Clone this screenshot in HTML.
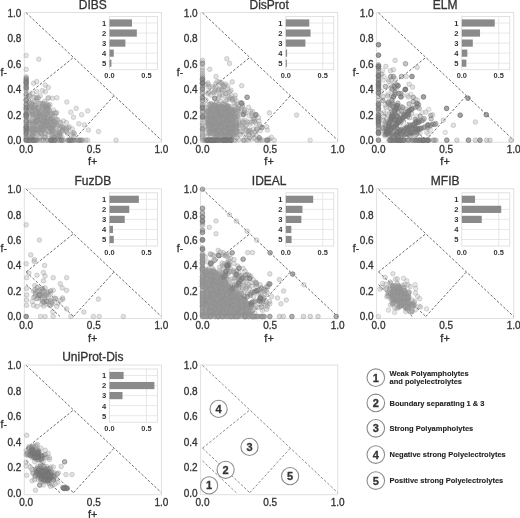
<!DOCTYPE html>
<html><head><meta charset="utf-8"><style>
html,body{margin:0;padding:0;background:#fff;}
svg{display:block;will-change:transform;filter:blur(0.45px);}
text{font-family:"Liberation Sans", sans-serif;fill:#333;stroke:#333;stroke-width:0.3px;}
text.b{font-weight:bold;fill:#333;stroke:none;}
text.lg{font-weight:bold;fill:#222;stroke:#222;stroke-width:0.1px;}
.p circle,.q circle{stroke-width:1.0;}
.p circle{fill:#9a9a9a;stroke:#8e8e8e;}
.q circle{fill:#7e7e7e;stroke:#727272;}
</style></head><body>
<svg width="520" height="518" viewBox="0 0 520 518">
<rect width="520" height="518" fill="#fff"/>
<rect x="24.30" y="12.50" width="137.1" height="129.7" fill="none" stroke="#e0e0e0" stroke-width="1"/>
<path d="M26.20 12.90L161.40 140.20M26.20 95.64L73.52 57.45M73.52 140.20L114.08 95.64M26.20 95.64L73.52 140.20M26.20 108.37L60.00 140.20" fill="none" stroke="#6c6c6c" stroke-width="1.0" stroke-dasharray="2.6 1.8"/>
<g class="p" fill-opacity="0.28" stroke-opacity="0.33"><circle cx="43.8" cy="132.8" r="2.3"/><circle cx="58.8" cy="135.7" r="2.3"/><circle cx="53.5" cy="125.0" r="2.3"/><circle cx="31.6" cy="119.9" r="2.3"/><circle cx="30.6" cy="122.6" r="2.3"/><circle cx="32.1" cy="135.0" r="2.3"/><circle cx="48.4" cy="108.3" r="2.3"/><circle cx="34.6" cy="130.2" r="2.3"/><circle cx="55.4" cy="123.9" r="2.3"/><circle cx="73.8" cy="136.6" r="2.3"/><circle cx="68.4" cy="127.8" r="2.3"/><circle cx="35.5" cy="134.0" r="2.3"/><circle cx="43.1" cy="108.7" r="2.3"/><circle cx="37.2" cy="117.2" r="2.3"/><circle cx="58.3" cy="124.8" r="2.3"/><circle cx="54.1" cy="136.0" r="2.3"/><circle cx="31.6" cy="130.8" r="2.3"/><circle cx="60.2" cy="122.8" r="2.3"/><circle cx="43.3" cy="117.0" r="2.3"/><circle cx="49.7" cy="127.4" r="2.3"/><circle cx="40.1" cy="117.5" r="2.3"/><circle cx="62.4" cy="127.8" r="2.3"/><circle cx="74.0" cy="134.0" r="2.3"/><circle cx="48.1" cy="110.8" r="2.3"/><circle cx="35.9" cy="120.5" r="2.3"/><circle cx="30.7" cy="114.1" r="2.3"/><circle cx="69.2" cy="126.9" r="2.3"/><circle cx="55.6" cy="121.7" r="2.3"/><circle cx="50.7" cy="114.2" r="2.3"/><circle cx="31.7" cy="112.8" r="2.3"/><circle cx="66.7" cy="128.0" r="2.3"/><circle cx="46.6" cy="114.0" r="2.3"/><circle cx="29.9" cy="121.5" r="2.3"/><circle cx="36.6" cy="134.0" r="2.3"/><circle cx="31.6" cy="110.4" r="2.3"/><circle cx="34.9" cy="129.3" r="2.3"/><circle cx="46.9" cy="106.7" r="2.3"/><circle cx="32.6" cy="122.0" r="2.3"/><circle cx="41.7" cy="123.2" r="2.3"/><circle cx="45.4" cy="106.2" r="2.3"/><circle cx="72.9" cy="132.8" r="2.3"/><circle cx="37.0" cy="129.9" r="2.3"/><circle cx="39.6" cy="120.7" r="2.3"/><circle cx="56.0" cy="128.8" r="2.3"/><circle cx="29.1" cy="123.1" r="2.3"/><circle cx="45.9" cy="117.7" r="2.3"/><circle cx="52.6" cy="115.9" r="2.3"/><circle cx="60.0" cy="136.3" r="2.3"/><circle cx="46.9" cy="123.8" r="2.3"/><circle cx="33.7" cy="115.3" r="2.3"/><circle cx="31.8" cy="135.8" r="2.3"/><circle cx="38.5" cy="132.4" r="2.3"/><circle cx="44.5" cy="136.4" r="2.3"/><circle cx="28.9" cy="132.8" r="2.3"/><circle cx="33.6" cy="125.1" r="2.3"/><circle cx="30.1" cy="106.6" r="2.3"/><circle cx="57.1" cy="132.9" r="2.3"/><circle cx="40.5" cy="125.7" r="2.3"/><circle cx="45.6" cy="133.8" r="2.3"/><circle cx="50.3" cy="120.7" r="2.3"/><circle cx="32.9" cy="134.6" r="2.3"/><circle cx="44.7" cy="128.7" r="2.3"/><circle cx="67.0" cy="132.4" r="2.3"/><circle cx="30.0" cy="103.8" r="2.3"/><circle cx="53.2" cy="133.0" r="2.3"/><circle cx="53.9" cy="137.3" r="2.3"/><circle cx="40.9" cy="125.0" r="2.3"/><circle cx="36.6" cy="110.3" r="2.3"/><circle cx="53.4" cy="110.0" r="2.3"/><circle cx="44.1" cy="130.2" r="2.3"/><circle cx="39.3" cy="119.5" r="2.3"/><circle cx="45.2" cy="137.2" r="2.3"/><circle cx="30.2" cy="128.2" r="2.3"/><circle cx="40.8" cy="113.2" r="2.3"/><circle cx="39.0" cy="130.1" r="2.3"/><circle cx="37.9" cy="130.9" r="2.3"/><circle cx="32.8" cy="114.3" r="2.3"/><circle cx="63.4" cy="121.0" r="2.3"/><circle cx="37.1" cy="109.7" r="2.3"/><circle cx="44.2" cy="109.2" r="2.3"/><circle cx="62.2" cy="132.1" r="2.3"/><circle cx="34.7" cy="132.8" r="2.3"/><circle cx="35.6" cy="108.3" r="2.3"/><circle cx="45.0" cy="118.4" r="2.3"/><circle cx="34.9" cy="137.8" r="2.3"/><circle cx="48.8" cy="106.7" r="2.3"/><circle cx="66.9" cy="130.6" r="2.3"/><circle cx="40.5" cy="127.7" r="2.3"/><circle cx="40.0" cy="117.0" r="2.3"/><circle cx="40.8" cy="123.1" r="2.3"/><circle cx="34.9" cy="105.3" r="2.3"/><circle cx="45.2" cy="121.7" r="2.3"/><circle cx="48.2" cy="105.0" r="2.3"/><circle cx="52.0" cy="119.0" r="2.3"/><circle cx="53.0" cy="137.6" r="2.3"/><circle cx="49.1" cy="131.6" r="2.3"/><circle cx="29.1" cy="109.3" r="2.3"/><circle cx="36.8" cy="121.1" r="2.3"/><circle cx="43.9" cy="119.5" r="2.3"/><circle cx="33.8" cy="118.0" r="2.3"/><circle cx="40.3" cy="128.2" r="2.3"/><circle cx="57.1" cy="119.9" r="2.3"/><circle cx="52.4" cy="113.2" r="2.3"/><circle cx="49.7" cy="118.9" r="2.3"/><circle cx="72.2" cy="128.9" r="2.3"/><circle cx="67.5" cy="133.3" r="2.3"/><circle cx="34.5" cy="122.3" r="2.3"/><circle cx="32.2" cy="129.6" r="2.3"/><circle cx="32.3" cy="114.0" r="2.3"/><circle cx="36.0" cy="112.3" r="2.3"/><circle cx="59.3" cy="133.1" r="2.3"/><circle cx="39.0" cy="103.7" r="2.3"/><circle cx="47.2" cy="120.6" r="2.3"/><circle cx="36.3" cy="122.6" r="2.3"/><circle cx="52.6" cy="126.0" r="2.3"/><circle cx="37.9" cy="126.7" r="2.3"/><circle cx="62.1" cy="137.6" r="2.3"/><circle cx="54.4" cy="122.3" r="2.3"/><circle cx="29.7" cy="126.3" r="2.3"/><circle cx="57.6" cy="119.7" r="2.3"/><circle cx="31.9" cy="102.6" r="2.3"/><circle cx="33.7" cy="128.7" r="2.3"/><circle cx="30.7" cy="110.0" r="2.3"/><circle cx="41.3" cy="133.6" r="2.3"/><circle cx="48.3" cy="105.2" r="2.3"/><circle cx="66.6" cy="128.9" r="2.3"/><circle cx="35.8" cy="104.9" r="2.3"/><circle cx="55.1" cy="112.9" r="2.3"/><circle cx="33.0" cy="136.2" r="2.3"/><circle cx="60.5" cy="122.9" r="2.3"/><circle cx="32.2" cy="104.3" r="2.3"/><circle cx="32.8" cy="107.2" r="2.3"/><circle cx="32.0" cy="107.0" r="2.3"/><circle cx="49.8" cy="126.0" r="2.3"/><circle cx="41.2" cy="133.6" r="2.3"/><circle cx="53.1" cy="129.6" r="2.3"/><circle cx="33.9" cy="132.4" r="2.3"/><circle cx="31.2" cy="131.0" r="2.3"/><circle cx="43.2" cy="127.2" r="2.3"/><circle cx="63.8" cy="127.8" r="2.3"/><circle cx="51.9" cy="131.8" r="2.3"/><circle cx="44.9" cy="137.6" r="2.3"/><circle cx="40.4" cy="137.7" r="2.3"/><circle cx="37.6" cy="121.1" r="2.3"/><circle cx="71.9" cy="134.4" r="2.3"/><circle cx="66.5" cy="122.6" r="2.3"/><circle cx="47.0" cy="119.9" r="2.3"/><circle cx="44.7" cy="108.1" r="2.3"/><circle cx="47.5" cy="125.7" r="2.3"/><circle cx="31.4" cy="133.6" r="2.3"/><circle cx="32.1" cy="111.4" r="2.3"/><circle cx="40.7" cy="132.4" r="2.3"/><circle cx="32.8" cy="107.8" r="2.3"/><circle cx="41.9" cy="129.5" r="2.3"/><circle cx="42.4" cy="121.6" r="2.3"/><circle cx="36.2" cy="122.1" r="2.3"/><circle cx="41.0" cy="103.4" r="2.3"/><circle cx="40.1" cy="103.3" r="2.3"/><circle cx="43.1" cy="125.4" r="2.3"/><circle cx="29.0" cy="124.4" r="2.3"/><circle cx="50.7" cy="120.0" r="2.3"/><circle cx="38.1" cy="120.0" r="2.3"/><circle cx="29.1" cy="128.7" r="2.3"/><circle cx="33.0" cy="123.8" r="2.3"/><circle cx="30.8" cy="137.5" r="2.3"/><circle cx="42.9" cy="129.8" r="2.3"/><circle cx="55.8" cy="119.1" r="2.3"/><circle cx="46.8" cy="126.5" r="2.3"/><circle cx="74.2" cy="132.9" r="2.3"/><circle cx="30.9" cy="108.0" r="2.3"/><circle cx="35.3" cy="119.3" r="2.3"/><circle cx="39.5" cy="137.2" r="2.3"/><circle cx="35.0" cy="125.2" r="2.3"/><circle cx="33.7" cy="108.0" r="2.3"/><circle cx="54.6" cy="115.5" r="2.3"/><circle cx="51.4" cy="138.2" r="2.3"/><circle cx="52.0" cy="118.9" r="2.3"/><circle cx="59.2" cy="135.9" r="2.3"/><circle cx="62.8" cy="129.1" r="2.3"/><circle cx="32.3" cy="128.7" r="2.3"/><circle cx="62.4" cy="130.8" r="2.3"/><circle cx="51.6" cy="124.4" r="2.3"/><circle cx="50.9" cy="113.5" r="2.3"/><circle cx="58.4" cy="135.5" r="2.3"/><circle cx="35.7" cy="129.1" r="2.3"/><circle cx="63.1" cy="127.2" r="2.3"/><circle cx="55.0" cy="137.8" r="2.3"/><circle cx="31.7" cy="128.5" r="2.3"/><circle cx="60.0" cy="127.7" r="2.3"/><circle cx="52.6" cy="121.4" r="2.3"/><circle cx="46.6" cy="111.7" r="2.3"/><circle cx="29.6" cy="103.1" r="2.3"/><circle cx="45.9" cy="107.9" r="2.3"/><circle cx="36.9" cy="99.9" r="2.3"/><circle cx="34.3" cy="101.4" r="2.3"/><circle cx="47.3" cy="114.1" r="2.3"/><circle cx="29.0" cy="102.2" r="2.3"/><circle cx="46.0" cy="107.1" r="2.3"/><circle cx="34.2" cy="106.0" r="2.3"/><circle cx="29.0" cy="95.6" r="2.3"/><circle cx="43.0" cy="104.7" r="2.3"/><circle cx="42.6" cy="103.8" r="2.3"/><circle cx="39.3" cy="113.5" r="2.3"/><circle cx="32.8" cy="93.5" r="2.3"/><circle cx="38.3" cy="108.0" r="2.3"/><circle cx="48.3" cy="109.9" r="2.3"/><circle cx="56.1" cy="113.5" r="2.3"/><circle cx="39.7" cy="113.5" r="2.3"/><circle cx="46.8" cy="106.0" r="2.3"/><circle cx="40.2" cy="95.9" r="2.3"/><circle cx="50.0" cy="104.7" r="2.3"/><circle cx="35.2" cy="110.6" r="2.3"/><circle cx="36.8" cy="91.7" r="2.3"/><circle cx="47.7" cy="109.1" r="2.3"/><circle cx="45.9" cy="111.2" r="2.3"/><circle cx="36.2" cy="112.4" r="2.3"/><circle cx="41.8" cy="112.4" r="2.3"/><circle cx="38.0" cy="108.2" r="2.3"/><circle cx="44.6" cy="101.4" r="2.3"/><circle cx="43.2" cy="106.1" r="2.3"/><circle cx="31.3" cy="107.7" r="2.3"/><circle cx="39.2" cy="108.4" r="2.3"/><circle cx="44.0" cy="103.4" r="2.3"/><circle cx="30.1" cy="96.7" r="2.3"/><circle cx="51.1" cy="114.7" r="2.3"/><circle cx="51.8" cy="127.9" r="2.3"/><circle cx="48.6" cy="122.1" r="2.3"/><circle cx="59.9" cy="135.1" r="2.3"/><circle cx="32.7" cy="132.2" r="2.3"/><circle cx="30.6" cy="115.5" r="2.3"/><circle cx="62.1" cy="126.5" r="2.3"/><circle cx="46.4" cy="103.8" r="2.3"/><circle cx="38.2" cy="127.8" r="2.3"/><circle cx="49.5" cy="120.7" r="2.3"/><circle cx="32.8" cy="130.4" r="2.3"/><circle cx="46.9" cy="122.5" r="2.3"/><circle cx="29.6" cy="120.2" r="2.3"/><circle cx="37.9" cy="117.1" r="2.3"/><circle cx="42.5" cy="124.0" r="2.3"/><circle cx="39.9" cy="112.4" r="2.3"/><circle cx="58.8" cy="132.7" r="2.3"/><circle cx="52.9" cy="134.2" r="2.3"/><circle cx="44.6" cy="116.9" r="2.3"/><circle cx="60.1" cy="133.4" r="2.3"/><circle cx="43.0" cy="121.5" r="2.3"/><circle cx="36.5" cy="117.4" r="2.3"/><circle cx="31.6" cy="137.5" r="2.3"/><circle cx="44.2" cy="121.4" r="2.3"/><circle cx="37.8" cy="113.1" r="2.3"/><circle cx="40.8" cy="128.2" r="2.3"/><circle cx="36.4" cy="121.1" r="2.3"/><circle cx="53.0" cy="128.6" r="2.3"/><circle cx="47.1" cy="131.0" r="2.3"/><circle cx="47.0" cy="109.4" r="2.3"/><circle cx="36.4" cy="98.8" r="2.3"/><circle cx="36.8" cy="120.9" r="2.3"/><circle cx="45.7" cy="114.8" r="2.3"/><circle cx="30.4" cy="138.2" r="2.3"/><circle cx="50.3" cy="118.7" r="2.3"/><circle cx="46.0" cy="122.1" r="2.3"/><circle cx="53.8" cy="124.0" r="2.3"/><circle cx="52.6" cy="130.4" r="2.3"/><circle cx="43.7" cy="126.0" r="2.3"/><circle cx="38.4" cy="129.4" r="2.3"/><circle cx="37.0" cy="115.1" r="2.3"/><circle cx="44.2" cy="123.2" r="2.3"/><circle cx="41.9" cy="114.4" r="2.3"/><circle cx="49.1" cy="127.0" r="2.3"/><circle cx="51.0" cy="127.8" r="2.3"/><circle cx="31.3" cy="105.4" r="2.3"/><circle cx="48.8" cy="134.5" r="2.3"/><circle cx="55.4" cy="124.8" r="2.3"/><circle cx="47.4" cy="116.7" r="2.3"/><circle cx="45.9" cy="125.9" r="2.3"/><circle cx="44.1" cy="126.5" r="2.3"/><circle cx="47.6" cy="124.4" r="2.3"/><circle cx="51.1" cy="129.9" r="2.3"/><circle cx="39.2" cy="115.6" r="2.3"/><circle cx="58.2" cy="132.5" r="2.3"/><circle cx="42.5" cy="108.4" r="2.3"/><circle cx="40.2" cy="115.5" r="2.3"/><circle cx="61.9" cy="130.1" r="2.3"/><circle cx="57.1" cy="135.3" r="2.3"/><circle cx="46.0" cy="125.2" r="2.3"/><circle cx="45.0" cy="113.6" r="2.3"/><circle cx="37.6" cy="116.7" r="2.3"/><circle cx="32.4" cy="114.7" r="2.3"/><circle cx="50.0" cy="128.6" r="2.3"/><circle cx="36.2" cy="126.0" r="2.3"/><circle cx="39.4" cy="114.0" r="2.3"/><circle cx="44.7" cy="127.7" r="2.3"/><circle cx="49.7" cy="111.1" r="2.3"/><circle cx="43.8" cy="120.3" r="2.3"/><circle cx="57.2" cy="126.2" r="2.3"/><circle cx="29.9" cy="95.2" r="2.3"/><circle cx="43.4" cy="119.6" r="2.3"/><circle cx="54.2" cy="121.3" r="2.3"/><circle cx="40.8" cy="132.4" r="2.3"/><circle cx="44.9" cy="114.4" r="2.3"/><circle cx="32.0" cy="128.8" r="2.3"/><circle cx="41.0" cy="126.7" r="2.3"/><circle cx="48.7" cy="132.0" r="2.3"/><circle cx="34.2" cy="123.7" r="2.3"/><circle cx="43.2" cy="129.6" r="2.3"/><circle cx="43.9" cy="116.7" r="2.3"/><circle cx="56.6" cy="112.6" r="2.3"/><circle cx="35.3" cy="124.4" r="2.3"/><circle cx="35.9" cy="121.0" r="2.3"/><circle cx="48.8" cy="125.8" r="2.3"/><circle cx="52.5" cy="125.0" r="2.3"/><circle cx="48.9" cy="121.5" r="2.3"/><circle cx="57.9" cy="131.0" r="2.3"/><circle cx="53.2" cy="131.0" r="2.3"/><circle cx="51.6" cy="134.2" r="2.3"/><circle cx="42.6" cy="107.1" r="2.3"/><circle cx="56.8" cy="97.7" r="2.3"/><circle cx="48.7" cy="97.6" r="2.3"/><circle cx="37.7" cy="97.7" r="2.3"/><circle cx="47.8" cy="98.5" r="2.3"/><circle cx="34.1" cy="97.3" r="2.3"/><circle cx="38.4" cy="97.8" r="2.3"/><circle cx="52.4" cy="98.3" r="2.3"/><circle cx="36.0" cy="97.7" r="2.3"/><circle cx="33.6" cy="83.3" r="2.3"/><circle cx="36.7" cy="81.6" r="2.3"/><circle cx="45.3" cy="85.2" r="2.3"/><circle cx="48.4" cy="87.5" r="2.3"/><circle cx="45.3" cy="91.8" r="2.3"/><circle cx="42.4" cy="90.6" r="2.3"/><circle cx="87.7" cy="110.9" r="2.3"/><circle cx="81.6" cy="114.7" r="2.3"/><circle cx="88.4" cy="130.0" r="2.3"/><circle cx="98.5" cy="131.5" r="2.3"/><circle cx="76.2" cy="108.4" r="2.3"/><circle cx="73.5" cy="117.3" r="2.3"/><circle cx="78.9" cy="123.7" r="2.3"/><circle cx="84.3" cy="124.9" r="2.3"/><circle cx="66.8" cy="102.0" r="2.3"/><circle cx="70.8" cy="112.2" r="2.3"/></g>
<g class="q" fill-opacity="0.25" stroke-opacity="0.29"><circle cx="26.2" cy="99.5" r="2.3"/><circle cx="26.2" cy="134.4" r="2.3"/><circle cx="26.2" cy="129.8" r="2.3"/><circle cx="26.2" cy="95.9" r="2.3"/><circle cx="26.2" cy="114.1" r="2.3"/><circle cx="26.2" cy="122.2" r="2.3"/><circle cx="26.2" cy="120.6" r="2.3"/><circle cx="26.2" cy="79.5" r="2.3"/><circle cx="26.2" cy="120.3" r="2.3"/><circle cx="26.2" cy="104.1" r="2.3"/><circle cx="26.2" cy="117.5" r="2.3"/><circle cx="26.2" cy="113.7" r="2.3"/><circle cx="26.2" cy="85.2" r="2.3"/><circle cx="26.2" cy="76.8" r="2.3"/><circle cx="26.2" cy="117.0" r="2.3"/><circle cx="26.2" cy="127.6" r="2.3"/><circle cx="26.2" cy="93.9" r="2.3"/><circle cx="26.2" cy="127.2" r="2.3"/><circle cx="26.2" cy="139.8" r="2.3"/><circle cx="26.2" cy="82.8" r="2.3"/><circle cx="26.2" cy="113.2" r="2.3"/><circle cx="26.2" cy="88.0" r="2.3"/><circle cx="26.2" cy="114.3" r="2.3"/><circle cx="26.2" cy="84.0" r="2.3"/><circle cx="26.2" cy="110.9" r="2.3"/><circle cx="26.2" cy="129.9" r="2.3"/><circle cx="26.2" cy="139.3" r="2.3"/><circle cx="26.2" cy="105.1" r="2.3"/><circle cx="26.2" cy="99.4" r="2.3"/><circle cx="26.2" cy="82.3" r="2.3"/><circle cx="26.2" cy="134.5" r="2.3"/><circle cx="26.2" cy="100.6" r="2.3"/><circle cx="26.2" cy="116.6" r="2.3"/><circle cx="26.2" cy="108.1" r="2.3"/><circle cx="26.2" cy="130.9" r="2.3"/><circle cx="26.2" cy="122.2" r="2.3"/><circle cx="26.2" cy="107.0" r="2.3"/><circle cx="26.2" cy="81.3" r="2.3"/><circle cx="26.2" cy="133.3" r="2.3"/><circle cx="26.2" cy="109.0" r="2.3"/><circle cx="26.2" cy="89.0" r="2.3"/><circle cx="26.2" cy="78.7" r="2.3"/><circle cx="26.2" cy="127.6" r="2.3"/><circle cx="26.2" cy="132.1" r="2.3"/><circle cx="26.2" cy="80.2" r="2.3"/><circle cx="26.2" cy="78.1" r="2.3"/><circle cx="26.2" cy="109.5" r="2.3"/><circle cx="26.2" cy="136.8" r="2.3"/><circle cx="26.2" cy="81.2" r="2.3"/><circle cx="26.2" cy="115.5" r="2.3"/><circle cx="26.2" cy="82.6" r="2.3"/><circle cx="26.2" cy="100.7" r="2.3"/><circle cx="26.2" cy="87.7" r="2.3"/><circle cx="26.2" cy="130.0" r="2.3"/><circle cx="26.2" cy="90.2" r="2.3"/><circle cx="26.2" cy="126.1" r="2.3"/><circle cx="26.2" cy="114.5" r="2.3"/><circle cx="26.2" cy="86.3" r="2.3"/><circle cx="26.2" cy="87.4" r="2.3"/><circle cx="26.2" cy="128.6" r="2.3"/><circle cx="26.2" cy="126.3" r="2.3"/><circle cx="26.2" cy="114.8" r="2.3"/><circle cx="26.2" cy="107.2" r="2.3"/><circle cx="26.2" cy="115.8" r="2.3"/><circle cx="26.2" cy="132.4" r="2.3"/><circle cx="26.2" cy="124.5" r="2.3"/><circle cx="26.2" cy="94.1" r="2.3"/><circle cx="26.2" cy="83.1" r="2.3"/><circle cx="26.2" cy="137.6" r="2.3"/><circle cx="26.2" cy="104.4" r="2.3"/></g>
<g class="p" fill-opacity="0.28" stroke-opacity="0.33"><circle cx="26.2" cy="69.4" r="2.3"/><circle cx="26.2" cy="55.5" r="2.3"/><circle cx="38.8" cy="59.2" r="2.3"/></g>
<g class="q" fill-opacity="0.25" stroke-opacity="0.29"><circle cx="69.2" cy="140.2" r="2.3"/><circle cx="28.4" cy="140.2" r="2.3"/><circle cx="73.8" cy="140.2" r="2.3"/><circle cx="32.9" cy="140.2" r="2.3"/><circle cx="60.2" cy="140.2" r="2.3"/><circle cx="57.4" cy="140.2" r="2.3"/><circle cx="61.8" cy="140.2" r="2.3"/><circle cx="43.6" cy="140.2" r="2.3"/><circle cx="50.0" cy="140.2" r="2.3"/><circle cx="59.3" cy="140.2" r="2.3"/><circle cx="50.4" cy="140.2" r="2.3"/><circle cx="63.6" cy="140.2" r="2.3"/><circle cx="51.6" cy="140.2" r="2.3"/><circle cx="51.1" cy="140.2" r="2.3"/><circle cx="27.5" cy="140.2" r="2.3"/><circle cx="61.3" cy="140.2" r="2.3"/><circle cx="54.0" cy="140.2" r="2.3"/><circle cx="39.6" cy="140.2" r="2.3"/><circle cx="69.6" cy="140.2" r="2.3"/><circle cx="70.5" cy="140.2" r="2.3"/><circle cx="52.2" cy="140.2" r="2.3"/><circle cx="36.4" cy="140.2" r="2.3"/><circle cx="53.1" cy="140.2" r="2.3"/><circle cx="32.3" cy="140.2" r="2.3"/><circle cx="33.5" cy="140.2" r="2.3"/><circle cx="50.7" cy="140.2" r="2.3"/><circle cx="31.4" cy="140.2" r="2.3"/><circle cx="51.3" cy="140.2" r="2.3"/><circle cx="55.2" cy="140.2" r="2.3"/><circle cx="28.5" cy="140.2" r="2.3"/><circle cx="62.3" cy="140.2" r="2.3"/><circle cx="30.9" cy="140.2" r="2.3"/><circle cx="67.9" cy="140.2" r="2.3"/><circle cx="70.4" cy="140.2" r="2.3"/><circle cx="55.2" cy="140.2" r="2.3"/><circle cx="29.3" cy="140.2" r="2.3"/><circle cx="54.8" cy="140.2" r="2.3"/><circle cx="47.7" cy="140.2" r="2.3"/><circle cx="80.2" cy="140.2" r="2.3"/><circle cx="33.9" cy="140.2" r="2.3"/><circle cx="74.9" cy="140.2" r="2.3"/><circle cx="82.8" cy="140.2" r="2.3"/><circle cx="67.8" cy="140.2" r="2.3"/><circle cx="72.5" cy="140.2" r="2.3"/><circle cx="37.2" cy="140.2" r="2.3"/><circle cx="81.9" cy="140.2" r="2.3"/><circle cx="54.1" cy="140.2" r="2.3"/><circle cx="80.5" cy="140.2" r="2.3"/><circle cx="78.2" cy="140.2" r="2.3"/><circle cx="35.6" cy="140.2" r="2.3"/><circle cx="71.0" cy="140.2" r="2.3"/><circle cx="79.0" cy="140.2" r="2.3"/><circle cx="29.9" cy="140.2" r="2.3"/><circle cx="46.1" cy="140.2" r="2.3"/><circle cx="69.1" cy="140.2" r="2.3"/><circle cx="35.2" cy="140.2" r="2.3"/><circle cx="77.1" cy="140.2" r="2.3"/><circle cx="41.8" cy="140.2" r="2.3"/><circle cx="72.5" cy="140.2" r="2.3"/><circle cx="34.4" cy="140.2" r="2.3"/></g>
<g class="p" fill-opacity="0.28" stroke-opacity="0.33"><circle cx="85.7" cy="140.2" r="2.3"/><circle cx="87.7" cy="140.2" r="2.3"/><circle cx="116.1" cy="140.2" r="2.3"/></g>
<g class="q" fill-opacity="0.60" stroke-opacity="0.71"><circle cx="26.2" cy="140.2" r="2.3"/></g>
<rect x="109.50" y="16.50" width="48.0" height="53.2" fill="#fff" stroke="#dadada" stroke-width="0.8"/>
<path d="M146.42 16.50V69.70M109.50 23.00H157.50M109.50 33.05H157.50M109.50 43.10H157.50M109.50 53.15H157.50M109.50 63.20H157.50" stroke="#e2e2e2" stroke-width="0.8" fill="none"/>
<rect x="109.50" y="19.40" width="22.52" height="7.2" fill="#8a8a8a"/>
<text x="106.20" y="25.85" text-anchor="end" font-size="7.6" class="b">1</text>
<rect x="109.50" y="29.45" width="27.32" height="7.2" fill="#8a8a8a"/>
<text x="106.20" y="35.90" text-anchor="end" font-size="7.6" class="b">2</text>
<rect x="109.50" y="39.50" width="15.88" height="7.2" fill="#8a8a8a"/>
<text x="106.20" y="45.95" text-anchor="end" font-size="7.6" class="b">3</text>
<rect x="109.50" y="49.55" width="4.28" height="7.2" fill="#8a8a8a"/>
<text x="106.20" y="56.00" text-anchor="end" font-size="7.6" class="b">4</text>
<rect x="109.50" y="59.60" width="1.92" height="7.2" fill="#8a8a8a"/>
<text x="106.20" y="66.05" text-anchor="end" font-size="7.6" class="b">5</text>
<text x="109.50" y="78.40" text-anchor="middle" font-size="7.4" class="b">0.0</text>
<text x="146.42" y="78.40" text-anchor="middle" font-size="7.4" class="b">0.5</text>
<text x="21.30" y="144.10" text-anchor="end" font-size="10">0.0</text>
<text x="21.30" y="118.64" text-anchor="end" font-size="10">0.2</text>
<text x="21.30" y="93.18" text-anchor="end" font-size="10">0.4</text>
<text x="21.30" y="67.72" text-anchor="end" font-size="10">0.6</text>
<text x="21.30" y="42.26" text-anchor="end" font-size="10">0.8</text>
<text x="21.30" y="16.80" text-anchor="end" font-size="10">1.0</text>
<text x="26.20" y="153.00" text-anchor="middle" font-size="10">0.0</text>
<text x="93.80" y="153.00" text-anchor="middle" font-size="10">0.5</text>
<text x="161.40" y="153.00" text-anchor="middle" font-size="10">1.0</text>
<text x="92.80" y="165.20" text-anchor="middle" font-size="11">f+</text>
<text x="0.50" y="75.50" font-size="10.4">f-</text>
<text x="92.85" y="8.90" text-anchor="middle" font-size="12" stroke-width="0.4">DIBS</text>
<rect x="200.60" y="12.50" width="137.1" height="129.7" fill="none" stroke="#e0e0e0" stroke-width="1"/>
<path d="M202.50 12.90L337.70 140.20M202.50 95.64L249.82 57.45M249.82 140.20L290.38 95.64M202.50 95.64L249.82 140.20M202.50 108.37L236.30 140.20" fill="none" stroke="#6c6c6c" stroke-width="1.0" stroke-dasharray="2.6 1.8"/>
<g class="p" fill-opacity="0.28" stroke-opacity="0.33"><circle cx="206.0" cy="99.9" r="2.3"/><circle cx="228.7" cy="97.1" r="2.3"/><circle cx="208.1" cy="122.1" r="2.3"/><circle cx="209.8" cy="109.8" r="2.3"/><circle cx="226.4" cy="107.4" r="2.3"/><circle cx="209.7" cy="109.1" r="2.3"/><circle cx="232.4" cy="100.3" r="2.3"/><circle cx="208.4" cy="87.0" r="2.3"/><circle cx="218.5" cy="104.1" r="2.3"/><circle cx="221.9" cy="106.2" r="2.3"/><circle cx="209.2" cy="105.2" r="2.3"/><circle cx="218.4" cy="98.6" r="2.3"/><circle cx="208.6" cy="108.5" r="2.3"/><circle cx="216.9" cy="102.2" r="2.3"/><circle cx="232.1" cy="99.2" r="2.3"/><circle cx="221.4" cy="82.8" r="2.3"/><circle cx="211.9" cy="103.8" r="2.3"/><circle cx="219.1" cy="90.2" r="2.3"/><circle cx="232.6" cy="114.1" r="2.3"/><circle cx="208.4" cy="92.1" r="2.3"/><circle cx="207.5" cy="104.1" r="2.3"/><circle cx="208.6" cy="112.6" r="2.3"/><circle cx="218.9" cy="81.9" r="2.3"/><circle cx="231.6" cy="95.8" r="2.3"/><circle cx="234.9" cy="98.2" r="2.3"/><circle cx="223.5" cy="84.8" r="2.3"/><circle cx="215.0" cy="90.0" r="2.3"/><circle cx="233.0" cy="98.9" r="2.3"/><circle cx="218.3" cy="113.2" r="2.3"/><circle cx="219.5" cy="94.0" r="2.3"/><circle cx="219.1" cy="96.0" r="2.3"/><circle cx="211.1" cy="120.9" r="2.3"/><circle cx="216.6" cy="108.1" r="2.3"/><circle cx="222.0" cy="113.0" r="2.3"/><circle cx="217.0" cy="81.6" r="2.3"/><circle cx="220.5" cy="101.1" r="2.3"/><circle cx="218.1" cy="89.7" r="2.3"/><circle cx="218.5" cy="106.9" r="2.3"/><circle cx="227.4" cy="107.6" r="2.3"/><circle cx="211.4" cy="111.9" r="2.3"/><circle cx="212.3" cy="118.3" r="2.3"/><circle cx="222.3" cy="84.7" r="2.3"/><circle cx="214.2" cy="92.8" r="2.3"/><circle cx="213.0" cy="114.8" r="2.3"/><circle cx="212.0" cy="119.0" r="2.3"/><circle cx="205.8" cy="84.4" r="2.3"/><circle cx="229.1" cy="121.7" r="2.3"/><circle cx="237.7" cy="110.8" r="2.3"/><circle cx="226.1" cy="93.5" r="2.3"/><circle cx="229.5" cy="114.9" r="2.3"/><circle cx="207.5" cy="112.1" r="2.3"/><circle cx="223.4" cy="96.1" r="2.3"/><circle cx="219.1" cy="108.1" r="2.3"/><circle cx="230.4" cy="97.9" r="2.3"/><circle cx="215.5" cy="84.1" r="2.3"/><circle cx="234.1" cy="103.0" r="2.3"/><circle cx="229.6" cy="114.3" r="2.3"/><circle cx="210.0" cy="86.9" r="2.3"/><circle cx="222.6" cy="104.0" r="2.3"/><circle cx="222.6" cy="107.8" r="2.3"/><circle cx="220.3" cy="119.6" r="2.3"/><circle cx="229.1" cy="99.2" r="2.3"/><circle cx="224.5" cy="86.1" r="2.3"/><circle cx="208.4" cy="84.6" r="2.3"/><circle cx="216.0" cy="86.9" r="2.3"/><circle cx="213.5" cy="115.4" r="2.3"/><circle cx="213.4" cy="114.9" r="2.3"/><circle cx="209.4" cy="92.8" r="2.3"/><circle cx="223.4" cy="103.4" r="2.3"/><circle cx="221.5" cy="89.6" r="2.3"/><circle cx="227.8" cy="106.0" r="2.3"/><circle cx="220.4" cy="82.8" r="2.3"/><circle cx="213.5" cy="92.0" r="2.3"/><circle cx="227.8" cy="86.0" r="2.3"/><circle cx="223.9" cy="90.1" r="2.3"/><circle cx="221.3" cy="116.6" r="2.3"/><circle cx="227.0" cy="106.8" r="2.3"/><circle cx="222.4" cy="89.9" r="2.3"/><circle cx="222.0" cy="94.7" r="2.3"/><circle cx="218.9" cy="88.8" r="2.3"/><circle cx="214.6" cy="91.7" r="2.3"/><circle cx="241.1" cy="103.0" r="2.3"/><circle cx="231.1" cy="90.2" r="2.3"/><circle cx="236.4" cy="101.3" r="2.3"/><circle cx="223.2" cy="86.6" r="2.3"/><circle cx="225.7" cy="93.9" r="2.3"/><circle cx="214.3" cy="111.5" r="2.3"/><circle cx="227.4" cy="88.7" r="2.3"/><circle cx="210.7" cy="95.1" r="2.3"/><circle cx="220.5" cy="111.2" r="2.3"/><circle cx="227.7" cy="111.5" r="2.3"/><circle cx="213.3" cy="86.5" r="2.3"/><circle cx="230.0" cy="91.5" r="2.3"/><circle cx="213.4" cy="105.2" r="2.3"/><circle cx="207.9" cy="93.8" r="2.3"/><circle cx="210.8" cy="115.1" r="2.3"/><circle cx="225.6" cy="84.0" r="2.3"/><circle cx="235.3" cy="95.4" r="2.3"/><circle cx="235.4" cy="106.0" r="2.3"/><circle cx="228.2" cy="92.4" r="2.3"/><circle cx="255.0" cy="115.8" r="2.3"/><circle cx="244.0" cy="114.1" r="2.3"/><circle cx="250.6" cy="111.1" r="2.3"/><circle cx="240.8" cy="102.6" r="2.3"/><circle cx="249.3" cy="138.0" r="2.3"/><circle cx="246.3" cy="124.9" r="2.3"/><circle cx="236.8" cy="124.2" r="2.3"/><circle cx="251.6" cy="113.5" r="2.3"/><circle cx="249.2" cy="130.1" r="2.3"/><circle cx="244.5" cy="111.9" r="2.3"/><circle cx="244.3" cy="109.6" r="2.3"/><circle cx="250.6" cy="132.1" r="2.3"/><circle cx="241.0" cy="110.5" r="2.3"/><circle cx="253.4" cy="118.7" r="2.3"/><circle cx="249.2" cy="115.8" r="2.3"/><circle cx="253.4" cy="129.0" r="2.3"/><circle cx="256.3" cy="135.4" r="2.3"/><circle cx="266.7" cy="126.7" r="2.3"/><circle cx="267.4" cy="130.0" r="2.3"/><circle cx="250.0" cy="130.5" r="2.3"/><circle cx="251.8" cy="133.1" r="2.3"/><circle cx="236.4" cy="112.6" r="2.3"/><circle cx="246.6" cy="130.8" r="2.3"/><circle cx="247.3" cy="121.9" r="2.3"/><circle cx="251.9" cy="115.9" r="2.3"/><circle cx="260.4" cy="126.4" r="2.3"/><circle cx="238.4" cy="108.6" r="2.3"/><circle cx="241.4" cy="108.5" r="2.3"/><circle cx="259.4" cy="139.6" r="2.3"/><circle cx="236.7" cy="103.9" r="2.3"/><circle cx="260.2" cy="130.7" r="2.3"/><circle cx="240.0" cy="134.8" r="2.3"/><circle cx="244.8" cy="110.6" r="2.3"/><circle cx="248.9" cy="134.4" r="2.3"/><circle cx="242.4" cy="106.2" r="2.3"/><circle cx="243.5" cy="113.7" r="2.3"/><circle cx="256.6" cy="130.1" r="2.3"/><circle cx="244.8" cy="134.9" r="2.3"/><circle cx="254.3" cy="138.0" r="2.3"/><circle cx="253.3" cy="134.7" r="2.3"/><circle cx="254.2" cy="121.2" r="2.3"/><circle cx="236.5" cy="108.1" r="2.3"/><circle cx="253.4" cy="118.7" r="2.3"/><circle cx="250.0" cy="124.2" r="2.3"/><circle cx="271.4" cy="137.3" r="2.3"/><circle cx="237.3" cy="116.9" r="2.3"/><circle cx="254.9" cy="121.7" r="2.3"/><circle cx="269.1" cy="138.9" r="2.3"/><circle cx="248.7" cy="107.3" r="2.3"/><circle cx="249.7" cy="122.1" r="2.3"/><circle cx="226.6" cy="124.7" r="2.3"/><circle cx="245.8" cy="112.9" r="2.3"/><circle cx="248.6" cy="131.7" r="2.3"/><circle cx="248.4" cy="131.2" r="2.3"/><circle cx="223.1" cy="123.1" r="2.3"/><circle cx="233.5" cy="134.6" r="2.3"/><circle cx="237.8" cy="107.9" r="2.3"/><circle cx="228.4" cy="137.0" r="2.3"/><circle cx="255.0" cy="131.6" r="2.3"/><circle cx="254.7" cy="119.1" r="2.3"/><circle cx="257.0" cy="129.0" r="2.3"/><circle cx="231.5" cy="137.9" r="2.3"/><circle cx="232.4" cy="130.8" r="2.3"/><circle cx="238.1" cy="134.8" r="2.3"/><circle cx="236.9" cy="131.8" r="2.3"/><circle cx="243.6" cy="128.1" r="2.3"/><circle cx="246.1" cy="139.8" r="2.3"/><circle cx="235.4" cy="132.4" r="2.3"/><circle cx="235.8" cy="125.0" r="2.3"/><circle cx="239.1" cy="112.1" r="2.3"/><circle cx="229.0" cy="137.7" r="2.3"/><circle cx="258.5" cy="117.5" r="2.3"/><circle cx="248.9" cy="135.2" r="2.3"/><circle cx="256.6" cy="129.1" r="2.3"/><circle cx="226.4" cy="131.9" r="2.3"/><circle cx="256.1" cy="123.8" r="2.3"/><circle cx="237.1" cy="129.1" r="2.3"/><circle cx="244.9" cy="120.2" r="2.3"/><circle cx="241.1" cy="131.2" r="2.3"/><circle cx="241.9" cy="131.9" r="2.3"/><circle cx="238.5" cy="139.7" r="2.3"/><circle cx="242.4" cy="126.7" r="2.3"/><circle cx="227.3" cy="118.9" r="2.3"/><circle cx="242.6" cy="105.0" r="2.3"/><circle cx="259.0" cy="121.1" r="2.3"/><circle cx="245.2" cy="126.6" r="2.3"/><circle cx="238.8" cy="122.1" r="2.3"/><circle cx="225.3" cy="116.1" r="2.3"/><circle cx="252.6" cy="111.6" r="2.3"/><circle cx="232.6" cy="132.1" r="2.3"/><circle cx="226.2" cy="109.4" r="2.3"/><circle cx="233.9" cy="126.0" r="2.3"/><circle cx="237.4" cy="113.6" r="2.3"/><circle cx="259.5" cy="124.4" r="2.3"/><circle cx="227.2" cy="115.6" r="2.3"/><circle cx="234.1" cy="114.7" r="2.3"/><circle cx="246.1" cy="129.6" r="2.3"/><circle cx="251.6" cy="122.3" r="2.3"/><circle cx="251.5" cy="139.2" r="2.3"/><circle cx="236.2" cy="125.3" r="2.3"/></g>
<g class="p" fill-opacity="0.30" stroke-opacity="0.35"><circle cx="229.0" cy="133.6" r="2.3"/><circle cx="219.6" cy="119.6" r="2.3"/><circle cx="231.0" cy="127.2" r="2.3"/><circle cx="211.8" cy="130.7" r="2.3"/><circle cx="221.0" cy="106.0" r="2.3"/><circle cx="225.2" cy="137.8" r="2.3"/><circle cx="222.8" cy="132.7" r="2.3"/><circle cx="210.4" cy="120.6" r="2.3"/><circle cx="224.5" cy="114.0" r="2.3"/><circle cx="211.1" cy="109.2" r="2.3"/><circle cx="211.2" cy="114.5" r="2.3"/><circle cx="232.2" cy="122.6" r="2.3"/><circle cx="232.2" cy="113.1" r="2.3"/><circle cx="214.1" cy="128.0" r="2.3"/><circle cx="217.7" cy="122.9" r="2.3"/><circle cx="230.2" cy="133.1" r="2.3"/><circle cx="213.3" cy="126.4" r="2.3"/><circle cx="232.8" cy="126.7" r="2.3"/><circle cx="223.7" cy="114.5" r="2.3"/><circle cx="223.6" cy="121.0" r="2.3"/><circle cx="207.6" cy="118.3" r="2.3"/><circle cx="224.5" cy="124.5" r="2.3"/><circle cx="232.2" cy="111.3" r="2.3"/><circle cx="221.0" cy="112.5" r="2.3"/><circle cx="218.1" cy="129.0" r="2.3"/><circle cx="211.5" cy="118.7" r="2.3"/><circle cx="221.9" cy="119.2" r="2.3"/><circle cx="220.9" cy="107.9" r="2.3"/><circle cx="222.9" cy="125.0" r="2.3"/><circle cx="223.6" cy="132.7" r="2.3"/><circle cx="224.9" cy="121.0" r="2.3"/><circle cx="210.8" cy="129.9" r="2.3"/><circle cx="229.0" cy="115.9" r="2.3"/><circle cx="213.9" cy="121.4" r="2.3"/><circle cx="221.9" cy="115.5" r="2.3"/><circle cx="219.9" cy="130.2" r="2.3"/><circle cx="238.5" cy="118.1" r="2.3"/><circle cx="231.1" cy="109.7" r="2.3"/><circle cx="230.5" cy="137.5" r="2.3"/><circle cx="211.2" cy="118.9" r="2.3"/><circle cx="217.8" cy="126.5" r="2.3"/><circle cx="222.1" cy="118.3" r="2.3"/><circle cx="229.0" cy="111.8" r="2.3"/><circle cx="220.2" cy="109.6" r="2.3"/><circle cx="227.3" cy="132.5" r="2.3"/><circle cx="226.3" cy="112.9" r="2.3"/><circle cx="238.5" cy="106.1" r="2.3"/><circle cx="235.5" cy="116.6" r="2.3"/><circle cx="213.4" cy="121.1" r="2.3"/><circle cx="221.2" cy="117.1" r="2.3"/><circle cx="244.4" cy="122.7" r="2.3"/><circle cx="229.2" cy="116.4" r="2.3"/><circle cx="220.1" cy="131.9" r="2.3"/><circle cx="223.7" cy="122.7" r="2.3"/><circle cx="221.8" cy="121.9" r="2.3"/><circle cx="227.9" cy="134.9" r="2.3"/><circle cx="229.3" cy="127.7" r="2.3"/><circle cx="215.0" cy="125.7" r="2.3"/><circle cx="219.1" cy="132.5" r="2.3"/><circle cx="225.1" cy="120.2" r="2.3"/><circle cx="220.4" cy="115.2" r="2.3"/><circle cx="209.6" cy="133.4" r="2.3"/><circle cx="222.4" cy="118.9" r="2.3"/><circle cx="220.3" cy="134.0" r="2.3"/><circle cx="224.8" cy="131.7" r="2.3"/><circle cx="229.7" cy="136.3" r="2.3"/><circle cx="231.3" cy="129.2" r="2.3"/><circle cx="228.3" cy="130.1" r="2.3"/><circle cx="215.4" cy="115.1" r="2.3"/><circle cx="210.5" cy="109.8" r="2.3"/><circle cx="209.9" cy="117.9" r="2.3"/><circle cx="233.3" cy="110.1" r="2.3"/><circle cx="217.3" cy="113.0" r="2.3"/><circle cx="207.0" cy="107.9" r="2.3"/><circle cx="234.4" cy="126.6" r="2.3"/><circle cx="209.6" cy="123.5" r="2.3"/><circle cx="229.2" cy="124.1" r="2.3"/><circle cx="223.7" cy="117.0" r="2.3"/><circle cx="228.3" cy="120.9" r="2.3"/><circle cx="218.5" cy="132.0" r="2.3"/><circle cx="210.3" cy="128.7" r="2.3"/><circle cx="219.5" cy="129.1" r="2.3"/><circle cx="225.9" cy="120.9" r="2.3"/><circle cx="209.7" cy="121.9" r="2.3"/><circle cx="215.8" cy="118.2" r="2.3"/><circle cx="206.4" cy="133.0" r="2.3"/><circle cx="221.3" cy="131.3" r="2.3"/><circle cx="227.9" cy="136.0" r="2.3"/><circle cx="228.8" cy="135.1" r="2.3"/><circle cx="208.1" cy="111.2" r="2.3"/><circle cx="221.9" cy="113.4" r="2.3"/><circle cx="225.3" cy="132.1" r="2.3"/><circle cx="237.6" cy="116.2" r="2.3"/><circle cx="221.5" cy="111.7" r="2.3"/><circle cx="215.0" cy="130.1" r="2.3"/><circle cx="210.6" cy="117.1" r="2.3"/><circle cx="229.6" cy="121.2" r="2.3"/><circle cx="233.1" cy="127.7" r="2.3"/><circle cx="216.1" cy="129.5" r="2.3"/><circle cx="219.1" cy="127.6" r="2.3"/><circle cx="216.0" cy="128.1" r="2.3"/><circle cx="208.8" cy="124.1" r="2.3"/><circle cx="217.0" cy="109.0" r="2.3"/><circle cx="232.9" cy="110.6" r="2.3"/><circle cx="220.2" cy="110.6" r="2.3"/><circle cx="214.6" cy="124.0" r="2.3"/><circle cx="218.3" cy="110.3" r="2.3"/><circle cx="219.1" cy="111.8" r="2.3"/><circle cx="229.3" cy="136.0" r="2.3"/><circle cx="208.0" cy="129.3" r="2.3"/><circle cx="213.1" cy="130.2" r="2.3"/><circle cx="223.8" cy="107.8" r="2.3"/><circle cx="210.2" cy="111.3" r="2.3"/><circle cx="226.8" cy="129.3" r="2.3"/><circle cx="211.6" cy="126.4" r="2.3"/><circle cx="215.1" cy="98.7" r="2.3"/><circle cx="224.1" cy="117.8" r="2.3"/><circle cx="229.8" cy="118.6" r="2.3"/><circle cx="206.6" cy="116.0" r="2.3"/><circle cx="236.6" cy="126.7" r="2.3"/><circle cx="226.1" cy="115.0" r="2.3"/><circle cx="207.3" cy="136.2" r="2.3"/><circle cx="226.6" cy="134.1" r="2.3"/><circle cx="221.9" cy="131.3" r="2.3"/><circle cx="222.2" cy="123.2" r="2.3"/><circle cx="222.1" cy="130.0" r="2.3"/><circle cx="211.5" cy="127.6" r="2.3"/><circle cx="224.3" cy="136.9" r="2.3"/><circle cx="211.7" cy="119.1" r="2.3"/><circle cx="220.2" cy="130.5" r="2.3"/><circle cx="213.2" cy="114.4" r="2.3"/><circle cx="224.3" cy="135.7" r="2.3"/><circle cx="225.2" cy="113.0" r="2.3"/><circle cx="228.8" cy="112.1" r="2.3"/><circle cx="229.5" cy="127.2" r="2.3"/><circle cx="231.0" cy="138.1" r="2.3"/><circle cx="207.4" cy="114.8" r="2.3"/><circle cx="224.4" cy="122.2" r="2.3"/><circle cx="233.4" cy="129.5" r="2.3"/><circle cx="208.6" cy="125.8" r="2.3"/><circle cx="217.4" cy="132.7" r="2.3"/><circle cx="215.4" cy="114.2" r="2.3"/><circle cx="228.3" cy="117.0" r="2.3"/><circle cx="230.2" cy="124.6" r="2.3"/><circle cx="232.2" cy="122.7" r="2.3"/><circle cx="238.7" cy="125.0" r="2.3"/><circle cx="214.6" cy="123.0" r="2.3"/><circle cx="227.4" cy="136.2" r="2.3"/><circle cx="230.5" cy="130.8" r="2.3"/><circle cx="208.0" cy="123.4" r="2.3"/><circle cx="223.7" cy="116.3" r="2.3"/><circle cx="213.1" cy="110.3" r="2.3"/><circle cx="219.8" cy="124.5" r="2.3"/><circle cx="215.7" cy="105.6" r="2.3"/><circle cx="232.0" cy="122.1" r="2.3"/><circle cx="218.5" cy="128.1" r="2.3"/><circle cx="209.2" cy="122.2" r="2.3"/><circle cx="211.0" cy="128.1" r="2.3"/><circle cx="221.8" cy="128.8" r="2.3"/><circle cx="225.2" cy="119.4" r="2.3"/><circle cx="210.5" cy="132.7" r="2.3"/><circle cx="223.2" cy="121.6" r="2.3"/><circle cx="219.6" cy="131.4" r="2.3"/><circle cx="227.0" cy="111.4" r="2.3"/><circle cx="210.8" cy="129.0" r="2.3"/><circle cx="207.9" cy="117.6" r="2.3"/><circle cx="209.1" cy="117.0" r="2.3"/><circle cx="236.4" cy="130.0" r="2.3"/><circle cx="214.7" cy="105.3" r="2.3"/><circle cx="210.0" cy="131.7" r="2.3"/><circle cx="219.6" cy="132.4" r="2.3"/><circle cx="217.5" cy="111.4" r="2.3"/><circle cx="221.7" cy="114.5" r="2.3"/><circle cx="216.2" cy="115.3" r="2.3"/><circle cx="216.3" cy="124.7" r="2.3"/><circle cx="211.7" cy="124.7" r="2.3"/><circle cx="232.8" cy="110.2" r="2.3"/><circle cx="216.2" cy="114.6" r="2.3"/><circle cx="221.7" cy="118.5" r="2.3"/><circle cx="215.6" cy="133.1" r="2.3"/><circle cx="230.5" cy="115.9" r="2.3"/><circle cx="223.5" cy="126.2" r="2.3"/><circle cx="224.0" cy="130.1" r="2.3"/><circle cx="215.6" cy="113.9" r="2.3"/><circle cx="227.1" cy="99.5" r="2.3"/><circle cx="214.1" cy="122.6" r="2.3"/><circle cx="219.0" cy="131.7" r="2.3"/><circle cx="230.9" cy="130.0" r="2.3"/><circle cx="214.8" cy="128.3" r="2.3"/><circle cx="224.6" cy="126.0" r="2.3"/><circle cx="219.6" cy="106.6" r="2.3"/><circle cx="212.6" cy="113.9" r="2.3"/><circle cx="217.9" cy="119.1" r="2.3"/><circle cx="227.5" cy="108.9" r="2.3"/><circle cx="233.6" cy="111.5" r="2.3"/><circle cx="213.9" cy="112.6" r="2.3"/><circle cx="218.2" cy="113.7" r="2.3"/><circle cx="231.1" cy="111.7" r="2.3"/><circle cx="236.2" cy="132.8" r="2.3"/><circle cx="234.2" cy="135.0" r="2.3"/><circle cx="236.6" cy="119.3" r="2.3"/><circle cx="217.4" cy="129.6" r="2.3"/><circle cx="218.4" cy="132.3" r="2.3"/><circle cx="226.7" cy="130.7" r="2.3"/><circle cx="232.5" cy="111.7" r="2.3"/><circle cx="225.4" cy="115.3" r="2.3"/><circle cx="217.5" cy="110.0" r="2.3"/><circle cx="216.6" cy="128.6" r="2.3"/><circle cx="228.0" cy="133.8" r="2.3"/><circle cx="210.3" cy="117.1" r="2.3"/><circle cx="221.1" cy="121.8" r="2.3"/><circle cx="220.8" cy="119.7" r="2.3"/><circle cx="230.5" cy="135.3" r="2.3"/><circle cx="233.4" cy="111.4" r="2.3"/><circle cx="225.4" cy="105.3" r="2.3"/><circle cx="218.1" cy="132.4" r="2.3"/><circle cx="232.6" cy="126.7" r="2.3"/><circle cx="233.8" cy="128.7" r="2.3"/><circle cx="216.2" cy="128.3" r="2.3"/><circle cx="232.1" cy="118.2" r="2.3"/><circle cx="227.4" cy="125.5" r="2.3"/><circle cx="221.7" cy="125.9" r="2.3"/><circle cx="220.8" cy="113.0" r="2.3"/><circle cx="232.9" cy="124.8" r="2.3"/><circle cx="230.5" cy="118.5" r="2.3"/><circle cx="215.2" cy="118.2" r="2.3"/><circle cx="217.4" cy="138.3" r="2.3"/><circle cx="221.9" cy="115.1" r="2.3"/><circle cx="230.5" cy="126.6" r="2.3"/><circle cx="215.9" cy="103.4" r="2.3"/><circle cx="212.4" cy="105.4" r="2.3"/><circle cx="209.9" cy="131.4" r="2.3"/><circle cx="216.0" cy="115.3" r="2.3"/><circle cx="230.5" cy="118.4" r="2.3"/><circle cx="214.6" cy="119.9" r="2.3"/><circle cx="216.6" cy="111.9" r="2.3"/><circle cx="223.1" cy="121.5" r="2.3"/><circle cx="239.7" cy="123.4" r="2.3"/><circle cx="235.8" cy="124.3" r="2.3"/><circle cx="229.6" cy="115.1" r="2.3"/><circle cx="219.9" cy="122.8" r="2.3"/><circle cx="229.8" cy="127.5" r="2.3"/><circle cx="218.0" cy="127.7" r="2.3"/><circle cx="221.6" cy="113.4" r="2.3"/><circle cx="226.6" cy="131.3" r="2.3"/><circle cx="228.0" cy="105.7" r="2.3"/><circle cx="226.3" cy="113.0" r="2.3"/><circle cx="228.1" cy="135.6" r="2.3"/><circle cx="226.2" cy="132.6" r="2.3"/><circle cx="214.9" cy="114.6" r="2.3"/><circle cx="221.7" cy="117.7" r="2.3"/><circle cx="207.7" cy="129.1" r="2.3"/><circle cx="231.6" cy="129.9" r="2.3"/><circle cx="208.5" cy="121.9" r="2.3"/><circle cx="216.7" cy="125.3" r="2.3"/><circle cx="220.0" cy="126.2" r="2.3"/><circle cx="224.8" cy="120.1" r="2.3"/><circle cx="214.6" cy="119.4" r="2.3"/><circle cx="229.8" cy="136.6" r="2.3"/><circle cx="223.8" cy="133.5" r="2.3"/><circle cx="207.7" cy="123.8" r="2.3"/><circle cx="216.5" cy="113.8" r="2.3"/><circle cx="225.4" cy="125.4" r="2.3"/><circle cx="218.7" cy="112.4" r="2.3"/><circle cx="223.0" cy="117.6" r="2.3"/><circle cx="214.3" cy="106.8" r="2.3"/><circle cx="231.7" cy="135.0" r="2.3"/><circle cx="234.7" cy="125.9" r="2.3"/><circle cx="215.9" cy="134.5" r="2.3"/><circle cx="217.0" cy="106.4" r="2.3"/><circle cx="216.2" cy="130.0" r="2.3"/><circle cx="211.6" cy="106.3" r="2.3"/><circle cx="216.4" cy="133.7" r="2.3"/><circle cx="231.3" cy="116.0" r="2.3"/><circle cx="209.0" cy="114.5" r="2.3"/><circle cx="210.8" cy="127.4" r="2.3"/><circle cx="231.8" cy="131.7" r="2.3"/><circle cx="233.4" cy="111.3" r="2.3"/><circle cx="212.4" cy="124.3" r="2.3"/><circle cx="208.4" cy="121.4" r="2.3"/><circle cx="232.7" cy="111.8" r="2.3"/><circle cx="217.6" cy="125.0" r="2.3"/><circle cx="207.8" cy="127.3" r="2.3"/><circle cx="234.5" cy="123.2" r="2.3"/><circle cx="232.7" cy="113.2" r="2.3"/><circle cx="234.6" cy="126.1" r="2.3"/><circle cx="222.4" cy="129.2" r="2.3"/><circle cx="222.2" cy="111.8" r="2.3"/><circle cx="234.9" cy="121.0" r="2.3"/><circle cx="218.1" cy="135.7" r="2.3"/><circle cx="233.3" cy="133.2" r="2.3"/><circle cx="232.8" cy="129.5" r="2.3"/><circle cx="227.4" cy="110.8" r="2.3"/><circle cx="228.6" cy="114.8" r="2.3"/><circle cx="221.1" cy="124.5" r="2.3"/><circle cx="218.5" cy="124.8" r="2.3"/><circle cx="232.6" cy="111.9" r="2.3"/><circle cx="217.3" cy="131.3" r="2.3"/><circle cx="229.4" cy="136.5" r="2.3"/><circle cx="223.7" cy="120.2" r="2.3"/><circle cx="227.4" cy="107.2" r="2.3"/><circle cx="218.2" cy="108.7" r="2.3"/><circle cx="230.8" cy="132.6" r="2.3"/><circle cx="215.6" cy="138.2" r="2.3"/><circle cx="217.9" cy="116.4" r="2.3"/><circle cx="227.4" cy="107.9" r="2.3"/><circle cx="217.4" cy="131.7" r="2.3"/><circle cx="227.5" cy="132.1" r="2.3"/><circle cx="232.0" cy="134.2" r="2.3"/><circle cx="225.0" cy="104.1" r="2.3"/><circle cx="218.2" cy="124.6" r="2.3"/><circle cx="207.0" cy="119.1" r="2.3"/><circle cx="212.0" cy="113.6" r="2.3"/><circle cx="220.2" cy="120.1" r="2.3"/><circle cx="217.1" cy="131.1" r="2.3"/><circle cx="219.7" cy="109.7" r="2.3"/><circle cx="223.6" cy="122.5" r="2.3"/><circle cx="230.6" cy="132.7" r="2.3"/><circle cx="213.3" cy="132.3" r="2.3"/><circle cx="233.0" cy="127.5" r="2.3"/><circle cx="216.0" cy="129.2" r="2.3"/><circle cx="230.0" cy="118.6" r="2.3"/><circle cx="215.2" cy="108.7" r="2.3"/><circle cx="221.8" cy="113.3" r="2.3"/><circle cx="216.5" cy="114.9" r="2.3"/><circle cx="210.4" cy="118.7" r="2.3"/><circle cx="212.7" cy="126.8" r="2.3"/><circle cx="218.3" cy="112.1" r="2.3"/><circle cx="219.3" cy="138.0" r="2.3"/><circle cx="232.1" cy="128.7" r="2.3"/><circle cx="224.8" cy="120.4" r="2.3"/><circle cx="214.6" cy="112.9" r="2.3"/><circle cx="229.2" cy="128.6" r="2.3"/><circle cx="221.3" cy="119.4" r="2.3"/><circle cx="218.9" cy="131.7" r="2.3"/><circle cx="217.1" cy="118.9" r="2.3"/><circle cx="217.9" cy="127.5" r="2.3"/><circle cx="226.9" cy="137.8" r="2.3"/><circle cx="217.8" cy="116.2" r="2.3"/><circle cx="233.0" cy="134.9" r="2.3"/><circle cx="227.4" cy="125.8" r="2.3"/><circle cx="213.4" cy="134.3" r="2.3"/><circle cx="216.5" cy="133.7" r="2.3"/><circle cx="235.1" cy="118.0" r="2.3"/><circle cx="216.1" cy="112.5" r="2.3"/><circle cx="219.7" cy="121.9" r="2.3"/><circle cx="233.4" cy="129.0" r="2.3"/><circle cx="210.6" cy="132.6" r="2.3"/><circle cx="218.8" cy="117.1" r="2.3"/><circle cx="222.0" cy="128.3" r="2.3"/><circle cx="224.7" cy="130.9" r="2.3"/><circle cx="209.3" cy="127.2" r="2.3"/><circle cx="213.7" cy="128.7" r="2.3"/><circle cx="218.4" cy="135.9" r="2.3"/><circle cx="223.1" cy="133.2" r="2.3"/><circle cx="217.1" cy="120.9" r="2.3"/><circle cx="207.7" cy="120.1" r="2.3"/><circle cx="223.2" cy="134.8" r="2.3"/><circle cx="221.6" cy="127.9" r="2.3"/><circle cx="228.7" cy="121.0" r="2.3"/><circle cx="214.1" cy="125.3" r="2.3"/><circle cx="231.6" cy="126.8" r="2.3"/><circle cx="223.0" cy="119.6" r="2.3"/><circle cx="231.7" cy="123.6" r="2.3"/><circle cx="214.5" cy="131.1" r="2.3"/><circle cx="215.6" cy="109.7" r="2.3"/><circle cx="235.4" cy="110.1" r="2.3"/><circle cx="207.3" cy="111.4" r="2.3"/><circle cx="229.2" cy="119.0" r="2.3"/><circle cx="236.7" cy="128.4" r="2.3"/><circle cx="222.8" cy="113.4" r="2.3"/><circle cx="222.5" cy="112.5" r="2.3"/><circle cx="222.1" cy="134.6" r="2.3"/><circle cx="225.6" cy="101.2" r="2.3"/><circle cx="230.9" cy="106.7" r="2.3"/><circle cx="221.6" cy="137.4" r="2.3"/><circle cx="220.2" cy="115.9" r="2.3"/><circle cx="229.0" cy="109.0" r="2.3"/><circle cx="215.2" cy="127.2" r="2.3"/><circle cx="224.7" cy="108.6" r="2.3"/><circle cx="211.2" cy="108.9" r="2.3"/><circle cx="231.5" cy="135.1" r="2.3"/><circle cx="220.4" cy="118.6" r="2.3"/><circle cx="242.6" cy="121.0" r="2.3"/><circle cx="230.6" cy="108.4" r="2.3"/><circle cx="219.2" cy="127.8" r="2.3"/><circle cx="213.5" cy="108.6" r="2.3"/><circle cx="223.4" cy="122.6" r="2.3"/><circle cx="222.8" cy="106.3" r="2.3"/><circle cx="213.7" cy="122.6" r="2.3"/><circle cx="213.8" cy="118.5" r="2.3"/><circle cx="214.6" cy="105.5" r="2.3"/><circle cx="231.1" cy="112.4" r="2.3"/><circle cx="228.3" cy="106.6" r="2.3"/><circle cx="229.4" cy="110.8" r="2.3"/><circle cx="214.2" cy="112.0" r="2.3"/><circle cx="231.0" cy="128.3" r="2.3"/><circle cx="237.1" cy="137.8" r="2.3"/><circle cx="220.4" cy="114.7" r="2.3"/><circle cx="233.8" cy="118.6" r="2.3"/><circle cx="211.0" cy="115.0" r="2.3"/><circle cx="216.2" cy="136.5" r="2.3"/><circle cx="211.6" cy="125.4" r="2.3"/><circle cx="226.7" cy="128.2" r="2.3"/><circle cx="217.0" cy="118.8" r="2.3"/><circle cx="211.6" cy="113.2" r="2.3"/><circle cx="215.9" cy="118.6" r="2.3"/><circle cx="208.8" cy="133.5" r="2.3"/><circle cx="221.1" cy="109.3" r="2.3"/><circle cx="223.4" cy="115.9" r="2.3"/><circle cx="230.1" cy="136.7" r="2.3"/><circle cx="218.2" cy="131.9" r="2.3"/><circle cx="215.3" cy="131.2" r="2.3"/><circle cx="242.5" cy="122.2" r="2.3"/><circle cx="225.2" cy="127.8" r="2.3"/><circle cx="222.3" cy="112.5" r="2.3"/><circle cx="221.0" cy="133.2" r="2.3"/><circle cx="210.7" cy="124.3" r="2.3"/><circle cx="217.8" cy="130.3" r="2.3"/><circle cx="223.3" cy="110.5" r="2.3"/><circle cx="220.3" cy="109.8" r="2.3"/><circle cx="209.3" cy="124.2" r="2.3"/><circle cx="222.8" cy="114.2" r="2.3"/><circle cx="210.5" cy="124.2" r="2.3"/><circle cx="225.1" cy="132.0" r="2.3"/><circle cx="210.6" cy="111.4" r="2.3"/><circle cx="224.1" cy="128.7" r="2.3"/><circle cx="230.4" cy="115.0" r="2.3"/><circle cx="225.1" cy="134.0" r="2.3"/><circle cx="207.8" cy="110.9" r="2.3"/><circle cx="218.8" cy="130.3" r="2.3"/><circle cx="221.8" cy="129.8" r="2.3"/><circle cx="217.7" cy="131.2" r="2.3"/><circle cx="214.8" cy="114.7" r="2.3"/><circle cx="219.7" cy="120.6" r="2.3"/><circle cx="229.6" cy="119.0" r="2.3"/><circle cx="219.8" cy="131.3" r="2.3"/><circle cx="224.3" cy="127.8" r="2.3"/><circle cx="210.6" cy="136.0" r="2.3"/><circle cx="219.4" cy="120.0" r="2.3"/><circle cx="219.2" cy="132.7" r="2.3"/><circle cx="209.3" cy="113.7" r="2.3"/><circle cx="213.3" cy="114.6" r="2.3"/><circle cx="229.9" cy="127.1" r="2.3"/><circle cx="212.3" cy="112.1" r="2.3"/><circle cx="219.3" cy="118.0" r="2.3"/><circle cx="211.7" cy="124.1" r="2.3"/><circle cx="236.2" cy="133.9" r="2.3"/><circle cx="209.8" cy="119.3" r="2.3"/><circle cx="225.1" cy="128.7" r="2.3"/><circle cx="209.7" cy="117.3" r="2.3"/><circle cx="208.3" cy="123.4" r="2.3"/><circle cx="219.4" cy="120.8" r="2.3"/><circle cx="215.9" cy="135.3" r="2.3"/><circle cx="225.5" cy="118.3" r="2.3"/><circle cx="235.8" cy="114.1" r="2.3"/><circle cx="221.7" cy="136.9" r="2.3"/><circle cx="233.9" cy="117.5" r="2.3"/><circle cx="232.0" cy="118.2" r="2.3"/><circle cx="206.5" cy="113.1" r="2.3"/><circle cx="225.9" cy="127.4" r="2.3"/><circle cx="212.0" cy="104.7" r="2.3"/><circle cx="220.1" cy="112.8" r="2.3"/><circle cx="217.7" cy="112.5" r="2.3"/><circle cx="212.4" cy="123.1" r="2.3"/><circle cx="232.2" cy="118.5" r="2.3"/><circle cx="225.5" cy="128.0" r="2.3"/><circle cx="222.4" cy="119.0" r="2.3"/><circle cx="210.4" cy="119.6" r="2.3"/><circle cx="212.2" cy="128.2" r="2.3"/><circle cx="231.2" cy="128.3" r="2.3"/><circle cx="228.8" cy="119.7" r="2.3"/><circle cx="212.9" cy="126.4" r="2.3"/><circle cx="219.4" cy="107.3" r="2.3"/><circle cx="211.2" cy="119.1" r="2.3"/><circle cx="233.1" cy="117.5" r="2.3"/><circle cx="218.9" cy="125.6" r="2.3"/><circle cx="215.8" cy="126.6" r="2.3"/><circle cx="233.4" cy="129.3" r="2.3"/><circle cx="216.3" cy="133.1" r="2.3"/><circle cx="219.9" cy="118.4" r="2.3"/><circle cx="223.8" cy="127.7" r="2.3"/><circle cx="226.2" cy="127.1" r="2.3"/><circle cx="224.3" cy="122.2" r="2.3"/><circle cx="211.2" cy="116.1" r="2.3"/><circle cx="220.6" cy="107.2" r="2.3"/><circle cx="219.6" cy="127.3" r="2.3"/><circle cx="233.1" cy="121.8" r="2.3"/><circle cx="236.3" cy="122.8" r="2.3"/><circle cx="219.8" cy="118.1" r="2.3"/><circle cx="215.2" cy="125.7" r="2.3"/><circle cx="217.1" cy="124.4" r="2.3"/><circle cx="227.5" cy="128.3" r="2.3"/><circle cx="224.0" cy="127.7" r="2.3"/><circle cx="219.8" cy="122.1" r="2.3"/><circle cx="213.0" cy="114.7" r="2.3"/><circle cx="223.1" cy="114.7" r="2.3"/><circle cx="229.0" cy="120.4" r="2.3"/><circle cx="220.3" cy="131.3" r="2.3"/><circle cx="219.7" cy="126.7" r="2.3"/><circle cx="223.4" cy="127.4" r="2.3"/><circle cx="230.6" cy="128.8" r="2.3"/><circle cx="219.5" cy="116.6" r="2.3"/><circle cx="221.5" cy="132.4" r="2.3"/><circle cx="224.7" cy="125.7" r="2.3"/><circle cx="213.2" cy="127.5" r="2.3"/><circle cx="225.2" cy="122.2" r="2.3"/><circle cx="219.2" cy="107.5" r="2.3"/><circle cx="224.7" cy="128.7" r="2.3"/><circle cx="223.3" cy="124.9" r="2.3"/><circle cx="210.5" cy="106.7" r="2.3"/><circle cx="220.0" cy="125.4" r="2.3"/><circle cx="217.0" cy="115.7" r="2.3"/><circle cx="221.6" cy="111.4" r="2.3"/><circle cx="227.6" cy="112.9" r="2.3"/><circle cx="220.5" cy="120.8" r="2.3"/><circle cx="218.0" cy="124.2" r="2.3"/><circle cx="207.9" cy="125.3" r="2.3"/><circle cx="214.0" cy="126.9" r="2.3"/><circle cx="230.9" cy="123.5" r="2.3"/><circle cx="231.0" cy="119.3" r="2.3"/><circle cx="228.6" cy="117.8" r="2.3"/><circle cx="216.7" cy="117.0" r="2.3"/><circle cx="218.9" cy="127.0" r="2.3"/><circle cx="230.8" cy="109.8" r="2.3"/><circle cx="213.8" cy="109.7" r="2.3"/><circle cx="227.9" cy="131.0" r="2.3"/><circle cx="223.6" cy="121.4" r="2.3"/><circle cx="224.4" cy="126.8" r="2.3"/><circle cx="211.4" cy="121.5" r="2.3"/><circle cx="228.2" cy="119.3" r="2.3"/><circle cx="226.6" cy="116.7" r="2.3"/><circle cx="213.7" cy="122.5" r="2.3"/><circle cx="224.1" cy="117.0" r="2.3"/><circle cx="222.6" cy="120.2" r="2.3"/><circle cx="222.5" cy="108.7" r="2.3"/><circle cx="240.8" cy="125.6" r="2.3"/><circle cx="207.1" cy="120.0" r="2.3"/><circle cx="210.2" cy="126.4" r="2.3"/><circle cx="223.2" cy="111.6" r="2.3"/><circle cx="225.0" cy="119.5" r="2.3"/><circle cx="229.4" cy="123.7" r="2.3"/><circle cx="214.7" cy="123.1" r="2.3"/><circle cx="224.1" cy="126.1" r="2.3"/><circle cx="216.2" cy="125.3" r="2.3"/><circle cx="209.7" cy="128.8" r="2.3"/><circle cx="220.7" cy="126.1" r="2.3"/><circle cx="221.7" cy="113.6" r="2.3"/><circle cx="223.8" cy="124.3" r="2.3"/><circle cx="212.3" cy="129.7" r="2.3"/><circle cx="224.4" cy="130.5" r="2.3"/><circle cx="224.8" cy="132.0" r="2.3"/><circle cx="222.5" cy="124.4" r="2.3"/><circle cx="229.2" cy="127.9" r="2.3"/><circle cx="218.5" cy="121.3" r="2.3"/><circle cx="221.9" cy="111.6" r="2.3"/><circle cx="219.4" cy="127.1" r="2.3"/><circle cx="218.9" cy="119.8" r="2.3"/><circle cx="223.3" cy="119.0" r="2.3"/><circle cx="210.6" cy="103.8" r="2.3"/><circle cx="235.8" cy="126.6" r="2.3"/><circle cx="212.0" cy="120.8" r="2.3"/><circle cx="221.5" cy="134.3" r="2.3"/><circle cx="225.0" cy="114.4" r="2.3"/><circle cx="229.5" cy="136.0" r="2.3"/><circle cx="232.2" cy="119.2" r="2.3"/><circle cx="218.6" cy="119.5" r="2.3"/><circle cx="233.3" cy="128.3" r="2.3"/><circle cx="221.3" cy="127.7" r="2.3"/><circle cx="232.5" cy="132.7" r="2.3"/><circle cx="228.7" cy="136.7" r="2.3"/><circle cx="214.1" cy="126.6" r="2.3"/><circle cx="227.9" cy="136.5" r="2.3"/><circle cx="226.1" cy="129.1" r="2.3"/><circle cx="231.1" cy="127.7" r="2.3"/><circle cx="225.2" cy="125.6" r="2.3"/><circle cx="235.4" cy="128.9" r="2.3"/><circle cx="221.2" cy="109.3" r="2.3"/><circle cx="222.0" cy="118.8" r="2.3"/><circle cx="215.7" cy="121.1" r="2.3"/><circle cx="216.4" cy="133.5" r="2.3"/><circle cx="210.4" cy="113.4" r="2.3"/><circle cx="224.8" cy="135.2" r="2.3"/><circle cx="235.6" cy="131.3" r="2.3"/><circle cx="218.5" cy="121.3" r="2.3"/><circle cx="212.6" cy="133.6" r="2.3"/><circle cx="215.6" cy="114.1" r="2.3"/><circle cx="228.9" cy="136.4" r="2.3"/><circle cx="230.8" cy="125.2" r="2.3"/><circle cx="225.3" cy="124.0" r="2.3"/><circle cx="224.7" cy="131.5" r="2.3"/><circle cx="214.3" cy="127.4" r="2.3"/><circle cx="218.5" cy="118.6" r="2.3"/><circle cx="211.9" cy="110.4" r="2.3"/><circle cx="216.5" cy="127.0" r="2.3"/><circle cx="226.9" cy="121.6" r="2.3"/><circle cx="218.8" cy="130.9" r="2.3"/><circle cx="213.6" cy="133.7" r="2.3"/><circle cx="230.4" cy="117.5" r="2.3"/><circle cx="236.0" cy="122.8" r="2.3"/></g>
<g class="q" fill-opacity="0.20" stroke-opacity="0.24"><circle cx="202.5" cy="128.5" r="2.3"/><circle cx="202.5" cy="122.9" r="2.3"/><circle cx="202.5" cy="79.2" r="2.3"/><circle cx="202.5" cy="117.1" r="2.3"/><circle cx="202.5" cy="125.9" r="2.3"/><circle cx="202.5" cy="83.6" r="2.3"/><circle cx="202.5" cy="101.4" r="2.3"/><circle cx="202.5" cy="83.3" r="2.3"/><circle cx="202.5" cy="115.1" r="2.3"/><circle cx="202.5" cy="108.4" r="2.3"/><circle cx="202.5" cy="79.4" r="2.3"/><circle cx="202.5" cy="107.9" r="2.3"/><circle cx="202.5" cy="77.3" r="2.3"/><circle cx="202.5" cy="128.1" r="2.3"/><circle cx="202.5" cy="87.3" r="2.3"/><circle cx="202.5" cy="129.9" r="2.3"/><circle cx="202.5" cy="106.6" r="2.3"/><circle cx="202.5" cy="140.2" r="2.3"/><circle cx="202.5" cy="129.0" r="2.3"/><circle cx="202.5" cy="80.1" r="2.3"/><circle cx="202.5" cy="111.3" r="2.3"/><circle cx="202.5" cy="88.7" r="2.3"/><circle cx="202.5" cy="124.2" r="2.3"/><circle cx="202.5" cy="117.8" r="2.3"/><circle cx="202.5" cy="133.8" r="2.3"/><circle cx="202.5" cy="105.0" r="2.3"/><circle cx="202.5" cy="85.3" r="2.3"/><circle cx="202.5" cy="107.5" r="2.3"/><circle cx="202.5" cy="116.2" r="2.3"/><circle cx="202.5" cy="81.1" r="2.3"/><circle cx="202.5" cy="83.3" r="2.3"/><circle cx="202.5" cy="97.8" r="2.3"/><circle cx="202.5" cy="135.4" r="2.3"/><circle cx="202.5" cy="100.5" r="2.3"/><circle cx="202.5" cy="111.9" r="2.3"/><circle cx="202.5" cy="79.2" r="2.3"/><circle cx="202.5" cy="117.2" r="2.3"/><circle cx="202.5" cy="98.1" r="2.3"/><circle cx="202.5" cy="100.0" r="2.3"/><circle cx="202.5" cy="116.3" r="2.3"/><circle cx="202.5" cy="107.0" r="2.3"/><circle cx="202.5" cy="97.1" r="2.3"/><circle cx="202.5" cy="82.5" r="2.3"/><circle cx="202.5" cy="108.5" r="2.3"/><circle cx="202.5" cy="117.0" r="2.3"/><circle cx="202.5" cy="78.1" r="2.3"/><circle cx="202.5" cy="136.6" r="2.3"/><circle cx="202.5" cy="87.1" r="2.3"/><circle cx="202.5" cy="96.7" r="2.3"/><circle cx="202.5" cy="104.7" r="2.3"/><circle cx="202.5" cy="111.7" r="2.3"/><circle cx="202.5" cy="92.4" r="2.3"/><circle cx="202.5" cy="83.5" r="2.3"/><circle cx="202.5" cy="93.8" r="2.3"/><circle cx="202.5" cy="92.5" r="2.3"/><circle cx="202.5" cy="138.0" r="2.3"/><circle cx="202.5" cy="119.5" r="2.3"/><circle cx="202.5" cy="131.5" r="2.3"/><circle cx="202.5" cy="79.5" r="2.3"/><circle cx="202.5" cy="83.5" r="2.3"/></g>
<g class="q" fill-opacity="0.25" stroke-opacity="0.29"><circle cx="202.5" cy="73.4" r="2.3"/><circle cx="202.5" cy="63.8" r="2.3"/><circle cx="202.5" cy="64.1" r="2.3"/><circle cx="202.5" cy="75.5" r="2.3"/><circle cx="202.5" cy="68.1" r="2.3"/><circle cx="202.5" cy="60.4" r="2.3"/><circle cx="202.5" cy="62.7" r="2.3"/><circle cx="202.5" cy="70.5" r="2.3"/></g>
<g class="q" fill-opacity="0.30" stroke-opacity="0.35"><circle cx="225.2" cy="140.2" r="2.3"/><circle cx="211.2" cy="140.2" r="2.3"/><circle cx="218.7" cy="140.2" r="2.3"/><circle cx="215.0" cy="140.2" r="2.3"/><circle cx="231.6" cy="140.2" r="2.3"/><circle cx="221.8" cy="140.2" r="2.3"/><circle cx="226.4" cy="140.2" r="2.3"/><circle cx="222.6" cy="140.2" r="2.3"/><circle cx="213.8" cy="140.2" r="2.3"/><circle cx="231.1" cy="140.2" r="2.3"/><circle cx="223.6" cy="140.2" r="2.3"/><circle cx="223.1" cy="140.2" r="2.3"/><circle cx="210.7" cy="140.2" r="2.3"/><circle cx="207.3" cy="140.2" r="2.3"/><circle cx="219.6" cy="140.2" r="2.3"/><circle cx="227.1" cy="140.2" r="2.3"/><circle cx="226.1" cy="140.2" r="2.3"/><circle cx="212.8" cy="140.2" r="2.3"/><circle cx="206.7" cy="140.2" r="2.3"/><circle cx="217.8" cy="140.2" r="2.3"/><circle cx="228.6" cy="140.2" r="2.3"/><circle cx="207.3" cy="140.2" r="2.3"/><circle cx="224.5" cy="140.2" r="2.3"/><circle cx="207.6" cy="140.2" r="2.3"/><circle cx="211.8" cy="140.2" r="2.3"/><circle cx="204.1" cy="140.2" r="2.3"/><circle cx="211.4" cy="140.2" r="2.3"/><circle cx="213.9" cy="140.2" r="2.3"/><circle cx="231.3" cy="140.2" r="2.3"/><circle cx="231.1" cy="140.2" r="2.3"/><circle cx="208.1" cy="140.2" r="2.3"/><circle cx="211.7" cy="140.2" r="2.3"/><circle cx="230.6" cy="140.2" r="2.3"/><circle cx="208.4" cy="140.2" r="2.3"/><circle cx="212.0" cy="140.2" r="2.3"/><circle cx="215.5" cy="140.2" r="2.3"/><circle cx="205.7" cy="140.2" r="2.3"/><circle cx="210.2" cy="140.2" r="2.3"/><circle cx="214.2" cy="140.2" r="2.3"/><circle cx="214.0" cy="140.2" r="2.3"/><circle cx="231.2" cy="140.2" r="2.3"/><circle cx="210.4" cy="140.2" r="2.3"/><circle cx="208.6" cy="140.2" r="2.3"/><circle cx="229.5" cy="140.2" r="2.3"/><circle cx="215.9" cy="140.2" r="2.3"/><circle cx="227.4" cy="140.2" r="2.3"/><circle cx="221.5" cy="140.2" r="2.3"/><circle cx="225.7" cy="140.2" r="2.3"/><circle cx="211.9" cy="140.2" r="2.3"/><circle cx="207.0" cy="140.2" r="2.3"/><circle cx="225.0" cy="140.2" r="2.3"/><circle cx="216.5" cy="140.2" r="2.3"/><circle cx="219.1" cy="140.2" r="2.3"/><circle cx="222.4" cy="140.2" r="2.3"/><circle cx="224.9" cy="140.2" r="2.3"/><circle cx="210.7" cy="140.2" r="2.3"/><circle cx="213.3" cy="140.2" r="2.3"/><circle cx="229.8" cy="140.2" r="2.3"/><circle cx="218.3" cy="140.2" r="2.3"/><circle cx="211.1" cy="140.2" r="2.3"/></g>
<g class="p" fill-opacity="0.30" stroke-opacity="0.35"><circle cx="260.4" cy="140.2" r="2.3"/><circle cx="243.8" cy="140.2" r="2.3"/><circle cx="266.7" cy="140.2" r="2.3"/><circle cx="234.1" cy="140.2" r="2.3"/><circle cx="269.1" cy="140.2" r="2.3"/><circle cx="257.5" cy="140.2" r="2.3"/><circle cx="248.0" cy="140.2" r="2.3"/><circle cx="274.2" cy="140.2" r="2.3"/><circle cx="244.1" cy="140.2" r="2.3"/><circle cx="243.1" cy="140.2" r="2.3"/><circle cx="235.4" cy="140.2" r="2.3"/><circle cx="256.7" cy="140.2" r="2.3"/><circle cx="265.9" cy="140.2" r="2.3"/><circle cx="262.5" cy="140.2" r="2.3"/></g>
<g class="p" fill-opacity="0.25" stroke-opacity="0.29"><circle cx="310.1" cy="140.2" r="2.3"/></g>
<g class="p" fill-opacity="0.30" stroke-opacity="0.35"><circle cx="226.8" cy="58.7" r="2.3"/><circle cx="229.5" cy="63.4" r="2.3"/><circle cx="209.7" cy="69.3" r="2.3"/><circle cx="232.2" cy="81.9" r="2.3"/><circle cx="241.7" cy="85.7" r="2.3"/><circle cx="247.1" cy="97.3" r="2.3"/><circle cx="241.7" cy="103.3" r="2.3"/><circle cx="255.9" cy="114.7" r="2.3"/><circle cx="269.4" cy="112.8" r="2.3"/><circle cx="296.6" cy="115.1" r="2.3"/><circle cx="216.0" cy="76.5" r="2.3"/><circle cx="207.9" cy="82.9" r="2.3"/></g>
<g class="q" fill-opacity="0.50" stroke-opacity="0.59"><circle cx="241.7" cy="103.3" r="2.3"/><circle cx="247.1" cy="97.3" r="2.3"/><circle cx="255.9" cy="114.7" r="2.3"/><circle cx="259.3" cy="137.7" r="2.3"/><circle cx="267.4" cy="140.2" r="2.3"/><circle cx="262.0" cy="127.5" r="2.3"/><circle cx="214.7" cy="98.2" r="2.3"/><circle cx="243.1" cy="114.7" r="2.3"/><circle cx="202.5" cy="82.9" r="2.3"/><circle cx="202.5" cy="89.3" r="2.3"/></g>
<rect x="285.80" y="16.50" width="48.0" height="53.2" fill="#fff" stroke="#dadada" stroke-width="0.8"/>
<path d="M322.72 16.50V69.70M285.80 23.00H333.80M285.80 33.05H333.80M285.80 43.10H333.80M285.80 53.15H333.80M285.80 63.20H333.80" stroke="#e2e2e2" stroke-width="0.8" fill="none"/>
<rect x="285.80" y="19.40" width="23.48" height="7.2" fill="#8a8a8a"/>
<text x="282.50" y="25.85" text-anchor="end" font-size="7.6" class="b">1</text>
<rect x="285.80" y="29.45" width="24.74" height="7.2" fill="#8a8a8a"/>
<text x="282.50" y="35.90" text-anchor="end" font-size="7.6" class="b">2</text>
<rect x="285.80" y="39.50" width="19.57" height="7.2" fill="#8a8a8a"/>
<text x="282.50" y="45.95" text-anchor="end" font-size="7.6" class="b">3</text>
<rect x="285.80" y="49.55" width="1.33" height="7.2" fill="#8a8a8a"/>
<text x="282.50" y="56.00" text-anchor="end" font-size="7.6" class="b">4</text>
<rect x="285.80" y="59.60" width="1.11" height="7.2" fill="#8a8a8a"/>
<text x="282.50" y="66.05" text-anchor="end" font-size="7.6" class="b">5</text>
<text x="285.80" y="78.40" text-anchor="middle" font-size="7.4" class="b">0.0</text>
<text x="322.72" y="78.40" text-anchor="middle" font-size="7.4" class="b">0.5</text>
<text x="197.60" y="144.10" text-anchor="end" font-size="10">0.0</text>
<text x="197.60" y="118.64" text-anchor="end" font-size="10">0.2</text>
<text x="197.60" y="93.18" text-anchor="end" font-size="10">0.4</text>
<text x="197.60" y="67.72" text-anchor="end" font-size="10">0.6</text>
<text x="197.60" y="42.26" text-anchor="end" font-size="10">0.8</text>
<text x="197.60" y="16.80" text-anchor="end" font-size="10">1.0</text>
<text x="202.50" y="153.00" text-anchor="middle" font-size="10">0.0</text>
<text x="270.10" y="153.00" text-anchor="middle" font-size="10">0.5</text>
<text x="337.70" y="153.00" text-anchor="middle" font-size="10">1.0</text>
<text x="269.10" y="165.20" text-anchor="middle" font-size="11">f+</text>
<text x="176.80" y="75.50" font-size="10.4">f-</text>
<text x="269.15" y="8.90" text-anchor="middle" font-size="12" stroke-width="0.4">DisProt</text>
<rect x="376.60" y="12.50" width="137.1" height="129.7" fill="none" stroke="#e0e0e0" stroke-width="1"/>
<path d="M378.50 12.90L513.70 140.20M378.50 95.64L425.82 57.45M425.82 140.20L466.38 95.64M378.50 95.64L425.82 140.20M378.50 108.37L412.30 140.20" fill="none" stroke="#6c6c6c" stroke-width="1.0" stroke-dasharray="2.6 1.8"/>
<g class="p" fill-opacity="0.22" stroke-opacity="0.26"><circle cx="388.4" cy="115.0" r="2.3"/><circle cx="403.4" cy="108.7" r="2.3"/><circle cx="415.7" cy="99.2" r="2.3"/><circle cx="389.9" cy="112.6" r="2.3"/><circle cx="385.5" cy="107.1" r="2.3"/><circle cx="407.4" cy="95.3" r="2.3"/><circle cx="391.0" cy="88.1" r="2.3"/><circle cx="389.7" cy="85.7" r="2.3"/><circle cx="399.1" cy="132.7" r="2.3"/><circle cx="398.9" cy="121.9" r="2.3"/><circle cx="395.7" cy="130.7" r="2.3"/><circle cx="426.6" cy="132.3" r="2.3"/><circle cx="381.4" cy="91.2" r="2.3"/><circle cx="390.2" cy="117.3" r="2.3"/><circle cx="385.0" cy="104.7" r="2.3"/><circle cx="383.8" cy="76.6" r="2.3"/><circle cx="388.4" cy="121.1" r="2.3"/><circle cx="422.0" cy="112.5" r="2.3"/><circle cx="402.7" cy="95.7" r="2.3"/><circle cx="395.3" cy="79.1" r="2.3"/><circle cx="383.2" cy="80.2" r="2.3"/><circle cx="383.0" cy="100.4" r="2.3"/><circle cx="408.7" cy="133.0" r="2.3"/><circle cx="419.2" cy="108.1" r="2.3"/><circle cx="445.2" cy="132.4" r="2.3"/><circle cx="412.2" cy="127.8" r="2.3"/><circle cx="403.4" cy="123.6" r="2.3"/><circle cx="407.4" cy="116.8" r="2.3"/><circle cx="393.8" cy="83.3" r="2.3"/><circle cx="414.7" cy="105.3" r="2.3"/><circle cx="394.0" cy="85.7" r="2.3"/><circle cx="394.0" cy="118.0" r="2.3"/><circle cx="385.3" cy="122.5" r="2.3"/><circle cx="382.0" cy="73.9" r="2.3"/><circle cx="398.3" cy="111.4" r="2.3"/><circle cx="391.8" cy="91.0" r="2.3"/><circle cx="384.1" cy="124.7" r="2.3"/><circle cx="387.8" cy="129.8" r="2.3"/><circle cx="391.2" cy="80.3" r="2.3"/><circle cx="389.5" cy="129.6" r="2.3"/><circle cx="417.8" cy="100.2" r="2.3"/><circle cx="394.8" cy="119.1" r="2.3"/><circle cx="382.6" cy="70.6" r="2.3"/><circle cx="428.7" cy="109.3" r="2.3"/><circle cx="389.9" cy="136.7" r="2.3"/><circle cx="395.1" cy="94.4" r="2.3"/><circle cx="405.8" cy="137.0" r="2.3"/><circle cx="411.3" cy="134.5" r="2.3"/><circle cx="385.8" cy="113.8" r="2.3"/><circle cx="394.5" cy="119.7" r="2.3"/><circle cx="388.0" cy="94.0" r="2.3"/><circle cx="389.4" cy="122.9" r="2.3"/><circle cx="410.8" cy="94.4" r="2.3"/><circle cx="409.7" cy="132.7" r="2.3"/><circle cx="428.2" cy="133.7" r="2.3"/><circle cx="411.7" cy="108.1" r="2.3"/><circle cx="396.8" cy="89.7" r="2.3"/><circle cx="420.1" cy="133.0" r="2.3"/><circle cx="396.0" cy="108.7" r="2.3"/><circle cx="383.7" cy="130.7" r="2.3"/><circle cx="383.7" cy="134.1" r="2.3"/><circle cx="395.5" cy="88.0" r="2.3"/><circle cx="391.2" cy="136.3" r="2.3"/><circle cx="430.3" cy="130.0" r="2.3"/><circle cx="393.3" cy="78.1" r="2.3"/><circle cx="391.8" cy="99.8" r="2.3"/><circle cx="388.1" cy="79.6" r="2.3"/><circle cx="381.4" cy="74.8" r="2.3"/><circle cx="386.2" cy="133.6" r="2.3"/><circle cx="416.6" cy="116.2" r="2.3"/></g>
<g class="p" fill-opacity="0.25" stroke-opacity="0.29"><circle cx="397.0" cy="136.1" r="2.3"/><circle cx="409.7" cy="135.6" r="2.3"/><circle cx="399.3" cy="132.2" r="2.3"/><circle cx="406.3" cy="129.3" r="2.3"/><circle cx="398.2" cy="132.6" r="2.3"/><circle cx="395.4" cy="133.1" r="2.3"/><circle cx="413.5" cy="132.9" r="2.3"/><circle cx="396.0" cy="126.0" r="2.3"/><circle cx="410.4" cy="131.3" r="2.3"/><circle cx="410.6" cy="136.1" r="2.3"/><circle cx="385.3" cy="132.5" r="2.3"/><circle cx="401.5" cy="120.7" r="2.3"/><circle cx="397.4" cy="115.4" r="2.3"/><circle cx="408.7" cy="135.3" r="2.3"/><circle cx="389.1" cy="104.0" r="2.3"/><circle cx="398.7" cy="112.1" r="2.3"/><circle cx="391.8" cy="126.1" r="2.3"/><circle cx="395.3" cy="125.2" r="2.3"/><circle cx="386.0" cy="121.2" r="2.3"/><circle cx="410.0" cy="127.0" r="2.3"/><circle cx="391.7" cy="122.2" r="2.3"/><circle cx="383.3" cy="128.5" r="2.3"/><circle cx="394.6" cy="109.9" r="2.3"/><circle cx="386.4" cy="108.0" r="2.3"/><circle cx="394.0" cy="114.8" r="2.3"/><circle cx="396.0" cy="117.9" r="2.3"/><circle cx="417.8" cy="130.8" r="2.3"/><circle cx="401.9" cy="114.0" r="2.3"/><circle cx="385.8" cy="129.1" r="2.3"/><circle cx="393.0" cy="105.2" r="2.3"/><circle cx="383.1" cy="127.4" r="2.3"/><circle cx="389.0" cy="121.3" r="2.3"/><circle cx="391.6" cy="127.5" r="2.3"/><circle cx="383.6" cy="112.6" r="2.3"/><circle cx="390.2" cy="127.5" r="2.3"/><circle cx="404.1" cy="113.8" r="2.3"/><circle cx="393.7" cy="134.2" r="2.3"/><circle cx="385.0" cy="135.9" r="2.3"/><circle cx="395.8" cy="131.5" r="2.3"/><circle cx="386.7" cy="119.4" r="2.3"/></g>
<g class="q" fill-opacity="0.28" stroke-opacity="0.33"><circle cx="393.3" cy="104.1" r="2.3"/><circle cx="389.5" cy="132.2" r="2.3"/><circle cx="394.4" cy="119.2" r="2.3"/><circle cx="409.6" cy="117.7" r="2.3"/><circle cx="411.1" cy="132.4" r="2.3"/><circle cx="419.1" cy="122.0" r="2.3"/><circle cx="415.2" cy="135.1" r="2.3"/><circle cx="415.0" cy="126.9" r="2.3"/><circle cx="408.9" cy="124.7" r="2.3"/><circle cx="382.9" cy="128.4" r="2.3"/><circle cx="418.0" cy="129.7" r="2.3"/><circle cx="408.4" cy="111.7" r="2.3"/><circle cx="408.5" cy="128.8" r="2.3"/><circle cx="388.2" cy="132.3" r="2.3"/><circle cx="408.1" cy="112.4" r="2.3"/><circle cx="391.3" cy="133.7" r="2.3"/><circle cx="383.1" cy="100.6" r="2.3"/><circle cx="387.7" cy="95.9" r="2.3"/><circle cx="396.8" cy="106.0" r="2.3"/><circle cx="388.0" cy="103.3" r="2.3"/><circle cx="392.4" cy="121.0" r="2.3"/><circle cx="403.1" cy="131.7" r="2.3"/><circle cx="392.3" cy="102.9" r="2.3"/><circle cx="393.7" cy="120.4" r="2.3"/><circle cx="412.5" cy="127.0" r="2.3"/><circle cx="390.2" cy="127.2" r="2.3"/><circle cx="397.6" cy="121.0" r="2.3"/><circle cx="407.7" cy="116.6" r="2.3"/><circle cx="416.7" cy="134.3" r="2.3"/><circle cx="391.8" cy="135.1" r="2.3"/><circle cx="399.7" cy="131.5" r="2.3"/><circle cx="400.6" cy="106.5" r="2.3"/><circle cx="386.2" cy="131.4" r="2.3"/><circle cx="401.4" cy="129.1" r="2.3"/><circle cx="391.6" cy="117.9" r="2.3"/><circle cx="387.2" cy="133.5" r="2.3"/><circle cx="396.7" cy="116.7" r="2.3"/><circle cx="385.4" cy="127.0" r="2.3"/><circle cx="416.2" cy="131.8" r="2.3"/><circle cx="392.0" cy="129.2" r="2.3"/><circle cx="416.5" cy="127.5" r="2.3"/><circle cx="385.8" cy="125.2" r="2.3"/><circle cx="411.2" cy="133.2" r="2.3"/><circle cx="400.3" cy="123.0" r="2.3"/><circle cx="390.6" cy="108.5" r="2.3"/><circle cx="396.7" cy="131.4" r="2.3"/><circle cx="389.6" cy="135.9" r="2.3"/><circle cx="408.2" cy="114.8" r="2.3"/><circle cx="383.5" cy="116.6" r="2.3"/><circle cx="411.6" cy="113.8" r="2.3"/><circle cx="391.7" cy="115.4" r="2.3"/><circle cx="406.3" cy="109.0" r="2.3"/><circle cx="388.2" cy="102.6" r="2.3"/><circle cx="416.2" cy="120.9" r="2.3"/><circle cx="418.0" cy="128.7" r="2.3"/><circle cx="391.5" cy="111.3" r="2.3"/><circle cx="417.9" cy="132.9" r="2.3"/><circle cx="391.1" cy="134.9" r="2.3"/><circle cx="399.8" cy="130.5" r="2.3"/><circle cx="390.1" cy="104.9" r="2.3"/><circle cx="398.3" cy="107.9" r="2.3"/><circle cx="383.1" cy="96.5" r="2.3"/><circle cx="391.7" cy="116.3" r="2.3"/><circle cx="406.9" cy="127.3" r="2.3"/><circle cx="415.2" cy="127.9" r="2.3"/><circle cx="391.4" cy="96.0" r="2.3"/><circle cx="395.2" cy="119.3" r="2.3"/><circle cx="396.0" cy="108.3" r="2.3"/><circle cx="383.5" cy="120.7" r="2.3"/><circle cx="388.9" cy="101.6" r="2.3"/></g>
<g class="q" fill-opacity="0.40" stroke-opacity="0.47"><circle cx="392.0" cy="100.4" r="2.3"/><circle cx="402.5" cy="107.2" r="2.3"/><circle cx="397.6" cy="116.8" r="2.3"/><circle cx="396.9" cy="84.7" r="2.3"/><circle cx="398.1" cy="121.4" r="2.3"/><circle cx="413.2" cy="101.6" r="2.3"/><circle cx="428.0" cy="124.9" r="2.3"/><circle cx="401.5" cy="120.0" r="2.3"/><circle cx="415.8" cy="107.3" r="2.3"/><circle cx="430.8" cy="115.5" r="2.3"/><circle cx="394.1" cy="86.7" r="2.3"/><circle cx="396.2" cy="126.7" r="2.3"/><circle cx="403.8" cy="114.6" r="2.3"/><circle cx="409.1" cy="103.9" r="2.3"/><circle cx="418.5" cy="104.6" r="2.3"/><circle cx="396.8" cy="116.6" r="2.3"/><circle cx="431.1" cy="118.9" r="2.3"/><circle cx="395.1" cy="87.5" r="2.3"/><circle cx="415.2" cy="119.4" r="2.3"/><circle cx="420.1" cy="116.1" r="2.3"/><circle cx="401.6" cy="111.2" r="2.3"/><circle cx="413.3" cy="97.3" r="2.3"/><circle cx="395.0" cy="94.4" r="2.3"/><circle cx="417.3" cy="106.5" r="2.3"/><circle cx="392.4" cy="106.3" r="2.3"/></g>
<g class="p" fill-opacity="0.30" stroke-opacity="0.35"><circle cx="395.1" cy="60.4" r="2.3"/><circle cx="385.9" cy="66.4" r="2.3"/><circle cx="390.5" cy="70.8" r="2.3"/><circle cx="393.4" cy="69.7" r="2.3"/><circle cx="417.2" cy="67.4" r="2.3"/><circle cx="406.2" cy="76.5" r="2.3"/><circle cx="388.8" cy="81.3" r="2.3"/><circle cx="409.1" cy="84.2" r="2.3"/><circle cx="412.6" cy="87.0" r="2.3"/><circle cx="408.5" cy="96.9" r="2.3"/><circle cx="475.4" cy="122.0" r="2.3"/><circle cx="453.4" cy="125.3" r="2.3"/><circle cx="443.3" cy="120.2" r="2.3"/><circle cx="425.8" cy="112.2" r="2.3"/><circle cx="432.6" cy="114.7" r="2.3"/><circle cx="419.1" cy="108.4" r="2.3"/></g>
<g class="q" fill-opacity="0.30" stroke-opacity="0.35"><circle cx="378.5" cy="86.4" r="2.3"/><circle cx="378.5" cy="84.2" r="2.3"/><circle cx="378.5" cy="88.5" r="2.3"/><circle cx="378.5" cy="121.2" r="2.3"/><circle cx="378.5" cy="66.7" r="2.3"/><circle cx="378.5" cy="78.8" r="2.3"/><circle cx="378.5" cy="117.5" r="2.3"/><circle cx="378.5" cy="103.7" r="2.3"/><circle cx="378.5" cy="66.8" r="2.3"/><circle cx="378.5" cy="119.3" r="2.3"/><circle cx="378.5" cy="105.2" r="2.3"/><circle cx="378.5" cy="66.5" r="2.3"/><circle cx="378.5" cy="70.8" r="2.3"/><circle cx="378.5" cy="117.6" r="2.3"/><circle cx="378.5" cy="82.4" r="2.3"/><circle cx="378.5" cy="108.7" r="2.3"/><circle cx="378.5" cy="87.4" r="2.3"/><circle cx="378.5" cy="80.1" r="2.3"/><circle cx="378.5" cy="124.9" r="2.3"/><circle cx="378.5" cy="118.3" r="2.3"/><circle cx="378.5" cy="118.8" r="2.3"/><circle cx="378.5" cy="115.2" r="2.3"/><circle cx="378.5" cy="131.3" r="2.3"/><circle cx="378.5" cy="124.3" r="2.3"/><circle cx="378.5" cy="105.4" r="2.3"/><circle cx="378.5" cy="104.4" r="2.3"/><circle cx="378.5" cy="128.4" r="2.3"/><circle cx="378.5" cy="93.1" r="2.3"/><circle cx="378.5" cy="67.9" r="2.3"/><circle cx="378.5" cy="93.4" r="2.3"/><circle cx="378.5" cy="108.9" r="2.3"/><circle cx="378.5" cy="84.5" r="2.3"/><circle cx="378.5" cy="103.2" r="2.3"/><circle cx="378.5" cy="121.6" r="2.3"/><circle cx="378.5" cy="100.1" r="2.3"/><circle cx="378.5" cy="132.6" r="2.3"/><circle cx="378.5" cy="86.5" r="2.3"/><circle cx="378.5" cy="122.6" r="2.3"/><circle cx="378.5" cy="108.0" r="2.3"/><circle cx="378.5" cy="66.4" r="2.3"/><circle cx="378.5" cy="80.2" r="2.3"/><circle cx="378.5" cy="75.3" r="2.3"/><circle cx="378.5" cy="88.9" r="2.3"/><circle cx="378.5" cy="89.4" r="2.3"/><circle cx="378.5" cy="84.5" r="2.3"/><circle cx="378.5" cy="66.2" r="2.3"/><circle cx="378.5" cy="120.1" r="2.3"/><circle cx="378.5" cy="80.2" r="2.3"/><circle cx="378.5" cy="112.8" r="2.3"/><circle cx="378.5" cy="115.9" r="2.3"/><circle cx="378.5" cy="76.3" r="2.3"/><circle cx="378.5" cy="91.7" r="2.3"/><circle cx="378.5" cy="74.3" r="2.3"/><circle cx="378.5" cy="72.6" r="2.3"/><circle cx="378.5" cy="92.6" r="2.3"/><circle cx="378.5" cy="119.9" r="2.3"/><circle cx="378.5" cy="132.8" r="2.3"/><circle cx="378.5" cy="96.4" r="2.3"/><circle cx="378.5" cy="83.0" r="2.3"/><circle cx="378.5" cy="114.8" r="2.3"/><circle cx="378.5" cy="128.9" r="2.3"/><circle cx="378.5" cy="133.5" r="2.3"/><circle cx="378.5" cy="121.7" r="2.3"/><circle cx="378.5" cy="85.1" r="2.3"/><circle cx="378.5" cy="133.6" r="2.3"/><circle cx="378.5" cy="117.7" r="2.3"/><circle cx="378.5" cy="115.3" r="2.3"/><circle cx="378.5" cy="84.0" r="2.3"/><circle cx="378.5" cy="64.7" r="2.3"/><circle cx="378.5" cy="132.5" r="2.3"/><circle cx="378.5" cy="125.8" r="2.3"/><circle cx="378.5" cy="68.4" r="2.3"/><circle cx="378.5" cy="65.9" r="2.3"/><circle cx="378.5" cy="123.4" r="2.3"/><circle cx="378.5" cy="110.4" r="2.3"/></g>
<g class="q" fill-opacity="0.75" stroke-opacity="0.89"><circle cx="378.5" cy="55.2" r="2.3"/><circle cx="378.5" cy="44.7" r="2.3"/><circle cx="378.5" cy="76.0" r="2.3"/></g>
<g class="q" fill-opacity="0.70" stroke-opacity="0.83"><circle cx="378.5" cy="140.2" r="2.3"/></g>
<g class="q" fill-opacity="0.30" stroke-opacity="0.35"><circle cx="413.8" cy="140.2" r="2.3"/><circle cx="403.6" cy="140.2" r="2.3"/><circle cx="408.5" cy="140.2" r="2.3"/><circle cx="411.6" cy="140.2" r="2.3"/><circle cx="400.5" cy="140.2" r="2.3"/><circle cx="390.2" cy="140.2" r="2.3"/><circle cx="391.7" cy="140.2" r="2.3"/><circle cx="395.6" cy="140.2" r="2.3"/><circle cx="392.0" cy="140.2" r="2.3"/><circle cx="419.0" cy="140.2" r="2.3"/><circle cx="422.6" cy="140.2" r="2.3"/><circle cx="400.7" cy="140.2" r="2.3"/><circle cx="427.5" cy="140.2" r="2.3"/><circle cx="424.3" cy="140.2" r="2.3"/><circle cx="404.7" cy="140.2" r="2.3"/><circle cx="412.3" cy="140.2" r="2.3"/><circle cx="397.0" cy="140.2" r="2.3"/><circle cx="434.4" cy="140.2" r="2.3"/><circle cx="415.8" cy="140.2" r="2.3"/><circle cx="390.0" cy="140.2" r="2.3"/><circle cx="395.2" cy="140.2" r="2.3"/><circle cx="422.4" cy="140.2" r="2.3"/><circle cx="406.9" cy="140.2" r="2.3"/><circle cx="423.7" cy="140.2" r="2.3"/><circle cx="399.0" cy="140.2" r="2.3"/><circle cx="427.7" cy="140.2" r="2.3"/><circle cx="428.0" cy="140.2" r="2.3"/><circle cx="392.2" cy="140.2" r="2.3"/><circle cx="417.1" cy="140.2" r="2.3"/><circle cx="397.1" cy="140.2" r="2.3"/><circle cx="423.2" cy="140.2" r="2.3"/><circle cx="428.1" cy="140.2" r="2.3"/><circle cx="427.4" cy="140.2" r="2.3"/><circle cx="399.1" cy="140.2" r="2.3"/><circle cx="392.1" cy="140.2" r="2.3"/><circle cx="421.0" cy="140.2" r="2.3"/><circle cx="416.0" cy="140.2" r="2.3"/><circle cx="394.4" cy="140.2" r="2.3"/><circle cx="397.2" cy="140.2" r="2.3"/><circle cx="416.9" cy="140.2" r="2.3"/><circle cx="392.9" cy="140.2" r="2.3"/><circle cx="419.5" cy="140.2" r="2.3"/><circle cx="399.6" cy="140.2" r="2.3"/><circle cx="400.5" cy="140.2" r="2.3"/><circle cx="408.8" cy="140.2" r="2.3"/><circle cx="414.4" cy="140.2" r="2.3"/><circle cx="424.0" cy="140.2" r="2.3"/><circle cx="389.0" cy="140.2" r="2.3"/><circle cx="424.0" cy="140.2" r="2.3"/><circle cx="398.6" cy="140.2" r="2.3"/><circle cx="402.1" cy="140.2" r="2.3"/><circle cx="419.8" cy="140.2" r="2.3"/><circle cx="422.4" cy="140.2" r="2.3"/><circle cx="418.5" cy="140.2" r="2.3"/><circle cx="433.0" cy="140.2" r="2.3"/><circle cx="397.8" cy="140.2" r="2.3"/><circle cx="403.2" cy="140.2" r="2.3"/><circle cx="420.9" cy="140.2" r="2.3"/><circle cx="400.6" cy="140.2" r="2.3"/><circle cx="395.4" cy="140.2" r="2.3"/><circle cx="398.9" cy="140.2" r="2.3"/><circle cx="426.4" cy="140.2" r="2.3"/><circle cx="429.2" cy="140.2" r="2.3"/><circle cx="423.6" cy="140.2" r="2.3"/><circle cx="435.9" cy="140.2" r="2.3"/><circle cx="427.6" cy="140.2" r="2.3"/><circle cx="403.1" cy="140.2" r="2.3"/><circle cx="403.4" cy="140.2" r="2.3"/><circle cx="423.9" cy="140.2" r="2.3"/><circle cx="390.2" cy="140.2" r="2.3"/></g>
<g class="p" fill-opacity="0.35" stroke-opacity="0.41"><circle cx="446.8" cy="140.2" r="2.3"/><circle cx="456.9" cy="140.2" r="2.3"/><circle cx="468.5" cy="140.2" r="2.3"/><circle cx="475.3" cy="140.2" r="2.3"/><circle cx="479.9" cy="140.2" r="2.3"/><circle cx="486.7" cy="140.2" r="2.3"/><circle cx="490.0" cy="140.2" r="2.3"/><circle cx="511.0" cy="140.2" r="2.3"/></g>
<g class="q" fill-opacity="0.50" stroke-opacity="0.59"><circle cx="446.8" cy="140.2" r="2.3"/><circle cx="468.5" cy="140.2" r="2.3"/><circle cx="479.9" cy="140.2" r="2.3"/></g>
<g class="q" fill-opacity="0.40" stroke-opacity="0.47"><circle cx="386.5" cy="131.0" r="2.3"/><circle cx="387.8" cy="129.4" r="2.3"/><circle cx="388.4" cy="127.5" r="2.3"/><circle cx="388.6" cy="127.6" r="2.3"/><circle cx="388.8" cy="125.8" r="2.3"/><circle cx="388.5" cy="124.9" r="2.3"/><circle cx="389.1" cy="123.0" r="2.3"/><circle cx="389.2" cy="122.6" r="2.3"/><circle cx="390.8" cy="121.2" r="2.3"/><circle cx="390.7" cy="119.7" r="2.3"/><circle cx="391.6" cy="118.1" r="2.3"/><circle cx="392.2" cy="117.2" r="2.3"/><circle cx="391.8" cy="116.4" r="2.3"/><circle cx="393.2" cy="115.8" r="2.3"/><circle cx="392.4" cy="113.7" r="2.3"/><circle cx="394.8" cy="113.2" r="2.3"/><circle cx="395.0" cy="111.4" r="2.3"/><circle cx="394.8" cy="110.8" r="2.3"/><circle cx="397.0" cy="109.0" r="2.3"/><circle cx="396.3" cy="108.3" r="2.3"/><circle cx="395.8" cy="106.8" r="2.3"/><circle cx="397.0" cy="105.6" r="2.3"/><circle cx="397.5" cy="105.4" r="2.3"/><circle cx="397.8" cy="103.3" r="2.3"/><circle cx="385.4" cy="134.6" r="2.3"/><circle cx="386.6" cy="134.0" r="2.3"/><circle cx="386.9" cy="132.4" r="2.3"/><circle cx="388.1" cy="132.3" r="2.3"/><circle cx="389.0" cy="131.6" r="2.3"/><circle cx="388.5" cy="131.1" r="2.3"/><circle cx="390.4" cy="129.9" r="2.3"/><circle cx="391.1" cy="129.9" r="2.3"/><circle cx="391.6" cy="128.4" r="2.3"/><circle cx="392.6" cy="126.5" r="2.3"/><circle cx="393.6" cy="126.9" r="2.3"/><circle cx="394.0" cy="127.4" r="2.3"/><circle cx="395.3" cy="125.9" r="2.3"/><circle cx="396.3" cy="125.0" r="2.3"/><circle cx="396.2" cy="123.5" r="2.3"/><circle cx="397.0" cy="124.1" r="2.3"/><circle cx="398.1" cy="122.3" r="2.3"/><circle cx="398.9" cy="121.9" r="2.3"/><circle cx="399.6" cy="121.5" r="2.3"/><circle cx="400.2" cy="119.9" r="2.3"/><circle cx="399.3" cy="119.2" r="2.3"/><circle cx="402.4" cy="118.0" r="2.3"/><circle cx="402.3" cy="117.7" r="2.3"/><circle cx="403.2" cy="117.7" r="2.3"/><circle cx="404.2" cy="116.0" r="2.3"/><circle cx="405.3" cy="116.6" r="2.3"/><circle cx="405.5" cy="115.0" r="2.3"/><circle cx="406.4" cy="114.9" r="2.3"/><circle cx="408.2" cy="114.2" r="2.3"/><circle cx="407.4" cy="111.8" r="2.3"/><circle cx="408.8" cy="112.3" r="2.3"/><circle cx="409.0" cy="110.8" r="2.3"/><circle cx="409.8" cy="110.0" r="2.3"/><circle cx="411.2" cy="109.4" r="2.3"/><circle cx="412.2" cy="109.2" r="2.3"/><circle cx="411.7" cy="108.9" r="2.3"/></g>
<g class="q" fill-opacity="0.38" stroke-opacity="0.45"><circle cx="393.2" cy="135.8" r="2.3"/><circle cx="395.3" cy="135.3" r="2.3"/><circle cx="396.4" cy="134.3" r="2.3"/><circle cx="396.4" cy="134.8" r="2.3"/><circle cx="397.4" cy="132.2" r="2.3"/><circle cx="397.5" cy="131.7" r="2.3"/><circle cx="400.0" cy="131.4" r="2.3"/><circle cx="399.9" cy="130.4" r="2.3"/><circle cx="400.8" cy="129.8" r="2.3"/><circle cx="403.4" cy="131.4" r="2.3"/><circle cx="404.6" cy="128.6" r="2.3"/><circle cx="404.6" cy="130.1" r="2.3"/><circle cx="405.6" cy="128.8" r="2.3"/><circle cx="407.3" cy="128.6" r="2.3"/><circle cx="407.2" cy="127.3" r="2.3"/><circle cx="409.1" cy="128.0" r="2.3"/><circle cx="410.2" cy="126.7" r="2.3"/><circle cx="410.6" cy="125.4" r="2.3"/><circle cx="412.4" cy="124.9" r="2.3"/><circle cx="414.2" cy="124.5" r="2.3"/><circle cx="414.1" cy="123.9" r="2.3"/><circle cx="416.1" cy="123.1" r="2.3"/><circle cx="416.4" cy="122.3" r="2.3"/><circle cx="416.2" cy="121.8" r="2.3"/><circle cx="418.8" cy="122.0" r="2.3"/><circle cx="418.3" cy="122.3" r="2.3"/><circle cx="418.9" cy="120.5" r="2.3"/><circle cx="421.3" cy="120.8" r="2.3"/><circle cx="423.0" cy="120.2" r="2.3"/><circle cx="424.1" cy="118.6" r="2.3"/><circle cx="398.1" cy="137.5" r="2.3"/><circle cx="398.3" cy="136.3" r="2.3"/><circle cx="401.0" cy="136.5" r="2.3"/><circle cx="401.7" cy="134.8" r="2.3"/><circle cx="401.7" cy="133.7" r="2.3"/><circle cx="404.0" cy="134.8" r="2.3"/><circle cx="405.6" cy="134.1" r="2.3"/><circle cx="406.1" cy="133.9" r="2.3"/><circle cx="407.8" cy="133.7" r="2.3"/><circle cx="410.0" cy="132.2" r="2.3"/><circle cx="411.1" cy="133.1" r="2.3"/><circle cx="411.5" cy="131.3" r="2.3"/><circle cx="413.1" cy="132.3" r="2.3"/><circle cx="414.7" cy="129.4" r="2.3"/><circle cx="416.4" cy="130.3" r="2.3"/><circle cx="416.2" cy="129.1" r="2.3"/><circle cx="418.7" cy="129.5" r="2.3"/><circle cx="419.4" cy="128.3" r="2.3"/><circle cx="420.8" cy="128.8" r="2.3"/><circle cx="421.4" cy="128.1" r="2.3"/><circle cx="423.3" cy="127.8" r="2.3"/><circle cx="427.7" cy="127.8" r="2.3"/><circle cx="424.9" cy="126.9" r="2.3"/><circle cx="427.9" cy="124.8" r="2.3"/><circle cx="427.5" cy="125.9" r="2.3"/><circle cx="430.3" cy="125.6" r="2.3"/><circle cx="431.6" cy="124.8" r="2.3"/><circle cx="433.3" cy="124.1" r="2.3"/><circle cx="434.9" cy="124.5" r="2.3"/><circle cx="435.8" cy="123.5" r="2.3"/></g>
<g class="q" fill-opacity="0.45" stroke-opacity="0.53"><circle cx="405.5" cy="63.8" r="2.3"/><circle cx="390.7" cy="76.5" r="2.3"/><circle cx="393.4" cy="76.5" r="2.3"/><circle cx="401.5" cy="76.5" r="2.3"/><circle cx="385.3" cy="86.5" r="2.3"/><circle cx="392.3" cy="89.3" r="2.3"/><circle cx="395.1" cy="92.3" r="2.3"/><circle cx="400.9" cy="93.6" r="2.3"/><circle cx="398.8" cy="93.6" r="2.3"/></g>
<g class="q" fill-opacity="0.70" stroke-opacity="0.83"><circle cx="412.0" cy="76.5" r="2.3"/><circle cx="398.1" cy="85.8" r="2.3"/><circle cx="405.5" cy="89.3" r="2.3"/><circle cx="393.4" cy="96.9" r="2.3"/><circle cx="400.9" cy="96.9" r="2.3"/><circle cx="423.5" cy="96.9" r="2.3"/><circle cx="417.0" cy="103.5" r="2.3"/><circle cx="468.0" cy="98.2" r="2.3"/><circle cx="486.3" cy="114.7" r="2.3"/><circle cx="460.2" cy="115.2" r="2.3"/><circle cx="446.6" cy="108.4" r="2.3"/><circle cx="405.1" cy="89.7" r="2.3"/></g>
<rect x="461.80" y="16.50" width="48.0" height="53.2" fill="#fff" stroke="#dadada" stroke-width="0.8"/>
<path d="M498.72 16.50V69.70M461.80 23.00H509.80M461.80 33.05H509.80M461.80 43.10H509.80M461.80 53.15H509.80M461.80 63.20H509.80" stroke="#e2e2e2" stroke-width="0.8" fill="none"/>
<rect x="461.80" y="19.40" width="32.94" height="7.2" fill="#8a8a8a"/>
<text x="458.50" y="25.85" text-anchor="end" font-size="7.6" class="b">1</text>
<rect x="461.80" y="29.45" width="18.24" height="7.2" fill="#8a8a8a"/>
<text x="458.50" y="35.90" text-anchor="end" font-size="7.6" class="b">2</text>
<rect x="461.80" y="39.50" width="11.00" height="7.2" fill="#8a8a8a"/>
<text x="458.50" y="45.95" text-anchor="end" font-size="7.6" class="b">3</text>
<rect x="461.80" y="49.55" width="5.54" height="7.2" fill="#8a8a8a"/>
<text x="458.50" y="56.00" text-anchor="end" font-size="7.6" class="b">4</text>
<rect x="461.80" y="59.60" width="4.58" height="7.2" fill="#8a8a8a"/>
<text x="458.50" y="66.05" text-anchor="end" font-size="7.6" class="b">5</text>
<text x="461.80" y="78.40" text-anchor="middle" font-size="7.4" class="b">0.0</text>
<text x="498.72" y="78.40" text-anchor="middle" font-size="7.4" class="b">0.5</text>
<text x="373.60" y="144.10" text-anchor="end" font-size="10">0.0</text>
<text x="373.60" y="118.64" text-anchor="end" font-size="10">0.2</text>
<text x="373.60" y="93.18" text-anchor="end" font-size="10">0.4</text>
<text x="373.60" y="67.72" text-anchor="end" font-size="10">0.6</text>
<text x="373.60" y="42.26" text-anchor="end" font-size="10">0.8</text>
<text x="373.60" y="16.80" text-anchor="end" font-size="10">1.0</text>
<text x="378.50" y="153.00" text-anchor="middle" font-size="10">0.0</text>
<text x="446.10" y="153.00" text-anchor="middle" font-size="10">0.5</text>
<text x="513.70" y="153.00" text-anchor="middle" font-size="10">1.0</text>
<text x="445.10" y="165.20" text-anchor="middle" font-size="11">f+</text>
<text x="352.80" y="75.50" font-size="10.4">f-</text>
<text x="445.15" y="8.90" text-anchor="middle" font-size="12" stroke-width="0.4">ELM</text>
<rect x="24.30" y="188.80" width="137.1" height="129.7" fill="none" stroke="#e0e0e0" stroke-width="1"/>
<path d="M26.20 189.20L161.40 316.50M26.20 271.94L73.52 233.75M73.52 316.50L114.08 271.94M26.20 271.94L73.52 316.50M26.20 284.68L60.00 316.50" fill="none" stroke="#6c6c6c" stroke-width="1.0" stroke-dasharray="2.6 1.8"/>
<g class="p" fill-opacity="0.30" stroke-opacity="0.35"><circle cx="26.2" cy="224.8" r="2.3"/><circle cx="39.4" cy="240.1" r="2.3"/><circle cx="30.7" cy="254.9" r="2.3"/><circle cx="34.4" cy="259.7" r="2.3"/><circle cx="26.2" cy="263.7" r="2.3"/><circle cx="34.2" cy="261.4" r="2.3"/><circle cx="44.6" cy="265.5" r="2.3"/><circle cx="28.9" cy="273.0" r="2.3"/><circle cx="37.0" cy="275.3" r="2.3"/><circle cx="43.4" cy="272.6" r="2.3"/><circle cx="45.1" cy="276.1" r="2.3"/><circle cx="53.2" cy="277.7" r="2.3"/><circle cx="66.6" cy="277.7" r="2.3"/><circle cx="26.6" cy="277.7" r="2.3"/><circle cx="43.4" cy="280.9" r="2.3"/><circle cx="60.3" cy="283.9" r="2.3"/><circle cx="34.7" cy="285.6" r="2.3"/><circle cx="45.1" cy="287.9" r="2.3"/><circle cx="53.2" cy="290.3" r="2.3"/><circle cx="66.6" cy="290.3" r="2.3"/><circle cx="37.0" cy="291.5" r="2.3"/><circle cx="62.3" cy="287.9" r="2.3"/><circle cx="26.6" cy="294.9" r="2.3"/><circle cx="34.7" cy="296.6" r="2.3"/><circle cx="45.1" cy="295.8" r="2.3"/><circle cx="48.5" cy="298.0" r="2.3"/><circle cx="55.5" cy="299.2" r="2.3"/><circle cx="62.4" cy="298.0" r="2.3"/><circle cx="26.6" cy="305.3" r="2.3"/><circle cx="33.5" cy="305.3" r="2.3"/><circle cx="37.0" cy="306.4" r="2.3"/><circle cx="41.6" cy="304.2" r="2.3"/><circle cx="49.7" cy="305.3" r="2.3"/><circle cx="56.8" cy="306.4" r="2.3"/><circle cx="66.6" cy="308.9" r="2.3"/><circle cx="40.5" cy="316.5" r="2.3"/><circle cx="45.1" cy="316.5" r="2.3"/><circle cx="53.2" cy="316.5" r="2.3"/><circle cx="70.8" cy="316.5" r="2.3"/><circle cx="62.8" cy="299.3" r="2.3"/><circle cx="98.3" cy="299.1" r="2.3"/><circle cx="83.8" cy="312.0" r="2.3"/><circle cx="93.4" cy="316.5" r="2.3"/><circle cx="99.2" cy="316.5" r="2.3"/><circle cx="123.3" cy="316.5" r="2.3"/><circle cx="26.6" cy="300.0" r="2.3"/><circle cx="26.6" cy="288.5" r="2.3"/></g>
<g class="q" fill-opacity="0.70" stroke-opacity="0.83"><circle cx="26.2" cy="316.5" r="2.3"/></g>
<g class="p" fill-opacity="0.28" stroke-opacity="0.33"><circle cx="52.5" cy="304.0" r="2.3"/><circle cx="50.3" cy="294.1" r="2.3"/><circle cx="46.3" cy="304.0" r="2.3"/><circle cx="39.2" cy="298.0" r="2.3"/><circle cx="42.5" cy="291.2" r="2.3"/><circle cx="35.4" cy="294.3" r="2.3"/><circle cx="44.4" cy="297.4" r="2.3"/><circle cx="37.4" cy="287.3" r="2.3"/><circle cx="43.7" cy="301.4" r="2.3"/><circle cx="43.5" cy="290.6" r="2.3"/><circle cx="48.3" cy="292.7" r="2.3"/><circle cx="47.9" cy="301.3" r="2.3"/><circle cx="33.6" cy="297.5" r="2.3"/><circle cx="43.7" cy="306.1" r="2.3"/><circle cx="42.3" cy="301.0" r="2.3"/><circle cx="52.7" cy="311.9" r="2.3"/><circle cx="60.7" cy="300.3" r="2.3"/><circle cx="40.8" cy="295.3" r="2.3"/><circle cx="55.8" cy="298.4" r="2.3"/><circle cx="42.0" cy="299.4" r="2.3"/><circle cx="33.5" cy="291.1" r="2.3"/><circle cx="50.5" cy="300.4" r="2.3"/><circle cx="44.4" cy="301.8" r="2.3"/><circle cx="45.2" cy="294.9" r="2.3"/><circle cx="35.1" cy="289.6" r="2.3"/><circle cx="42.3" cy="293.7" r="2.3"/><circle cx="44.4" cy="295.4" r="2.3"/><circle cx="46.0" cy="293.9" r="2.3"/><circle cx="39.0" cy="295.5" r="2.3"/><circle cx="35.8" cy="293.3" r="2.3"/><circle cx="52.2" cy="302.1" r="2.3"/><circle cx="51.7" cy="302.9" r="2.3"/><circle cx="47.0" cy="291.8" r="2.3"/><circle cx="46.6" cy="296.0" r="2.3"/><circle cx="54.1" cy="298.0" r="2.3"/><circle cx="51.2" cy="301.7" r="2.3"/><circle cx="39.0" cy="290.8" r="2.3"/><circle cx="37.0" cy="287.7" r="2.3"/><circle cx="40.5" cy="294.0" r="2.3"/><circle cx="50.2" cy="305.6" r="2.3"/><circle cx="58.2" cy="303.2" r="2.3"/><circle cx="42.8" cy="302.1" r="2.3"/><circle cx="32.3" cy="301.5" r="2.3"/><circle cx="37.3" cy="291.2" r="2.3"/><circle cx="41.0" cy="289.5" r="2.3"/></g>
<g class="q" fill-opacity="0.35" stroke-opacity="0.41"><circle cx="39.7" cy="294.9" r="2.3"/><circle cx="46.5" cy="301.2" r="2.3"/><circle cx="37.0" cy="298.7" r="2.3"/><circle cx="50.5" cy="291.0" r="2.3"/><circle cx="42.4" cy="288.5" r="2.3"/></g>
<rect x="109.50" y="192.80" width="48.0" height="53.2" fill="#fff" stroke="#dadada" stroke-width="0.8"/>
<path d="M146.42 192.80V246.00M109.50 199.30H157.50M109.50 209.35H157.50M109.50 219.40H157.50M109.50 229.45H157.50M109.50 239.50H157.50" stroke="#e2e2e2" stroke-width="0.8" fill="none"/>
<rect x="109.50" y="195.70" width="29.32" height="7.2" fill="#8a8a8a"/>
<text x="106.20" y="202.15" text-anchor="end" font-size="7.6" class="b">1</text>
<rect x="109.50" y="205.75" width="19.79" height="7.2" fill="#8a8a8a"/>
<text x="106.20" y="212.20" text-anchor="end" font-size="7.6" class="b">2</text>
<rect x="109.50" y="215.80" width="15.21" height="7.2" fill="#8a8a8a"/>
<text x="106.20" y="222.25" text-anchor="end" font-size="7.6" class="b">3</text>
<rect x="109.50" y="225.85" width="3.47" height="7.2" fill="#8a8a8a"/>
<text x="106.20" y="232.30" text-anchor="end" font-size="7.6" class="b">4</text>
<rect x="109.50" y="235.90" width="4.28" height="7.2" fill="#8a8a8a"/>
<text x="106.20" y="242.35" text-anchor="end" font-size="7.6" class="b">5</text>
<text x="109.50" y="254.70" text-anchor="middle" font-size="7.4" class="b">0.0</text>
<text x="146.42" y="254.70" text-anchor="middle" font-size="7.4" class="b">0.5</text>
<text x="21.30" y="320.40" text-anchor="end" font-size="10">0.0</text>
<text x="21.30" y="294.94" text-anchor="end" font-size="10">0.2</text>
<text x="21.30" y="269.48" text-anchor="end" font-size="10">0.4</text>
<text x="21.30" y="244.02" text-anchor="end" font-size="10">0.6</text>
<text x="21.30" y="218.56" text-anchor="end" font-size="10">0.8</text>
<text x="21.30" y="193.10" text-anchor="end" font-size="10">1.0</text>
<text x="26.20" y="329.30" text-anchor="middle" font-size="10">0.0</text>
<text x="93.80" y="329.30" text-anchor="middle" font-size="10">0.5</text>
<text x="161.40" y="329.30" text-anchor="middle" font-size="10">1.0</text>
<text x="92.80" y="341.50" text-anchor="middle" font-size="11">f+</text>
<text x="0.50" y="251.80" font-size="10.4">f-</text>
<text x="92.85" y="185.20" text-anchor="middle" font-size="12" stroke-width="0.4">FuzDB</text>
<rect x="200.60" y="188.80" width="137.1" height="129.7" fill="none" stroke="#e0e0e0" stroke-width="1"/>
<path d="M202.50 189.20L337.70 316.50M202.50 271.94L249.82 233.75M249.82 316.50L290.38 271.94M202.50 271.94L249.82 316.50M202.50 284.68L236.30 316.50" fill="none" stroke="#6c6c6c" stroke-width="1.0" stroke-dasharray="2.6 1.8"/>
<g class="p" fill-opacity="0.30" stroke-opacity="0.35"><circle cx="208.6" cy="286.5" r="2.3"/><circle cx="205.2" cy="256.9" r="2.3"/><circle cx="226.5" cy="285.1" r="2.3"/><circle cx="238.4" cy="275.3" r="2.3"/><circle cx="210.2" cy="264.7" r="2.3"/><circle cx="223.0" cy="274.4" r="2.3"/><circle cx="214.1" cy="259.5" r="2.3"/><circle cx="234.1" cy="278.1" r="2.3"/><circle cx="214.0" cy="260.8" r="2.3"/><circle cx="207.6" cy="261.8" r="2.3"/><circle cx="238.1" cy="278.3" r="2.3"/><circle cx="226.6" cy="278.8" r="2.3"/><circle cx="219.9" cy="273.5" r="2.3"/><circle cx="225.1" cy="278.3" r="2.3"/><circle cx="222.3" cy="265.9" r="2.3"/><circle cx="215.7" cy="293.5" r="2.3"/><circle cx="241.3" cy="275.8" r="2.3"/><circle cx="236.9" cy="276.6" r="2.3"/><circle cx="221.9" cy="286.9" r="2.3"/><circle cx="230.3" cy="268.2" r="2.3"/><circle cx="243.1" cy="268.4" r="2.3"/><circle cx="227.2" cy="263.6" r="2.3"/><circle cx="238.7" cy="272.4" r="2.3"/><circle cx="210.5" cy="264.0" r="2.3"/><circle cx="227.0" cy="262.5" r="2.3"/><circle cx="220.8" cy="276.0" r="2.3"/><circle cx="226.8" cy="286.0" r="2.3"/><circle cx="236.8" cy="284.8" r="2.3"/><circle cx="228.8" cy="259.7" r="2.3"/><circle cx="220.7" cy="272.0" r="2.3"/><circle cx="219.8" cy="270.8" r="2.3"/><circle cx="226.2" cy="282.2" r="2.3"/><circle cx="219.4" cy="281.8" r="2.3"/><circle cx="250.9" cy="276.4" r="2.3"/><circle cx="215.2" cy="260.1" r="2.3"/><circle cx="218.2" cy="250.4" r="2.3"/><circle cx="230.7" cy="285.2" r="2.3"/><circle cx="215.6" cy="281.4" r="2.3"/><circle cx="213.9" cy="275.4" r="2.3"/><circle cx="232.8" cy="281.3" r="2.3"/><circle cx="221.9" cy="278.6" r="2.3"/><circle cx="236.0" cy="277.9" r="2.3"/><circle cx="234.0" cy="263.5" r="2.3"/><circle cx="220.4" cy="252.1" r="2.3"/><circle cx="217.4" cy="274.8" r="2.3"/><circle cx="226.3" cy="254.5" r="2.3"/><circle cx="217.8" cy="255.4" r="2.3"/><circle cx="236.6" cy="270.8" r="2.3"/><circle cx="231.2" cy="279.1" r="2.3"/><circle cx="241.7" cy="275.6" r="2.3"/><circle cx="211.7" cy="263.5" r="2.3"/><circle cx="213.8" cy="269.9" r="2.3"/><circle cx="238.6" cy="288.2" r="2.3"/><circle cx="219.2" cy="283.3" r="2.3"/><circle cx="229.0" cy="265.3" r="2.3"/><circle cx="212.0" cy="268.0" r="2.3"/><circle cx="212.8" cy="284.9" r="2.3"/><circle cx="223.8" cy="255.0" r="2.3"/><circle cx="228.4" cy="273.4" r="2.3"/><circle cx="213.8" cy="283.7" r="2.3"/><circle cx="234.0" cy="259.6" r="2.3"/><circle cx="208.9" cy="270.3" r="2.3"/><circle cx="223.1" cy="288.0" r="2.3"/><circle cx="233.8" cy="271.7" r="2.3"/><circle cx="219.5" cy="267.2" r="2.3"/><circle cx="224.0" cy="264.0" r="2.3"/><circle cx="214.0" cy="283.8" r="2.3"/><circle cx="214.2" cy="280.5" r="2.3"/><circle cx="233.7" cy="272.5" r="2.3"/><circle cx="229.2" cy="271.7" r="2.3"/><circle cx="226.8" cy="256.6" r="2.3"/><circle cx="241.7" cy="278.3" r="2.3"/><circle cx="211.1" cy="286.7" r="2.3"/><circle cx="212.6" cy="254.7" r="2.3"/><circle cx="238.5" cy="279.7" r="2.3"/><circle cx="222.8" cy="272.8" r="2.3"/><circle cx="226.0" cy="276.7" r="2.3"/><circle cx="235.5" cy="275.5" r="2.3"/><circle cx="210.7" cy="254.5" r="2.3"/><circle cx="231.2" cy="271.5" r="2.3"/><circle cx="221.1" cy="282.0" r="2.3"/><circle cx="206.3" cy="289.1" r="2.3"/><circle cx="245.0" cy="271.3" r="2.3"/><circle cx="204.9" cy="274.8" r="2.3"/><circle cx="227.8" cy="264.7" r="2.3"/><circle cx="205.6" cy="275.4" r="2.3"/><circle cx="237.8" cy="266.0" r="2.3"/><circle cx="223.4" cy="252.8" r="2.3"/><circle cx="222.0" cy="263.1" r="2.3"/><circle cx="206.5" cy="269.1" r="2.3"/><circle cx="228.1" cy="279.3" r="2.3"/><circle cx="212.3" cy="275.9" r="2.3"/><circle cx="228.3" cy="268.3" r="2.3"/><circle cx="210.5" cy="281.8" r="2.3"/><circle cx="213.9" cy="255.9" r="2.3"/><circle cx="229.6" cy="261.7" r="2.3"/><circle cx="210.2" cy="253.9" r="2.3"/><circle cx="224.0" cy="267.4" r="2.3"/><circle cx="217.1" cy="274.0" r="2.3"/><circle cx="217.0" cy="286.6" r="2.3"/><circle cx="230.6" cy="258.5" r="2.3"/><circle cx="233.4" cy="270.5" r="2.3"/><circle cx="236.8" cy="271.1" r="2.3"/><circle cx="224.9" cy="255.7" r="2.3"/><circle cx="214.6" cy="283.4" r="2.3"/><circle cx="227.9" cy="273.3" r="2.3"/><circle cx="229.0" cy="255.1" r="2.3"/><circle cx="230.7" cy="287.0" r="2.3"/><circle cx="213.9" cy="287.2" r="2.3"/><circle cx="226.8" cy="271.3" r="2.3"/><circle cx="261.2" cy="287.6" r="2.3"/><circle cx="250.0" cy="303.9" r="2.3"/><circle cx="250.9" cy="305.3" r="2.3"/><circle cx="260.3" cy="293.4" r="2.3"/><circle cx="251.0" cy="311.5" r="2.3"/><circle cx="265.9" cy="305.3" r="2.3"/><circle cx="266.2" cy="290.4" r="2.3"/><circle cx="267.5" cy="306.4" r="2.3"/><circle cx="239.0" cy="302.2" r="2.3"/><circle cx="247.1" cy="296.4" r="2.3"/><circle cx="239.9" cy="295.2" r="2.3"/><circle cx="235.7" cy="294.7" r="2.3"/><circle cx="255.6" cy="284.5" r="2.3"/><circle cx="238.5" cy="285.5" r="2.3"/><circle cx="247.3" cy="314.3" r="2.3"/><circle cx="241.8" cy="294.8" r="2.3"/><circle cx="246.2" cy="286.3" r="2.3"/><circle cx="238.2" cy="283.1" r="2.3"/><circle cx="252.8" cy="301.7" r="2.3"/><circle cx="242.0" cy="290.1" r="2.3"/><circle cx="254.5" cy="312.9" r="2.3"/><circle cx="256.7" cy="283.7" r="2.3"/><circle cx="247.5" cy="305.6" r="2.3"/><circle cx="249.5" cy="304.6" r="2.3"/><circle cx="232.7" cy="296.7" r="2.3"/><circle cx="255.4" cy="282.4" r="2.3"/><circle cx="247.3" cy="286.9" r="2.3"/><circle cx="232.3" cy="292.0" r="2.3"/><circle cx="262.2" cy="302.1" r="2.3"/><circle cx="242.4" cy="287.8" r="2.3"/><circle cx="260.1" cy="284.7" r="2.3"/><circle cx="269.5" cy="301.4" r="2.3"/><circle cx="267.0" cy="303.7" r="2.3"/><circle cx="266.1" cy="301.7" r="2.3"/><circle cx="240.5" cy="284.2" r="2.3"/><circle cx="243.4" cy="285.4" r="2.3"/><circle cx="267.1" cy="292.7" r="2.3"/><circle cx="247.3" cy="306.6" r="2.3"/><circle cx="255.0" cy="291.1" r="2.3"/><circle cx="251.6" cy="286.1" r="2.3"/><circle cx="266.8" cy="309.2" r="2.3"/><circle cx="241.2" cy="299.6" r="2.3"/><circle cx="264.7" cy="291.2" r="2.3"/><circle cx="247.3" cy="294.0" r="2.3"/><circle cx="256.4" cy="283.6" r="2.3"/><circle cx="260.2" cy="297.8" r="2.3"/><circle cx="265.0" cy="294.5" r="2.3"/><circle cx="243.3" cy="299.6" r="2.3"/><circle cx="256.1" cy="306.3" r="2.3"/><circle cx="258.6" cy="294.0" r="2.3"/><circle cx="239.6" cy="307.0" r="2.3"/><circle cx="261.2" cy="304.2" r="2.3"/><circle cx="254.1" cy="307.8" r="2.3"/><circle cx="244.2" cy="291.4" r="2.3"/><circle cx="261.1" cy="293.5" r="2.3"/><circle cx="238.9" cy="287.2" r="2.3"/><circle cx="250.9" cy="282.6" r="2.3"/><circle cx="240.0" cy="293.1" r="2.3"/><circle cx="262.6" cy="301.5" r="2.3"/><circle cx="246.0" cy="281.1" r="2.3"/><circle cx="249.3" cy="289.0" r="2.3"/><circle cx="248.8" cy="284.5" r="2.3"/><circle cx="259.1" cy="300.8" r="2.3"/><circle cx="243.8" cy="282.2" r="2.3"/><circle cx="246.2" cy="288.7" r="2.3"/><circle cx="257.7" cy="307.7" r="2.3"/><circle cx="253.5" cy="296.7" r="2.3"/><circle cx="241.5" cy="293.4" r="2.3"/><circle cx="256.5" cy="286.5" r="2.3"/><circle cx="253.1" cy="279.6" r="2.3"/><circle cx="246.8" cy="277.9" r="2.3"/><circle cx="247.7" cy="278.6" r="2.3"/><circle cx="237.1" cy="298.3" r="2.3"/><circle cx="256.0" cy="282.3" r="2.3"/><circle cx="261.8" cy="307.0" r="2.3"/><circle cx="236.0" cy="287.9" r="2.3"/><circle cx="262.5" cy="310.3" r="2.3"/><circle cx="271.6" cy="296.5" r="2.3"/><circle cx="250.9" cy="294.0" r="2.3"/><circle cx="261.8" cy="307.2" r="2.3"/><circle cx="214.8" cy="275.2" r="2.3"/><circle cx="221.2" cy="313.8" r="2.3"/><circle cx="221.1" cy="312.0" r="2.3"/><circle cx="208.6" cy="287.3" r="2.3"/><circle cx="210.9" cy="307.9" r="2.3"/><circle cx="219.0" cy="302.6" r="2.3"/><circle cx="216.0" cy="310.9" r="2.3"/><circle cx="212.0" cy="284.0" r="2.3"/><circle cx="226.8" cy="306.3" r="2.3"/><circle cx="216.9" cy="284.2" r="2.3"/><circle cx="223.9" cy="305.0" r="2.3"/><circle cx="215.5" cy="272.7" r="2.3"/><circle cx="222.6" cy="292.4" r="2.3"/><circle cx="228.9" cy="313.8" r="2.3"/><circle cx="215.1" cy="299.6" r="2.3"/><circle cx="224.4" cy="291.7" r="2.3"/><circle cx="212.5" cy="274.3" r="2.3"/><circle cx="227.5" cy="292.5" r="2.3"/><circle cx="242.4" cy="306.2" r="2.3"/><circle cx="239.4" cy="299.3" r="2.3"/><circle cx="243.7" cy="310.8" r="2.3"/><circle cx="218.3" cy="286.8" r="2.3"/><circle cx="228.0" cy="298.3" r="2.3"/><circle cx="232.6" cy="305.3" r="2.3"/><circle cx="225.9" cy="314.9" r="2.3"/><circle cx="243.0" cy="303.7" r="2.3"/><circle cx="211.1" cy="280.5" r="2.3"/><circle cx="219.0" cy="276.8" r="2.3"/><circle cx="214.2" cy="310.5" r="2.3"/><circle cx="224.7" cy="292.4" r="2.3"/><circle cx="212.3" cy="305.2" r="2.3"/><circle cx="212.2" cy="306.9" r="2.3"/><circle cx="232.5" cy="306.6" r="2.3"/><circle cx="227.7" cy="291.2" r="2.3"/><circle cx="226.0" cy="292.7" r="2.3"/><circle cx="244.8" cy="314.2" r="2.3"/><circle cx="249.2" cy="306.2" r="2.3"/><circle cx="207.0" cy="281.0" r="2.3"/><circle cx="232.2" cy="291.1" r="2.3"/><circle cx="215.5" cy="280.4" r="2.3"/><circle cx="219.7" cy="282.8" r="2.3"/><circle cx="216.0" cy="289.6" r="2.3"/><circle cx="235.9" cy="298.5" r="2.3"/><circle cx="227.9" cy="312.1" r="2.3"/><circle cx="212.5" cy="290.6" r="2.3"/><circle cx="239.9" cy="310.5" r="2.3"/><circle cx="207.6" cy="304.0" r="2.3"/><circle cx="209.2" cy="303.8" r="2.3"/><circle cx="209.3" cy="293.3" r="2.3"/><circle cx="217.0" cy="301.7" r="2.3"/><circle cx="227.0" cy="298.5" r="2.3"/><circle cx="210.6" cy="305.1" r="2.3"/><circle cx="205.6" cy="300.4" r="2.3"/><circle cx="210.3" cy="284.1" r="2.3"/><circle cx="215.1" cy="313.3" r="2.3"/><circle cx="241.0" cy="296.7" r="2.3"/><circle cx="220.0" cy="311.8" r="2.3"/><circle cx="226.1" cy="295.6" r="2.3"/><circle cx="227.7" cy="307.1" r="2.3"/><circle cx="224.5" cy="285.7" r="2.3"/><circle cx="231.7" cy="294.5" r="2.3"/><circle cx="232.4" cy="304.1" r="2.3"/><circle cx="209.0" cy="298.6" r="2.3"/><circle cx="205.8" cy="287.2" r="2.3"/><circle cx="227.4" cy="309.2" r="2.3"/><circle cx="219.4" cy="283.4" r="2.3"/><circle cx="239.7" cy="305.9" r="2.3"/><circle cx="236.3" cy="314.0" r="2.3"/><circle cx="226.1" cy="300.6" r="2.3"/><circle cx="233.5" cy="300.1" r="2.3"/><circle cx="211.3" cy="285.3" r="2.3"/><circle cx="218.8" cy="279.9" r="2.3"/><circle cx="219.7" cy="290.8" r="2.3"/><circle cx="243.4" cy="309.9" r="2.3"/><circle cx="239.8" cy="312.0" r="2.3"/><circle cx="249.5" cy="313.9" r="2.3"/><circle cx="239.5" cy="298.6" r="2.3"/><circle cx="213.7" cy="297.5" r="2.3"/><circle cx="228.9" cy="296.6" r="2.3"/><circle cx="211.0" cy="291.8" r="2.3"/><circle cx="223.3" cy="295.7" r="2.3"/><circle cx="216.0" cy="272.1" r="2.3"/><circle cx="220.4" cy="286.3" r="2.3"/><circle cx="241.0" cy="302.6" r="2.3"/><circle cx="210.4" cy="313.1" r="2.3"/><circle cx="214.8" cy="295.5" r="2.3"/><circle cx="241.3" cy="302.7" r="2.3"/><circle cx="212.4" cy="292.0" r="2.3"/><circle cx="247.7" cy="304.4" r="2.3"/><circle cx="231.7" cy="296.5" r="2.3"/><circle cx="206.8" cy="295.3" r="2.3"/><circle cx="208.2" cy="274.0" r="2.3"/><circle cx="210.4" cy="301.6" r="2.3"/><circle cx="239.1" cy="314.1" r="2.3"/><circle cx="223.0" cy="309.4" r="2.3"/><circle cx="227.6" cy="314.3" r="2.3"/><circle cx="212.4" cy="305.1" r="2.3"/><circle cx="209.1" cy="311.0" r="2.3"/><circle cx="214.4" cy="292.0" r="2.3"/><circle cx="211.7" cy="278.6" r="2.3"/><circle cx="224.9" cy="303.8" r="2.3"/><circle cx="216.6" cy="277.8" r="2.3"/><circle cx="207.4" cy="282.1" r="2.3"/><circle cx="209.8" cy="273.1" r="2.3"/><circle cx="224.5" cy="288.5" r="2.3"/><circle cx="246.0" cy="310.5" r="2.3"/><circle cx="208.2" cy="284.2" r="2.3"/><circle cx="218.3" cy="293.0" r="2.3"/><circle cx="214.0" cy="295.6" r="2.3"/><circle cx="218.5" cy="289.0" r="2.3"/><circle cx="219.4" cy="302.8" r="2.3"/><circle cx="235.6" cy="311.2" r="2.3"/><circle cx="216.0" cy="309.9" r="2.3"/><circle cx="229.3" cy="292.6" r="2.3"/><circle cx="239.2" cy="298.4" r="2.3"/><circle cx="231.6" cy="311.4" r="2.3"/><circle cx="246.1" cy="307.2" r="2.3"/><circle cx="217.5" cy="287.7" r="2.3"/><circle cx="214.4" cy="294.5" r="2.3"/><circle cx="239.0" cy="310.7" r="2.3"/><circle cx="236.5" cy="310.3" r="2.3"/><circle cx="227.7" cy="286.2" r="2.3"/><circle cx="237.7" cy="313.1" r="2.3"/><circle cx="214.2" cy="272.4" r="2.3"/><circle cx="223.7" cy="296.2" r="2.3"/><circle cx="222.9" cy="284.1" r="2.3"/><circle cx="224.2" cy="289.7" r="2.3"/><circle cx="229.6" cy="306.6" r="2.3"/><circle cx="216.6" cy="282.1" r="2.3"/><circle cx="217.9" cy="280.1" r="2.3"/><circle cx="227.7" cy="301.1" r="2.3"/><circle cx="222.6" cy="279.6" r="2.3"/><circle cx="236.9" cy="307.4" r="2.3"/><circle cx="212.6" cy="289.8" r="2.3"/><circle cx="215.2" cy="300.1" r="2.3"/><circle cx="210.1" cy="308.1" r="2.3"/><circle cx="239.1" cy="305.1" r="2.3"/><circle cx="245.3" cy="300.4" r="2.3"/><circle cx="245.4" cy="301.6" r="2.3"/><circle cx="217.9" cy="297.5" r="2.3"/><circle cx="205.8" cy="295.7" r="2.3"/><circle cx="223.2" cy="314.4" r="2.3"/><circle cx="205.2" cy="272.4" r="2.3"/><circle cx="216.0" cy="303.8" r="2.3"/><circle cx="206.4" cy="310.6" r="2.3"/><circle cx="229.1" cy="304.1" r="2.3"/><circle cx="247.2" cy="309.4" r="2.3"/><circle cx="245.3" cy="314.0" r="2.3"/><circle cx="243.7" cy="308.1" r="2.3"/><circle cx="230.7" cy="303.2" r="2.3"/><circle cx="224.1" cy="306.5" r="2.3"/><circle cx="222.8" cy="310.5" r="2.3"/><circle cx="221.0" cy="283.7" r="2.3"/><circle cx="220.2" cy="310.1" r="2.3"/><circle cx="217.0" cy="284.7" r="2.3"/><circle cx="247.4" cy="309.3" r="2.3"/><circle cx="211.6" cy="293.1" r="2.3"/><circle cx="213.4" cy="271.9" r="2.3"/><circle cx="213.5" cy="311.6" r="2.3"/><circle cx="226.6" cy="314.2" r="2.3"/><circle cx="228.0" cy="296.7" r="2.3"/><circle cx="232.9" cy="304.4" r="2.3"/><circle cx="219.6" cy="293.2" r="2.3"/><circle cx="223.9" cy="286.4" r="2.3"/><circle cx="229.1" cy="300.7" r="2.3"/><circle cx="214.8" cy="300.1" r="2.3"/><circle cx="205.8" cy="310.8" r="2.3"/><circle cx="207.8" cy="296.2" r="2.3"/><circle cx="232.9" cy="289.3" r="2.3"/><circle cx="205.8" cy="298.0" r="2.3"/><circle cx="217.6" cy="287.5" r="2.3"/><circle cx="208.3" cy="291.0" r="2.3"/><circle cx="223.0" cy="293.2" r="2.3"/><circle cx="224.3" cy="310.4" r="2.3"/><circle cx="233.5" cy="309.8" r="2.3"/><circle cx="207.4" cy="276.1" r="2.3"/><circle cx="236.7" cy="302.7" r="2.3"/><circle cx="247.6" cy="304.0" r="2.3"/><circle cx="232.5" cy="298.2" r="2.3"/><circle cx="219.2" cy="281.3" r="2.3"/><circle cx="234.4" cy="300.3" r="2.3"/><circle cx="206.6" cy="294.6" r="2.3"/><circle cx="227.8" cy="286.9" r="2.3"/><circle cx="250.0" cy="314.4" r="2.3"/><circle cx="220.4" cy="276.1" r="2.3"/><circle cx="208.0" cy="280.0" r="2.3"/><circle cx="206.7" cy="286.3" r="2.3"/><circle cx="243.1" cy="304.4" r="2.3"/><circle cx="223.2" cy="304.9" r="2.3"/><circle cx="233.9" cy="300.5" r="2.3"/><circle cx="216.9" cy="292.1" r="2.3"/><circle cx="223.5" cy="299.6" r="2.3"/><circle cx="243.2" cy="307.2" r="2.3"/><circle cx="249.5" cy="314.1" r="2.3"/><circle cx="218.0" cy="293.1" r="2.3"/><circle cx="249.5" cy="307.7" r="2.3"/><circle cx="208.2" cy="300.4" r="2.3"/><circle cx="212.6" cy="309.0" r="2.3"/><circle cx="219.6" cy="283.9" r="2.3"/><circle cx="232.7" cy="309.6" r="2.3"/><circle cx="212.0" cy="278.6" r="2.3"/><circle cx="244.0" cy="305.4" r="2.3"/><circle cx="216.0" cy="314.9" r="2.3"/><circle cx="209.8" cy="281.0" r="2.3"/><circle cx="220.7" cy="278.0" r="2.3"/><circle cx="218.3" cy="303.8" r="2.3"/><circle cx="230.9" cy="309.0" r="2.3"/><circle cx="216.7" cy="284.1" r="2.3"/><circle cx="237.1" cy="309.6" r="2.3"/><circle cx="219.7" cy="310.6" r="2.3"/><circle cx="218.5" cy="280.8" r="2.3"/><circle cx="212.8" cy="310.2" r="2.3"/><circle cx="212.9" cy="311.7" r="2.3"/><circle cx="240.8" cy="310.9" r="2.3"/><circle cx="236.8" cy="311.3" r="2.3"/><circle cx="216.9" cy="285.6" r="2.3"/><circle cx="226.5" cy="313.6" r="2.3"/><circle cx="221.3" cy="304.3" r="2.3"/><circle cx="238.3" cy="309.3" r="2.3"/><circle cx="223.4" cy="302.0" r="2.3"/><circle cx="218.6" cy="282.2" r="2.3"/><circle cx="215.3" cy="300.6" r="2.3"/><circle cx="218.6" cy="276.7" r="2.3"/><circle cx="235.4" cy="293.7" r="2.3"/><circle cx="217.3" cy="303.5" r="2.3"/><circle cx="210.1" cy="292.7" r="2.3"/><circle cx="241.6" cy="308.0" r="2.3"/><circle cx="228.0" cy="298.0" r="2.3"/><circle cx="223.0" cy="309.5" r="2.3"/><circle cx="219.8" cy="292.2" r="2.3"/><circle cx="218.8" cy="295.2" r="2.3"/><circle cx="211.8" cy="274.2" r="2.3"/><circle cx="206.4" cy="277.4" r="2.3"/><circle cx="244.0" cy="298.4" r="2.3"/><circle cx="244.4" cy="305.5" r="2.3"/><circle cx="224.7" cy="306.3" r="2.3"/><circle cx="209.4" cy="271.6" r="2.3"/><circle cx="215.7" cy="298.3" r="2.3"/><circle cx="224.8" cy="289.4" r="2.3"/><circle cx="235.2" cy="298.8" r="2.3"/><circle cx="210.3" cy="311.9" r="2.3"/><circle cx="229.8" cy="289.1" r="2.3"/><circle cx="224.8" cy="299.4" r="2.3"/><circle cx="225.0" cy="307.4" r="2.3"/><circle cx="230.9" cy="296.1" r="2.3"/><circle cx="217.0" cy="301.0" r="2.3"/><circle cx="228.6" cy="295.2" r="2.3"/><circle cx="215.0" cy="312.6" r="2.3"/><circle cx="212.7" cy="299.7" r="2.3"/><circle cx="216.4" cy="280.4" r="2.3"/><circle cx="226.1" cy="291.2" r="2.3"/><circle cx="230.4" cy="313.1" r="2.3"/><circle cx="208.3" cy="285.4" r="2.3"/><circle cx="237.8" cy="298.1" r="2.3"/><circle cx="219.5" cy="312.0" r="2.3"/><circle cx="215.8" cy="313.0" r="2.3"/><circle cx="228.3" cy="313.5" r="2.3"/><circle cx="218.4" cy="295.2" r="2.3"/><circle cx="216.2" cy="306.7" r="2.3"/><circle cx="213.8" cy="278.8" r="2.3"/><circle cx="226.7" cy="283.3" r="2.3"/><circle cx="221.6" cy="279.2" r="2.3"/><circle cx="223.8" cy="290.1" r="2.3"/><circle cx="214.2" cy="271.8" r="2.3"/><circle cx="235.4" cy="310.5" r="2.3"/><circle cx="221.0" cy="304.8" r="2.3"/><circle cx="245.1" cy="314.4" r="2.3"/><circle cx="219.5" cy="304.7" r="2.3"/><circle cx="238.5" cy="301.7" r="2.3"/><circle cx="239.4" cy="299.5" r="2.3"/><circle cx="205.7" cy="276.1" r="2.3"/><circle cx="206.6" cy="290.8" r="2.3"/><circle cx="223.6" cy="280.9" r="2.3"/><circle cx="220.1" cy="305.7" r="2.3"/><circle cx="206.9" cy="280.8" r="2.3"/><circle cx="215.5" cy="294.1" r="2.3"/><circle cx="205.2" cy="303.5" r="2.3"/><circle cx="235.3" cy="295.3" r="2.3"/><circle cx="215.0" cy="291.3" r="2.3"/><circle cx="214.6" cy="301.2" r="2.3"/><circle cx="221.4" cy="310.7" r="2.3"/><circle cx="221.7" cy="282.7" r="2.3"/><circle cx="232.5" cy="307.3" r="2.3"/><circle cx="239.8" cy="309.8" r="2.3"/><circle cx="240.7" cy="308.4" r="2.3"/><circle cx="209.8" cy="303.8" r="2.3"/><circle cx="229.6" cy="303.0" r="2.3"/><circle cx="218.6" cy="281.7" r="2.3"/><circle cx="250.5" cy="314.4" r="2.3"/><circle cx="220.8" cy="300.8" r="2.3"/><circle cx="214.6" cy="295.9" r="2.3"/><circle cx="247.7" cy="313.9" r="2.3"/><circle cx="244.8" cy="301.3" r="2.3"/><circle cx="205.8" cy="275.1" r="2.3"/><circle cx="218.1" cy="305.6" r="2.3"/><circle cx="210.7" cy="298.7" r="2.3"/><circle cx="210.9" cy="307.0" r="2.3"/><circle cx="217.0" cy="289.3" r="2.3"/><circle cx="226.3" cy="301.5" r="2.3"/><circle cx="239.5" cy="299.8" r="2.3"/><circle cx="231.8" cy="293.9" r="2.3"/><circle cx="220.8" cy="309.0" r="2.3"/><circle cx="209.9" cy="274.0" r="2.3"/><circle cx="247.2" cy="313.5" r="2.3"/><circle cx="238.4" cy="304.4" r="2.3"/><circle cx="221.8" cy="292.9" r="2.3"/><circle cx="236.7" cy="306.5" r="2.3"/><circle cx="234.9" cy="296.1" r="2.3"/><circle cx="251.7" cy="306.7" r="2.3"/><circle cx="238.9" cy="313.2" r="2.3"/><circle cx="218.2" cy="309.8" r="2.3"/><circle cx="212.2" cy="291.6" r="2.3"/><circle cx="213.5" cy="279.8" r="2.3"/><circle cx="209.8" cy="287.4" r="2.3"/><circle cx="246.0" cy="309.4" r="2.3"/><circle cx="215.5" cy="281.1" r="2.3"/><circle cx="221.2" cy="297.3" r="2.3"/><circle cx="214.7" cy="290.8" r="2.3"/><circle cx="249.7" cy="309.8" r="2.3"/><circle cx="209.9" cy="272.5" r="2.3"/><circle cx="210.0" cy="280.3" r="2.3"/><circle cx="239.4" cy="300.9" r="2.3"/><circle cx="237.6" cy="296.8" r="2.3"/><circle cx="240.7" cy="313.1" r="2.3"/><circle cx="243.6" cy="301.6" r="2.3"/><circle cx="231.0" cy="313.9" r="2.3"/><circle cx="228.4" cy="311.5" r="2.3"/><circle cx="209.1" cy="283.8" r="2.3"/><circle cx="205.9" cy="274.0" r="2.3"/><circle cx="226.0" cy="288.6" r="2.3"/><circle cx="243.7" cy="302.8" r="2.3"/><circle cx="206.6" cy="274.1" r="2.3"/><circle cx="218.0" cy="313.2" r="2.3"/><circle cx="211.7" cy="270.9" r="2.3"/><circle cx="240.2" cy="305.7" r="2.3"/><circle cx="212.1" cy="275.2" r="2.3"/><circle cx="211.4" cy="296.7" r="2.3"/><circle cx="250.0" cy="314.8" r="2.3"/><circle cx="225.0" cy="312.5" r="2.3"/><circle cx="252.4" cy="310.4" r="2.3"/><circle cx="239.8" cy="313.1" r="2.3"/><circle cx="238.1" cy="293.1" r="2.3"/><circle cx="228.4" cy="308.5" r="2.3"/><circle cx="211.4" cy="276.2" r="2.3"/><circle cx="225.1" cy="303.2" r="2.3"/><circle cx="216.5" cy="294.6" r="2.3"/><circle cx="215.4" cy="314.2" r="2.3"/><circle cx="220.8" cy="301.1" r="2.3"/><circle cx="211.1" cy="296.5" r="2.3"/><circle cx="206.8" cy="274.2" r="2.3"/><circle cx="241.1" cy="301.6" r="2.3"/><circle cx="239.7" cy="305.8" r="2.3"/><circle cx="231.5" cy="288.6" r="2.3"/><circle cx="241.9" cy="307.5" r="2.3"/><circle cx="221.5" cy="278.5" r="2.3"/><circle cx="210.8" cy="305.7" r="2.3"/><circle cx="210.2" cy="282.9" r="2.3"/><circle cx="233.1" cy="293.1" r="2.3"/><circle cx="211.3" cy="296.1" r="2.3"/><circle cx="225.1" cy="295.8" r="2.3"/><circle cx="231.7" cy="298.9" r="2.3"/><circle cx="223.7" cy="296.1" r="2.3"/><circle cx="209.5" cy="314.2" r="2.3"/><circle cx="239.3" cy="297.5" r="2.3"/><circle cx="226.4" cy="288.7" r="2.3"/><circle cx="222.6" cy="304.4" r="2.3"/><circle cx="205.9" cy="276.3" r="2.3"/><circle cx="227.2" cy="300.6" r="2.3"/><circle cx="208.0" cy="275.4" r="2.3"/><circle cx="244.8" cy="304.3" r="2.3"/><circle cx="217.3" cy="284.0" r="2.3"/><circle cx="223.5" cy="304.6" r="2.3"/><circle cx="245.8" cy="309.9" r="2.3"/><circle cx="239.0" cy="294.6" r="2.3"/><circle cx="212.1" cy="312.3" r="2.3"/><circle cx="239.8" cy="311.9" r="2.3"/><circle cx="209.9" cy="288.9" r="2.3"/><circle cx="225.1" cy="303.9" r="2.3"/><circle cx="211.0" cy="304.8" r="2.3"/><circle cx="221.4" cy="289.6" r="2.3"/><circle cx="220.6" cy="295.5" r="2.3"/><circle cx="243.7" cy="306.9" r="2.3"/><circle cx="239.3" cy="300.3" r="2.3"/><circle cx="220.7" cy="288.1" r="2.3"/><circle cx="210.4" cy="296.8" r="2.3"/><circle cx="221.4" cy="313.5" r="2.3"/><circle cx="211.1" cy="290.1" r="2.3"/><circle cx="213.3" cy="301.4" r="2.3"/><circle cx="229.6" cy="303.7" r="2.3"/><circle cx="232.9" cy="302.8" r="2.3"/><circle cx="242.2" cy="308.1" r="2.3"/><circle cx="217.6" cy="295.5" r="2.3"/><circle cx="248.2" cy="307.6" r="2.3"/><circle cx="214.3" cy="309.1" r="2.3"/><circle cx="215.3" cy="300.3" r="2.3"/><circle cx="223.9" cy="281.3" r="2.3"/><circle cx="224.3" cy="293.9" r="2.3"/><circle cx="224.0" cy="280.7" r="2.3"/><circle cx="248.8" cy="303.9" r="2.3"/><circle cx="237.5" cy="298.1" r="2.3"/><circle cx="218.0" cy="309.0" r="2.3"/><circle cx="238.3" cy="294.6" r="2.3"/><circle cx="230.1" cy="305.8" r="2.3"/><circle cx="213.6" cy="300.1" r="2.3"/><circle cx="205.3" cy="283.5" r="2.3"/><circle cx="225.7" cy="311.9" r="2.3"/><circle cx="217.5" cy="305.6" r="2.3"/><circle cx="220.7" cy="304.0" r="2.3"/><circle cx="219.0" cy="302.6" r="2.3"/><circle cx="221.6" cy="279.9" r="2.3"/><circle cx="210.6" cy="313.0" r="2.3"/><circle cx="213.0" cy="303.5" r="2.3"/><circle cx="232.9" cy="295.9" r="2.3"/><circle cx="240.9" cy="299.8" r="2.3"/><circle cx="207.4" cy="271.5" r="2.3"/><circle cx="217.3" cy="277.4" r="2.3"/><circle cx="210.7" cy="286.0" r="2.3"/><circle cx="219.3" cy="310.5" r="2.3"/><circle cx="214.6" cy="279.3" r="2.3"/><circle cx="237.5" cy="302.5" r="2.3"/><circle cx="218.1" cy="311.1" r="2.3"/><circle cx="251.8" cy="313.1" r="2.3"/><circle cx="234.2" cy="299.5" r="2.3"/><circle cx="214.0" cy="295.7" r="2.3"/><circle cx="249.3" cy="304.0" r="2.3"/><circle cx="213.0" cy="287.1" r="2.3"/><circle cx="236.3" cy="292.4" r="2.3"/><circle cx="213.7" cy="276.2" r="2.3"/><circle cx="210.4" cy="307.3" r="2.3"/><circle cx="216.6" cy="292.2" r="2.3"/><circle cx="227.7" cy="290.4" r="2.3"/><circle cx="227.4" cy="313.1" r="2.3"/><circle cx="244.5" cy="314.2" r="2.3"/><circle cx="220.3" cy="308.6" r="2.3"/><circle cx="211.3" cy="301.9" r="2.3"/><circle cx="210.3" cy="284.6" r="2.3"/><circle cx="212.6" cy="285.8" r="2.3"/><circle cx="220.3" cy="309.0" r="2.3"/><circle cx="213.0" cy="297.1" r="2.3"/><circle cx="211.2" cy="297.9" r="2.3"/><circle cx="231.3" cy="290.5" r="2.3"/><circle cx="209.4" cy="300.4" r="2.3"/><circle cx="232.3" cy="309.8" r="2.3"/><circle cx="217.3" cy="310.7" r="2.3"/><circle cx="224.5" cy="291.1" r="2.3"/><circle cx="210.0" cy="283.7" r="2.3"/><circle cx="212.1" cy="281.2" r="2.3"/><circle cx="238.0" cy="298.5" r="2.3"/><circle cx="221.5" cy="308.2" r="2.3"/><circle cx="243.6" cy="299.9" r="2.3"/><circle cx="220.4" cy="292.2" r="2.3"/><circle cx="221.9" cy="284.3" r="2.3"/><circle cx="222.4" cy="302.8" r="2.3"/><circle cx="219.6" cy="311.2" r="2.3"/><circle cx="214.4" cy="272.3" r="2.3"/><circle cx="207.1" cy="279.1" r="2.3"/><circle cx="230.2" cy="290.4" r="2.3"/><circle cx="230.7" cy="296.8" r="2.3"/><circle cx="231.6" cy="311.0" r="2.3"/><circle cx="248.7" cy="310.4" r="2.3"/><circle cx="211.8" cy="285.2" r="2.3"/><circle cx="207.7" cy="314.5" r="2.3"/><circle cx="216.4" cy="280.5" r="2.3"/><circle cx="212.4" cy="291.4" r="2.3"/><circle cx="241.7" cy="308.0" r="2.3"/><circle cx="240.6" cy="297.3" r="2.3"/><circle cx="227.9" cy="302.7" r="2.3"/><circle cx="237.4" cy="301.5" r="2.3"/><circle cx="243.0" cy="298.9" r="2.3"/><circle cx="226.5" cy="290.0" r="2.3"/><circle cx="250.6" cy="314.7" r="2.3"/><circle cx="212.2" cy="300.0" r="2.3"/><circle cx="235.9" cy="313.0" r="2.3"/><circle cx="211.0" cy="311.6" r="2.3"/><circle cx="232.2" cy="300.7" r="2.3"/><circle cx="217.6" cy="295.1" r="2.3"/><circle cx="208.9" cy="274.7" r="2.3"/><circle cx="226.2" cy="301.3" r="2.3"/><circle cx="233.7" cy="299.6" r="2.3"/><circle cx="208.8" cy="309.5" r="2.3"/><circle cx="221.6" cy="309.4" r="2.3"/><circle cx="215.7" cy="305.1" r="2.3"/><circle cx="206.3" cy="302.9" r="2.3"/><circle cx="207.9" cy="291.6" r="2.3"/><circle cx="219.4" cy="285.1" r="2.3"/><circle cx="231.8" cy="288.5" r="2.3"/><circle cx="219.4" cy="282.4" r="2.3"/><circle cx="227.5" cy="294.4" r="2.3"/><circle cx="218.7" cy="313.2" r="2.3"/><circle cx="227.3" cy="287.7" r="2.3"/><circle cx="214.0" cy="276.9" r="2.3"/><circle cx="213.5" cy="303.0" r="2.3"/><circle cx="210.5" cy="314.7" r="2.3"/><circle cx="221.9" cy="299.5" r="2.3"/><circle cx="233.5" cy="310.0" r="2.3"/><circle cx="245.1" cy="300.0" r="2.3"/><circle cx="219.7" cy="307.2" r="2.3"/><circle cx="244.3" cy="312.2" r="2.3"/><circle cx="210.1" cy="298.4" r="2.3"/><circle cx="206.4" cy="273.1" r="2.3"/><circle cx="217.7" cy="290.1" r="2.3"/><circle cx="222.3" cy="289.4" r="2.3"/><circle cx="246.7" cy="303.6" r="2.3"/><circle cx="244.0" cy="314.2" r="2.3"/><circle cx="217.3" cy="298.7" r="2.3"/><circle cx="232.7" cy="304.5" r="2.3"/><circle cx="209.7" cy="274.2" r="2.3"/><circle cx="208.6" cy="284.1" r="2.3"/><circle cx="221.7" cy="308.6" r="2.3"/><circle cx="208.9" cy="270.8" r="2.3"/><circle cx="218.2" cy="292.0" r="2.3"/><circle cx="224.6" cy="290.2" r="2.3"/><circle cx="245.4" cy="306.2" r="2.3"/><circle cx="245.8" cy="313.9" r="2.3"/><circle cx="230.6" cy="289.5" r="2.3"/><circle cx="212.1" cy="274.1" r="2.3"/><circle cx="226.0" cy="306.8" r="2.3"/><circle cx="224.7" cy="288.8" r="2.3"/><circle cx="225.5" cy="314.8" r="2.3"/><circle cx="209.6" cy="283.4" r="2.3"/><circle cx="211.5" cy="303.7" r="2.3"/><circle cx="246.9" cy="307.2" r="2.3"/><circle cx="205.4" cy="281.6" r="2.3"/><circle cx="233.5" cy="298.8" r="2.3"/><circle cx="206.1" cy="295.9" r="2.3"/><circle cx="216.4" cy="288.9" r="2.3"/><circle cx="251.6" cy="305.7" r="2.3"/><circle cx="208.8" cy="284.2" r="2.3"/><circle cx="210.3" cy="305.1" r="2.3"/><circle cx="220.5" cy="301.0" r="2.3"/><circle cx="227.7" cy="307.8" r="2.3"/><circle cx="224.2" cy="283.9" r="2.3"/><circle cx="220.5" cy="279.7" r="2.3"/><circle cx="213.9" cy="310.5" r="2.3"/><circle cx="234.9" cy="294.9" r="2.3"/><circle cx="248.6" cy="310.3" r="2.3"/><circle cx="222.7" cy="309.3" r="2.3"/><circle cx="227.6" cy="294.0" r="2.3"/><circle cx="225.2" cy="306.7" r="2.3"/><circle cx="227.1" cy="290.6" r="2.3"/><circle cx="231.6" cy="300.4" r="2.3"/><circle cx="215.7" cy="287.0" r="2.3"/><circle cx="240.2" cy="304.0" r="2.3"/><circle cx="225.9" cy="286.1" r="2.3"/><circle cx="246.2" cy="306.0" r="2.3"/><circle cx="208.3" cy="301.4" r="2.3"/><circle cx="236.9" cy="314.9" r="2.3"/><circle cx="208.6" cy="313.4" r="2.3"/><circle cx="225.6" cy="313.8" r="2.3"/><circle cx="230.1" cy="287.0" r="2.3"/><circle cx="214.8" cy="277.0" r="2.3"/><circle cx="222.1" cy="287.5" r="2.3"/><circle cx="230.9" cy="303.3" r="2.3"/><circle cx="242.1" cy="314.8" r="2.3"/><circle cx="217.0" cy="300.8" r="2.3"/><circle cx="206.9" cy="301.7" r="2.3"/><circle cx="210.4" cy="280.4" r="2.3"/><circle cx="223.7" cy="291.8" r="2.3"/><circle cx="225.1" cy="295.5" r="2.3"/><circle cx="238.3" cy="308.7" r="2.3"/><circle cx="206.9" cy="278.2" r="2.3"/><circle cx="220.0" cy="303.1" r="2.3"/><circle cx="206.1" cy="299.9" r="2.3"/><circle cx="221.7" cy="312.0" r="2.3"/><circle cx="243.8" cy="314.8" r="2.3"/><circle cx="225.0" cy="310.0" r="2.3"/><circle cx="210.9" cy="314.4" r="2.3"/><circle cx="209.6" cy="277.7" r="2.3"/><circle cx="216.3" cy="277.0" r="2.3"/><circle cx="210.9" cy="300.6" r="2.3"/><circle cx="205.3" cy="271.4" r="2.3"/><circle cx="224.8" cy="280.8" r="2.3"/><circle cx="209.1" cy="281.7" r="2.3"/><circle cx="215.9" cy="300.6" r="2.3"/><circle cx="208.1" cy="295.7" r="2.3"/><circle cx="211.3" cy="270.8" r="2.3"/><circle cx="228.7" cy="283.9" r="2.3"/><circle cx="221.1" cy="296.7" r="2.3"/><circle cx="232.3" cy="296.9" r="2.3"/><circle cx="232.0" cy="311.6" r="2.3"/><circle cx="209.8" cy="301.2" r="2.3"/><circle cx="211.0" cy="312.8" r="2.3"/><circle cx="234.3" cy="305.8" r="2.3"/><circle cx="234.5" cy="304.9" r="2.3"/><circle cx="231.9" cy="297.5" r="2.3"/><circle cx="217.9" cy="308.4" r="2.3"/><circle cx="249.3" cy="307.3" r="2.3"/><circle cx="217.7" cy="292.4" r="2.3"/><circle cx="208.0" cy="301.6" r="2.3"/><circle cx="230.8" cy="293.6" r="2.3"/><circle cx="242.4" cy="298.7" r="2.3"/><circle cx="205.2" cy="271.5" r="2.3"/><circle cx="242.7" cy="309.4" r="2.3"/><circle cx="210.5" cy="305.1" r="2.3"/><circle cx="236.3" cy="309.2" r="2.3"/><circle cx="206.2" cy="293.1" r="2.3"/><circle cx="205.5" cy="303.5" r="2.3"/><circle cx="223.3" cy="305.9" r="2.3"/><circle cx="205.3" cy="303.5" r="2.3"/><circle cx="216.7" cy="300.6" r="2.3"/><circle cx="224.8" cy="299.0" r="2.3"/><circle cx="220.5" cy="314.1" r="2.3"/><circle cx="228.5" cy="314.8" r="2.3"/><circle cx="216.2" cy="275.1" r="2.3"/><circle cx="226.8" cy="305.9" r="2.3"/><circle cx="211.0" cy="292.8" r="2.3"/><circle cx="231.8" cy="309.8" r="2.3"/><circle cx="220.3" cy="287.6" r="2.3"/><circle cx="234.6" cy="298.2" r="2.3"/><circle cx="208.5" cy="314.3" r="2.3"/><circle cx="248.0" cy="311.6" r="2.3"/><circle cx="241.6" cy="307.4" r="2.3"/><circle cx="221.6" cy="306.1" r="2.3"/><circle cx="216.3" cy="298.1" r="2.3"/><circle cx="209.9" cy="279.7" r="2.3"/><circle cx="213.9" cy="309.0" r="2.3"/><circle cx="218.4" cy="286.6" r="2.3"/><circle cx="235.4" cy="291.7" r="2.3"/><circle cx="215.1" cy="291.3" r="2.3"/><circle cx="213.2" cy="304.3" r="2.3"/><circle cx="212.2" cy="311.6" r="2.3"/><circle cx="236.2" cy="311.1" r="2.3"/><circle cx="215.6" cy="288.8" r="2.3"/><circle cx="230.3" cy="313.8" r="2.3"/><circle cx="209.7" cy="289.9" r="2.3"/><circle cx="233.7" cy="311.4" r="2.3"/><circle cx="241.8" cy="304.3" r="2.3"/><circle cx="233.1" cy="291.5" r="2.3"/><circle cx="223.9" cy="296.2" r="2.3"/><circle cx="215.4" cy="289.8" r="2.3"/><circle cx="226.0" cy="304.7" r="2.3"/><circle cx="242.2" cy="305.2" r="2.3"/><circle cx="225.4" cy="283.7" r="2.3"/><circle cx="217.7" cy="285.3" r="2.3"/><circle cx="226.4" cy="299.1" r="2.3"/><circle cx="206.4" cy="294.1" r="2.3"/><circle cx="230.4" cy="301.3" r="2.3"/><circle cx="210.2" cy="293.5" r="2.3"/><circle cx="208.5" cy="307.4" r="2.3"/><circle cx="226.2" cy="299.5" r="2.3"/><circle cx="228.9" cy="291.5" r="2.3"/><circle cx="223.6" cy="309.1" r="2.3"/><circle cx="206.1" cy="290.2" r="2.3"/><circle cx="221.8" cy="300.8" r="2.3"/><circle cx="242.9" cy="314.7" r="2.3"/><circle cx="211.5" cy="305.8" r="2.3"/><circle cx="222.7" cy="297.3" r="2.3"/><circle cx="226.0" cy="289.5" r="2.3"/><circle cx="221.0" cy="313.4" r="2.3"/><circle cx="232.7" cy="312.0" r="2.3"/><circle cx="240.5" cy="298.4" r="2.3"/><circle cx="235.6" cy="302.4" r="2.3"/><circle cx="218.3" cy="275.4" r="2.3"/><circle cx="215.7" cy="303.0" r="2.3"/><circle cx="210.7" cy="305.7" r="2.3"/><circle cx="242.9" cy="311.6" r="2.3"/><circle cx="224.8" cy="280.3" r="2.3"/><circle cx="210.7" cy="275.5" r="2.3"/><circle cx="222.1" cy="278.9" r="2.3"/><circle cx="227.8" cy="303.6" r="2.3"/><circle cx="212.3" cy="293.0" r="2.3"/><circle cx="207.6" cy="307.7" r="2.3"/><circle cx="246.0" cy="308.3" r="2.3"/><circle cx="227.9" cy="294.2" r="2.3"/><circle cx="210.3" cy="303.3" r="2.3"/><circle cx="229.3" cy="288.0" r="2.3"/><circle cx="233.3" cy="312.7" r="2.3"/><circle cx="246.5" cy="307.7" r="2.3"/><circle cx="216.6" cy="308.9" r="2.3"/><circle cx="229.4" cy="289.2" r="2.3"/><circle cx="227.0" cy="294.1" r="2.3"/><circle cx="211.9" cy="283.2" r="2.3"/><circle cx="230.6" cy="301.3" r="2.3"/><circle cx="208.5" cy="297.8" r="2.3"/><circle cx="226.5" cy="303.6" r="2.3"/><circle cx="211.8" cy="292.6" r="2.3"/><circle cx="226.5" cy="310.3" r="2.3"/><circle cx="226.8" cy="292.0" r="2.3"/><circle cx="242.4" cy="306.7" r="2.3"/><circle cx="205.8" cy="287.9" r="2.3"/><circle cx="209.7" cy="281.7" r="2.3"/><circle cx="215.8" cy="276.1" r="2.3"/><circle cx="216.0" cy="312.9" r="2.3"/><circle cx="209.3" cy="311.6" r="2.3"/><circle cx="222.0" cy="283.2" r="2.3"/><circle cx="206.8" cy="292.1" r="2.3"/><circle cx="230.7" cy="310.6" r="2.3"/><circle cx="232.6" cy="295.2" r="2.3"/><circle cx="220.7" cy="278.2" r="2.3"/><circle cx="237.9" cy="309.6" r="2.3"/><circle cx="210.2" cy="312.7" r="2.3"/><circle cx="217.7" cy="286.8" r="2.3"/><circle cx="246.1" cy="309.5" r="2.3"/><circle cx="233.6" cy="309.7" r="2.3"/><circle cx="215.4" cy="309.2" r="2.3"/><circle cx="245.8" cy="314.5" r="2.3"/><circle cx="205.7" cy="271.9" r="2.3"/><circle cx="217.6" cy="303.3" r="2.3"/><circle cx="246.2" cy="310.0" r="2.3"/><circle cx="231.8" cy="288.0" r="2.3"/><circle cx="205.5" cy="288.1" r="2.3"/><circle cx="229.7" cy="309.9" r="2.3"/><circle cx="215.7" cy="286.0" r="2.3"/><circle cx="209.0" cy="310.2" r="2.3"/><circle cx="217.1" cy="279.7" r="2.3"/><circle cx="231.1" cy="299.2" r="2.3"/><circle cx="216.5" cy="289.9" r="2.3"/><circle cx="225.8" cy="289.4" r="2.3"/><circle cx="213.8" cy="289.2" r="2.3"/><circle cx="220.4" cy="294.0" r="2.3"/><circle cx="238.9" cy="314.1" r="2.3"/><circle cx="229.2" cy="301.1" r="2.3"/><circle cx="227.3" cy="287.1" r="2.3"/><circle cx="218.9" cy="303.6" r="2.3"/><circle cx="229.3" cy="291.4" r="2.3"/><circle cx="215.8" cy="281.1" r="2.3"/><circle cx="228.8" cy="299.2" r="2.3"/><circle cx="217.2" cy="277.9" r="2.3"/><circle cx="216.9" cy="311.8" r="2.3"/><circle cx="235.1" cy="313.9" r="2.3"/><circle cx="221.1" cy="295.4" r="2.3"/><circle cx="237.5" cy="307.9" r="2.3"/><circle cx="222.5" cy="280.1" r="2.3"/><circle cx="210.1" cy="305.3" r="2.3"/><circle cx="217.3" cy="313.6" r="2.3"/><circle cx="229.7" cy="302.5" r="2.3"/><circle cx="228.3" cy="314.9" r="2.3"/><circle cx="221.9" cy="306.2" r="2.3"/><circle cx="234.7" cy="292.4" r="2.3"/><circle cx="241.3" cy="311.1" r="2.3"/><circle cx="206.7" cy="283.9" r="2.3"/><circle cx="228.9" cy="313.4" r="2.3"/><circle cx="233.7" cy="313.0" r="2.3"/><circle cx="211.1" cy="274.9" r="2.3"/><circle cx="231.0" cy="307.7" r="2.3"/><circle cx="243.4" cy="311.1" r="2.3"/><circle cx="221.4" cy="308.6" r="2.3"/><circle cx="205.6" cy="312.2" r="2.3"/><circle cx="210.2" cy="289.5" r="2.3"/><circle cx="213.8" cy="300.3" r="2.3"/><circle cx="212.3" cy="294.4" r="2.3"/><circle cx="207.4" cy="285.9" r="2.3"/><circle cx="241.5" cy="311.6" r="2.3"/><circle cx="209.0" cy="283.8" r="2.3"/><circle cx="213.4" cy="271.4" r="2.3"/><circle cx="228.5" cy="300.5" r="2.3"/><circle cx="227.0" cy="302.8" r="2.3"/><circle cx="225.1" cy="283.3" r="2.3"/><circle cx="216.0" cy="308.0" r="2.3"/><circle cx="228.1" cy="285.8" r="2.3"/><circle cx="208.4" cy="302.9" r="2.3"/><circle cx="241.7" cy="301.4" r="2.3"/><circle cx="209.3" cy="293.4" r="2.3"/><circle cx="207.5" cy="283.8" r="2.3"/><circle cx="234.6" cy="293.6" r="2.3"/><circle cx="236.7" cy="291.9" r="2.3"/><circle cx="213.9" cy="284.2" r="2.3"/><circle cx="211.3" cy="301.2" r="2.3"/><circle cx="228.5" cy="298.0" r="2.3"/><circle cx="231.3" cy="314.0" r="2.3"/><circle cx="214.4" cy="301.6" r="2.3"/><circle cx="236.7" cy="306.2" r="2.3"/><circle cx="212.9" cy="307.8" r="2.3"/><circle cx="220.8" cy="309.9" r="2.3"/><circle cx="214.1" cy="286.9" r="2.3"/><circle cx="219.9" cy="309.9" r="2.3"/><circle cx="208.4" cy="298.6" r="2.3"/><circle cx="233.1" cy="297.0" r="2.3"/><circle cx="211.7" cy="312.8" r="2.3"/><circle cx="224.1" cy="301.0" r="2.3"/><circle cx="211.5" cy="313.4" r="2.3"/><circle cx="208.7" cy="303.0" r="2.3"/><circle cx="218.4" cy="291.0" r="2.3"/><circle cx="214.1" cy="293.1" r="2.3"/><circle cx="223.1" cy="299.3" r="2.3"/><circle cx="226.0" cy="300.0" r="2.3"/><circle cx="231.5" cy="309.2" r="2.3"/><circle cx="211.0" cy="297.9" r="2.3"/><circle cx="218.8" cy="305.3" r="2.3"/><circle cx="237.1" cy="296.6" r="2.3"/><circle cx="210.3" cy="310.2" r="2.3"/><circle cx="222.7" cy="309.2" r="2.3"/><circle cx="232.4" cy="304.5" r="2.3"/><circle cx="207.7" cy="313.3" r="2.3"/><circle cx="219.4" cy="302.5" r="2.3"/><circle cx="223.3" cy="309.5" r="2.3"/><circle cx="220.6" cy="292.4" r="2.3"/><circle cx="227.3" cy="300.5" r="2.3"/><circle cx="215.6" cy="308.9" r="2.3"/><circle cx="230.2" cy="309.7" r="2.3"/><circle cx="213.1" cy="308.4" r="2.3"/><circle cx="211.6" cy="296.7" r="2.3"/><circle cx="208.4" cy="275.7" r="2.3"/><circle cx="219.2" cy="302.9" r="2.3"/><circle cx="214.2" cy="300.5" r="2.3"/><circle cx="224.5" cy="307.2" r="2.3"/><circle cx="206.2" cy="299.2" r="2.3"/><circle cx="223.4" cy="306.4" r="2.3"/><circle cx="205.4" cy="304.4" r="2.3"/><circle cx="219.4" cy="300.2" r="2.3"/><circle cx="213.0" cy="302.2" r="2.3"/><circle cx="220.7" cy="306.1" r="2.3"/><circle cx="218.2" cy="305.8" r="2.3"/><circle cx="212.9" cy="307.5" r="2.3"/><circle cx="215.4" cy="294.5" r="2.3"/><circle cx="216.4" cy="313.3" r="2.3"/><circle cx="207.7" cy="298.6" r="2.3"/><circle cx="208.4" cy="304.0" r="2.3"/><circle cx="221.9" cy="306.0" r="2.3"/><circle cx="224.1" cy="296.2" r="2.3"/><circle cx="207.0" cy="291.5" r="2.3"/><circle cx="229.8" cy="301.8" r="2.3"/><circle cx="212.9" cy="294.5" r="2.3"/><circle cx="211.2" cy="293.3" r="2.3"/><circle cx="213.3" cy="290.6" r="2.3"/><circle cx="213.3" cy="294.1" r="2.3"/><circle cx="210.3" cy="310.9" r="2.3"/><circle cx="220.0" cy="301.9" r="2.3"/><circle cx="219.7" cy="299.6" r="2.3"/><circle cx="221.7" cy="292.4" r="2.3"/><circle cx="216.7" cy="297.2" r="2.3"/><circle cx="218.2" cy="299.5" r="2.3"/><circle cx="210.9" cy="313.9" r="2.3"/><circle cx="215.9" cy="287.6" r="2.3"/><circle cx="211.5" cy="311.7" r="2.3"/><circle cx="205.2" cy="310.9" r="2.3"/><circle cx="212.2" cy="302.0" r="2.3"/><circle cx="206.6" cy="293.8" r="2.3"/><circle cx="229.9" cy="297.0" r="2.3"/><circle cx="222.0" cy="310.8" r="2.3"/><circle cx="208.1" cy="295.4" r="2.3"/><circle cx="215.9" cy="297.7" r="2.3"/><circle cx="226.0" cy="294.9" r="2.3"/><circle cx="234.8" cy="309.8" r="2.3"/><circle cx="233.0" cy="311.1" r="2.3"/><circle cx="220.9" cy="303.5" r="2.3"/><circle cx="235.1" cy="308.3" r="2.3"/><circle cx="206.2" cy="311.0" r="2.3"/><circle cx="206.9" cy="299.3" r="2.3"/><circle cx="223.3" cy="295.6" r="2.3"/><circle cx="215.3" cy="299.2" r="2.3"/><circle cx="224.5" cy="313.0" r="2.3"/><circle cx="221.6" cy="309.5" r="2.3"/><circle cx="209.3" cy="306.4" r="2.3"/><circle cx="219.2" cy="309.4" r="2.3"/><circle cx="208.8" cy="312.1" r="2.3"/><circle cx="214.2" cy="300.4" r="2.3"/><circle cx="218.7" cy="309.5" r="2.3"/><circle cx="219.2" cy="297.1" r="2.3"/><circle cx="218.3" cy="310.1" r="2.3"/><circle cx="214.4" cy="305.3" r="2.3"/><circle cx="228.9" cy="298.1" r="2.3"/><circle cx="211.4" cy="303.2" r="2.3"/><circle cx="206.7" cy="295.7" r="2.3"/><circle cx="206.2" cy="297.8" r="2.3"/><circle cx="234.9" cy="300.6" r="2.3"/><circle cx="208.4" cy="307.0" r="2.3"/><circle cx="214.7" cy="298.1" r="2.3"/><circle cx="232.6" cy="312.2" r="2.3"/><circle cx="206.7" cy="294.6" r="2.3"/><circle cx="210.0" cy="305.1" r="2.3"/><circle cx="231.1" cy="302.2" r="2.3"/><circle cx="222.4" cy="294.6" r="2.3"/><circle cx="218.0" cy="303.8" r="2.3"/><circle cx="223.1" cy="293.4" r="2.3"/><circle cx="209.9" cy="312.3" r="2.3"/><circle cx="239.8" cy="304.2" r="2.3"/><circle cx="233.4" cy="301.0" r="2.3"/><circle cx="209.5" cy="302.2" r="2.3"/><circle cx="212.9" cy="301.5" r="2.3"/><circle cx="210.2" cy="306.3" r="2.3"/><circle cx="214.3" cy="308.8" r="2.3"/><circle cx="211.2" cy="314.7" r="2.3"/><circle cx="212.0" cy="290.5" r="2.3"/><circle cx="210.1" cy="307.3" r="2.3"/><circle cx="224.2" cy="307.0" r="2.3"/><circle cx="206.9" cy="300.4" r="2.3"/><circle cx="217.5" cy="303.6" r="2.3"/><circle cx="211.8" cy="302.5" r="2.3"/><circle cx="218.3" cy="307.2" r="2.3"/><circle cx="221.0" cy="308.5" r="2.3"/><circle cx="226.6" cy="293.7" r="2.3"/><circle cx="211.7" cy="311.6" r="2.3"/><circle cx="206.1" cy="309.2" r="2.3"/><circle cx="226.7" cy="308.1" r="2.3"/><circle cx="205.8" cy="305.2" r="2.3"/><circle cx="227.1" cy="296.0" r="2.3"/><circle cx="230.4" cy="311.6" r="2.3"/><circle cx="207.5" cy="305.2" r="2.3"/><circle cx="219.4" cy="301.8" r="2.3"/><circle cx="220.0" cy="308.4" r="2.3"/><circle cx="219.3" cy="296.7" r="2.3"/><circle cx="208.4" cy="300.7" r="2.3"/><circle cx="222.3" cy="310.9" r="2.3"/><circle cx="210.1" cy="300.2" r="2.3"/><circle cx="207.0" cy="292.9" r="2.3"/><circle cx="214.6" cy="303.6" r="2.3"/><circle cx="223.6" cy="306.2" r="2.3"/><circle cx="216.9" cy="300.8" r="2.3"/><circle cx="217.5" cy="299.0" r="2.3"/><circle cx="222.8" cy="313.0" r="2.3"/><circle cx="223.3" cy="302.6" r="2.3"/><circle cx="210.2" cy="303.6" r="2.3"/><circle cx="208.9" cy="285.1" r="2.3"/><circle cx="209.5" cy="301.0" r="2.3"/><circle cx="212.2" cy="305.9" r="2.3"/><circle cx="226.1" cy="298.8" r="2.3"/><circle cx="210.3" cy="289.6" r="2.3"/><circle cx="211.3" cy="306.8" r="2.3"/><circle cx="221.8" cy="291.6" r="2.3"/></g>
<g class="p" fill-opacity="0.35" stroke-opacity="0.41"><circle cx="202.5" cy="264.9" r="2.3"/><circle cx="202.5" cy="312.5" r="2.3"/><circle cx="202.5" cy="290.0" r="2.3"/><circle cx="202.5" cy="298.5" r="2.3"/><circle cx="202.5" cy="286.7" r="2.3"/><circle cx="202.5" cy="261.0" r="2.3"/><circle cx="202.5" cy="280.9" r="2.3"/><circle cx="202.5" cy="269.1" r="2.3"/><circle cx="202.5" cy="267.8" r="2.3"/><circle cx="202.5" cy="298.8" r="2.3"/><circle cx="202.5" cy="277.1" r="2.3"/><circle cx="202.5" cy="292.6" r="2.3"/><circle cx="202.5" cy="286.3" r="2.3"/><circle cx="202.5" cy="282.7" r="2.3"/><circle cx="202.5" cy="274.0" r="2.3"/><circle cx="202.5" cy="305.8" r="2.3"/><circle cx="202.5" cy="263.1" r="2.3"/><circle cx="202.5" cy="306.3" r="2.3"/><circle cx="202.5" cy="296.6" r="2.3"/><circle cx="202.5" cy="262.4" r="2.3"/><circle cx="202.5" cy="253.8" r="2.3"/><circle cx="202.5" cy="293.2" r="2.3"/><circle cx="202.5" cy="255.9" r="2.3"/><circle cx="202.5" cy="314.1" r="2.3"/><circle cx="202.5" cy="255.7" r="2.3"/><circle cx="202.5" cy="303.7" r="2.3"/><circle cx="202.5" cy="314.3" r="2.3"/><circle cx="202.5" cy="268.0" r="2.3"/><circle cx="202.5" cy="306.2" r="2.3"/><circle cx="202.5" cy="268.6" r="2.3"/><circle cx="202.5" cy="316.1" r="2.3"/><circle cx="202.5" cy="308.6" r="2.3"/><circle cx="202.5" cy="293.7" r="2.3"/><circle cx="202.5" cy="311.1" r="2.3"/><circle cx="202.5" cy="286.5" r="2.3"/><circle cx="202.5" cy="294.5" r="2.3"/><circle cx="202.5" cy="269.5" r="2.3"/><circle cx="202.5" cy="285.1" r="2.3"/><circle cx="202.5" cy="255.1" r="2.3"/><circle cx="202.5" cy="262.8" r="2.3"/><circle cx="202.5" cy="305.6" r="2.3"/><circle cx="202.5" cy="258.1" r="2.3"/><circle cx="202.5" cy="259.5" r="2.3"/><circle cx="202.5" cy="280.5" r="2.3"/><circle cx="202.5" cy="283.0" r="2.3"/><circle cx="202.5" cy="305.7" r="2.3"/><circle cx="202.5" cy="296.1" r="2.3"/><circle cx="202.5" cy="302.5" r="2.3"/><circle cx="202.5" cy="304.0" r="2.3"/><circle cx="202.5" cy="277.4" r="2.3"/><circle cx="202.5" cy="295.9" r="2.3"/><circle cx="202.5" cy="267.6" r="2.3"/><circle cx="202.5" cy="280.0" r="2.3"/><circle cx="202.5" cy="263.8" r="2.3"/><circle cx="202.5" cy="310.9" r="2.3"/><circle cx="202.5" cy="262.6" r="2.3"/><circle cx="202.5" cy="284.2" r="2.3"/><circle cx="202.5" cy="276.3" r="2.3"/><circle cx="202.5" cy="301.3" r="2.3"/><circle cx="202.5" cy="272.2" r="2.3"/><circle cx="202.5" cy="290.7" r="2.3"/><circle cx="202.5" cy="270.6" r="2.3"/><circle cx="202.5" cy="279.3" r="2.3"/><circle cx="202.5" cy="307.6" r="2.3"/><circle cx="202.5" cy="297.4" r="2.3"/><circle cx="202.5" cy="268.6" r="2.3"/><circle cx="202.5" cy="315.5" r="2.3"/><circle cx="202.5" cy="276.3" r="2.3"/><circle cx="202.5" cy="281.8" r="2.3"/><circle cx="202.5" cy="271.0" r="2.3"/><circle cx="202.5" cy="295.6" r="2.3"/><circle cx="202.5" cy="286.1" r="2.3"/><circle cx="202.5" cy="286.2" r="2.3"/><circle cx="202.5" cy="268.8" r="2.3"/><circle cx="202.5" cy="311.9" r="2.3"/><circle cx="202.5" cy="284.0" r="2.3"/><circle cx="202.5" cy="300.0" r="2.3"/><circle cx="202.5" cy="279.0" r="2.3"/><circle cx="202.5" cy="300.0" r="2.3"/><circle cx="202.5" cy="303.4" r="2.3"/><circle cx="202.5" cy="301.8" r="2.3"/><circle cx="202.5" cy="259.5" r="2.3"/><circle cx="202.5" cy="293.4" r="2.3"/><circle cx="202.5" cy="260.5" r="2.3"/><circle cx="202.5" cy="269.7" r="2.3"/><circle cx="202.5" cy="299.4" r="2.3"/><circle cx="202.5" cy="281.2" r="2.3"/><circle cx="202.5" cy="315.9" r="2.3"/><circle cx="202.5" cy="257.1" r="2.3"/><circle cx="202.5" cy="276.3" r="2.3"/></g>
<g class="q" fill-opacity="0.30" stroke-opacity="0.35"><circle cx="202.5" cy="247.8" r="2.3"/><circle cx="202.5" cy="229.7" r="2.3"/><circle cx="202.5" cy="230.8" r="2.3"/><circle cx="202.5" cy="223.0" r="2.3"/><circle cx="202.5" cy="240.0" r="2.3"/><circle cx="202.5" cy="212.3" r="2.3"/><circle cx="202.5" cy="225.1" r="2.3"/><circle cx="202.5" cy="249.6" r="2.3"/><circle cx="202.5" cy="216.4" r="2.3"/><circle cx="202.5" cy="213.4" r="2.3"/><circle cx="202.5" cy="239.3" r="2.3"/><circle cx="202.5" cy="221.2" r="2.3"/></g>
<g class="q" fill-opacity="0.60" stroke-opacity="0.71"><circle cx="202.5" cy="208.3" r="2.3"/><circle cx="202.5" cy="217.2" r="2.3"/><circle cx="202.5" cy="221.0" r="2.3"/><circle cx="202.5" cy="232.5" r="2.3"/><circle cx="202.5" cy="240.1" r="2.3"/><circle cx="202.5" cy="249.0" r="2.3"/></g>
<g class="q" fill-opacity="0.50" stroke-opacity="0.59"><circle cx="202.5" cy="189.2" r="2.3"/></g>
<g class="p" fill-opacity="0.35" stroke-opacity="0.41"><circle cx="256.0" cy="316.5" r="2.3"/><circle cx="257.4" cy="316.5" r="2.3"/><circle cx="206.9" cy="316.5" r="2.3"/><circle cx="254.6" cy="316.5" r="2.3"/><circle cx="217.9" cy="316.5" r="2.3"/><circle cx="252.4" cy="316.5" r="2.3"/><circle cx="245.2" cy="316.5" r="2.3"/><circle cx="231.5" cy="316.5" r="2.3"/><circle cx="258.6" cy="316.5" r="2.3"/><circle cx="252.5" cy="316.5" r="2.3"/><circle cx="264.3" cy="316.5" r="2.3"/><circle cx="262.1" cy="316.5" r="2.3"/><circle cx="238.2" cy="316.5" r="2.3"/><circle cx="248.2" cy="316.5" r="2.3"/><circle cx="244.2" cy="316.5" r="2.3"/><circle cx="227.4" cy="316.5" r="2.3"/><circle cx="233.5" cy="316.5" r="2.3"/><circle cx="234.1" cy="316.5" r="2.3"/><circle cx="215.9" cy="316.5" r="2.3"/><circle cx="218.7" cy="316.5" r="2.3"/><circle cx="255.0" cy="316.5" r="2.3"/><circle cx="255.1" cy="316.5" r="2.3"/><circle cx="245.9" cy="316.5" r="2.3"/><circle cx="245.3" cy="316.5" r="2.3"/><circle cx="234.2" cy="316.5" r="2.3"/><circle cx="238.1" cy="316.5" r="2.3"/><circle cx="244.0" cy="316.5" r="2.3"/><circle cx="203.0" cy="316.5" r="2.3"/><circle cx="230.1" cy="316.5" r="2.3"/><circle cx="262.8" cy="316.5" r="2.3"/><circle cx="215.3" cy="316.5" r="2.3"/><circle cx="231.6" cy="316.5" r="2.3"/><circle cx="207.3" cy="316.5" r="2.3"/><circle cx="218.4" cy="316.5" r="2.3"/><circle cx="253.8" cy="316.5" r="2.3"/><circle cx="204.5" cy="316.5" r="2.3"/><circle cx="252.2" cy="316.5" r="2.3"/><circle cx="252.1" cy="316.5" r="2.3"/><circle cx="256.5" cy="316.5" r="2.3"/><circle cx="218.5" cy="316.5" r="2.3"/><circle cx="260.4" cy="316.5" r="2.3"/><circle cx="225.6" cy="316.5" r="2.3"/><circle cx="230.5" cy="316.5" r="2.3"/><circle cx="261.6" cy="316.5" r="2.3"/><circle cx="236.4" cy="316.5" r="2.3"/><circle cx="244.8" cy="316.5" r="2.3"/><circle cx="209.4" cy="316.5" r="2.3"/><circle cx="202.8" cy="316.5" r="2.3"/><circle cx="219.0" cy="316.5" r="2.3"/><circle cx="209.1" cy="316.5" r="2.3"/><circle cx="253.7" cy="316.5" r="2.3"/><circle cx="218.0" cy="316.5" r="2.3"/><circle cx="262.1" cy="316.5" r="2.3"/><circle cx="244.7" cy="316.5" r="2.3"/><circle cx="214.4" cy="316.5" r="2.3"/><circle cx="246.7" cy="316.5" r="2.3"/><circle cx="222.3" cy="316.5" r="2.3"/><circle cx="235.3" cy="316.5" r="2.3"/><circle cx="207.2" cy="316.5" r="2.3"/><circle cx="254.3" cy="316.5" r="2.3"/><circle cx="251.5" cy="316.5" r="2.3"/><circle cx="238.6" cy="316.5" r="2.3"/><circle cx="245.5" cy="316.5" r="2.3"/><circle cx="223.6" cy="316.5" r="2.3"/><circle cx="210.4" cy="316.5" r="2.3"/><circle cx="222.7" cy="316.5" r="2.3"/><circle cx="248.5" cy="316.5" r="2.3"/><circle cx="237.5" cy="316.5" r="2.3"/><circle cx="210.9" cy="316.5" r="2.3"/><circle cx="217.5" cy="316.5" r="2.3"/><circle cx="232.0" cy="316.5" r="2.3"/><circle cx="203.4" cy="316.5" r="2.3"/><circle cx="205.3" cy="316.5" r="2.3"/><circle cx="230.5" cy="316.5" r="2.3"/><circle cx="210.8" cy="316.5" r="2.3"/><circle cx="257.8" cy="316.5" r="2.3"/><circle cx="210.5" cy="316.5" r="2.3"/><circle cx="249.1" cy="316.5" r="2.3"/><circle cx="251.9" cy="316.5" r="2.3"/><circle cx="222.1" cy="316.5" r="2.3"/><circle cx="236.2" cy="316.5" r="2.3"/><circle cx="264.2" cy="316.5" r="2.3"/><circle cx="240.9" cy="316.5" r="2.3"/><circle cx="226.6" cy="316.5" r="2.3"/><circle cx="263.2" cy="316.5" r="2.3"/><circle cx="218.6" cy="316.5" r="2.3"/><circle cx="261.9" cy="316.5" r="2.3"/><circle cx="221.8" cy="316.5" r="2.3"/><circle cx="228.7" cy="316.5" r="2.3"/><circle cx="222.1" cy="316.5" r="2.3"/></g>
<g class="q" fill-opacity="0.60" stroke-opacity="0.71"><circle cx="269.8" cy="316.5" r="2.3"/><circle cx="291.9" cy="316.5" r="2.3"/><circle cx="336.2" cy="316.5" r="2.3"/></g>
<g class="p" fill-opacity="0.35" stroke-opacity="0.41"><circle cx="279.4" cy="316.5" r="2.3"/><circle cx="283.2" cy="316.5" r="2.3"/><circle cx="303.5" cy="316.5" r="2.3"/><circle cx="310.3" cy="316.5" r="2.3"/><circle cx="318.0" cy="316.5" r="2.3"/></g>
<g class="q" fill-opacity="0.30" stroke-opacity="0.35"><circle cx="231.9" cy="289.2" r="2.3"/><circle cx="233.8" cy="287.3" r="2.3"/><circle cx="236.4" cy="285.8" r="2.3"/><circle cx="234.7" cy="284.7" r="2.3"/><circle cx="238.3" cy="282.9" r="2.3"/><circle cx="238.9" cy="283.8" r="2.3"/><circle cx="239.6" cy="281.6" r="2.3"/><circle cx="240.3" cy="280.2" r="2.3"/><circle cx="241.5" cy="279.7" r="2.3"/><circle cx="242.3" cy="277.9" r="2.3"/><circle cx="243.0" cy="277.9" r="2.3"/><circle cx="245.4" cy="275.3" r="2.3"/><circle cx="246.9" cy="274.5" r="2.3"/><circle cx="249.0" cy="275.2" r="2.3"/><circle cx="244.6" cy="296.4" r="2.3"/><circle cx="247.3" cy="296.9" r="2.3"/><circle cx="250.4" cy="295.5" r="2.3"/><circle cx="249.7" cy="294.0" r="2.3"/><circle cx="251.8" cy="292.4" r="2.3"/><circle cx="254.3" cy="292.4" r="2.3"/><circle cx="254.4" cy="291.3" r="2.3"/><circle cx="257.8" cy="290.3" r="2.3"/><circle cx="259.3" cy="289.4" r="2.3"/><circle cx="261.7" cy="288.5" r="2.3"/><circle cx="263.9" cy="289.3" r="2.3"/><circle cx="266.7" cy="286.6" r="2.3"/><circle cx="267.9" cy="287.0" r="2.3"/><circle cx="268.7" cy="283.8" r="2.3"/><circle cx="223.3" cy="277.4" r="2.3"/><circle cx="224.3" cy="276.2" r="2.3"/><circle cx="225.6" cy="275.1" r="2.3"/><circle cx="225.5" cy="272.9" r="2.3"/><circle cx="225.6" cy="271.8" r="2.3"/><circle cx="225.9" cy="270.9" r="2.3"/><circle cx="227.3" cy="267.5" r="2.3"/><circle cx="228.2" cy="265.4" r="2.3"/><circle cx="227.7" cy="266.2" r="2.3"/><circle cx="229.0" cy="264.0" r="2.3"/><circle cx="251.6" cy="304.4" r="2.3"/><circle cx="250.8" cy="303.1" r="2.3"/><circle cx="251.8" cy="302.4" r="2.3"/><circle cx="253.9" cy="302.0" r="2.3"/><circle cx="255.3" cy="301.4" r="2.3"/><circle cx="258.2" cy="300.8" r="2.3"/><circle cx="259.5" cy="301.2" r="2.3"/><circle cx="260.2" cy="298.9" r="2.3"/><circle cx="260.4" cy="299.8" r="2.3"/><circle cx="261.7" cy="298.5" r="2.3"/><circle cx="263.4" cy="299.7" r="2.3"/><circle cx="263.9" cy="297.8" r="2.3"/></g>
<g class="p" fill-opacity="0.30" stroke-opacity="0.35"><circle cx="229.5" cy="214.7" r="2.3"/><circle cx="236.3" cy="221.0" r="2.3"/><circle cx="256.6" cy="240.1" r="2.3"/><circle cx="279.4" cy="279.6" r="2.3"/><circle cx="283.6" cy="291.0" r="2.3"/><circle cx="277.5" cy="298.0" r="2.3"/><circle cx="280.9" cy="303.8" r="2.3"/><circle cx="286.3" cy="300.0" r="2.3"/><circle cx="269.8" cy="303.8" r="2.3"/><circle cx="247.7" cy="252.6" r="2.3"/><circle cx="252.5" cy="252.6" r="2.3"/><circle cx="209.3" cy="227.4" r="2.3"/><circle cx="216.0" cy="233.8" r="2.3"/><circle cx="216.0" cy="221.0" r="2.3"/><circle cx="269.8" cy="273.9" r="2.3"/><circle cx="303.9" cy="284.7" r="2.3"/><circle cx="247.1" cy="231.2" r="2.3"/></g>
<g class="q" fill-opacity="0.60" stroke-opacity="0.71"><circle cx="270.1" cy="252.8" r="2.3"/><circle cx="292.7" cy="274.1" r="2.3"/><circle cx="269.8" cy="284.0" r="2.3"/><circle cx="260.2" cy="298.0" r="2.3"/><circle cx="243.1" cy="259.2" r="2.3"/><circle cx="232.2" cy="252.8" r="2.3"/><circle cx="249.8" cy="278.3" r="2.3"/><circle cx="256.6" cy="291.0" r="2.3"/><circle cx="239.0" cy="268.1" r="2.3"/><circle cx="218.7" cy="255.4" r="2.3"/><circle cx="210.6" cy="263.0" r="2.3"/><circle cx="226.8" cy="265.6" r="2.3"/><circle cx="236.3" cy="274.5" r="2.3"/></g>
<rect x="285.80" y="192.80" width="48.0" height="53.2" fill="#fff" stroke="#dadada" stroke-width="0.8"/>
<path d="M322.72 192.80V246.00M285.80 199.30H333.80M285.80 209.35H333.80M285.80 219.40H333.80M285.80 229.45H333.80M285.80 239.50H333.80" stroke="#e2e2e2" stroke-width="0.8" fill="none"/>
<rect x="285.80" y="195.70" width="27.40" height="7.2" fill="#8a8a8a"/>
<text x="282.50" y="202.15" text-anchor="end" font-size="7.6" class="b">1</text>
<rect x="285.80" y="205.75" width="16.62" height="7.2" fill="#8a8a8a"/>
<text x="282.50" y="212.20" text-anchor="end" font-size="7.6" class="b">2</text>
<rect x="285.80" y="215.80" width="15.58" height="7.2" fill="#8a8a8a"/>
<text x="282.50" y="222.25" text-anchor="end" font-size="7.6" class="b">3</text>
<rect x="285.80" y="225.85" width="5.54" height="7.2" fill="#8a8a8a"/>
<text x="282.50" y="232.30" text-anchor="end" font-size="7.6" class="b">4</text>
<rect x="285.80" y="235.90" width="5.76" height="7.2" fill="#8a8a8a"/>
<text x="282.50" y="242.35" text-anchor="end" font-size="7.6" class="b">5</text>
<text x="285.80" y="254.70" text-anchor="middle" font-size="7.4" class="b">0.0</text>
<text x="322.72" y="254.70" text-anchor="middle" font-size="7.4" class="b">0.5</text>
<text x="197.60" y="320.40" text-anchor="end" font-size="10">0.0</text>
<text x="197.60" y="294.94" text-anchor="end" font-size="10">0.2</text>
<text x="197.60" y="269.48" text-anchor="end" font-size="10">0.4</text>
<text x="197.60" y="244.02" text-anchor="end" font-size="10">0.6</text>
<text x="197.60" y="218.56" text-anchor="end" font-size="10">0.8</text>
<text x="197.60" y="193.10" text-anchor="end" font-size="10">1.0</text>
<text x="202.50" y="329.30" text-anchor="middle" font-size="10">0.0</text>
<text x="270.10" y="329.30" text-anchor="middle" font-size="10">0.5</text>
<text x="337.70" y="329.30" text-anchor="middle" font-size="10">1.0</text>
<text x="269.10" y="341.50" text-anchor="middle" font-size="11">f+</text>
<text x="176.80" y="251.80" font-size="10.4">f-</text>
<text x="269.15" y="185.20" text-anchor="middle" font-size="12" stroke-width="0.4">IDEAL</text>
<rect x="376.60" y="188.80" width="137.1" height="129.7" fill="none" stroke="#e0e0e0" stroke-width="1"/>
<path d="M378.50 189.20L513.70 316.50M378.50 271.94L425.82 233.75M425.82 316.50L466.38 271.94M378.50 271.94L425.82 316.50M378.50 284.68L412.30 316.50" fill="none" stroke="#6c6c6c" stroke-width="1.0" stroke-dasharray="2.6 1.8"/>
<g class="p" fill-opacity="0.28" stroke-opacity="0.33"><circle cx="398.0" cy="298.5" r="2.3"/><circle cx="399.1" cy="290.8" r="2.3"/><circle cx="394.7" cy="289.2" r="2.3"/><circle cx="392.9" cy="273.8" r="2.3"/><circle cx="398.8" cy="301.8" r="2.3"/><circle cx="394.7" cy="307.9" r="2.3"/><circle cx="404.6" cy="290.4" r="2.3"/><circle cx="405.8" cy="299.4" r="2.3"/><circle cx="408.2" cy="306.2" r="2.3"/><circle cx="397.8" cy="292.6" r="2.3"/><circle cx="401.9" cy="302.7" r="2.3"/><circle cx="395.0" cy="289.4" r="2.3"/><circle cx="397.5" cy="308.3" r="2.3"/><circle cx="409.4" cy="304.1" r="2.3"/><circle cx="402.4" cy="291.8" r="2.3"/><circle cx="404.0" cy="297.2" r="2.3"/><circle cx="397.2" cy="292.3" r="2.3"/><circle cx="395.9" cy="294.6" r="2.3"/><circle cx="395.5" cy="300.1" r="2.3"/><circle cx="399.7" cy="287.0" r="2.3"/><circle cx="398.8" cy="294.8" r="2.3"/><circle cx="405.4" cy="306.5" r="2.3"/><circle cx="403.5" cy="300.8" r="2.3"/><circle cx="398.6" cy="286.5" r="2.3"/><circle cx="410.1" cy="286.6" r="2.3"/><circle cx="394.6" cy="301.0" r="2.3"/><circle cx="404.7" cy="296.0" r="2.3"/><circle cx="382.6" cy="283.5" r="2.3"/><circle cx="405.0" cy="291.3" r="2.3"/><circle cx="415.4" cy="293.0" r="2.3"/><circle cx="399.2" cy="307.2" r="2.3"/><circle cx="399.4" cy="300.0" r="2.3"/><circle cx="399.6" cy="294.4" r="2.3"/><circle cx="396.8" cy="296.2" r="2.3"/><circle cx="401.0" cy="293.1" r="2.3"/><circle cx="409.9" cy="304.2" r="2.3"/><circle cx="395.5" cy="279.3" r="2.3"/><circle cx="401.5" cy="293.9" r="2.3"/><circle cx="390.5" cy="286.1" r="2.3"/><circle cx="409.2" cy="292.7" r="2.3"/><circle cx="387.8" cy="295.8" r="2.3"/><circle cx="398.4" cy="294.3" r="2.3"/><circle cx="408.3" cy="292.9" r="2.3"/><circle cx="388.0" cy="293.3" r="2.3"/><circle cx="401.2" cy="292.0" r="2.3"/><circle cx="402.6" cy="285.5" r="2.3"/><circle cx="398.3" cy="299.2" r="2.3"/><circle cx="399.2" cy="297.7" r="2.3"/><circle cx="394.4" cy="293.7" r="2.3"/><circle cx="400.4" cy="306.0" r="2.3"/><circle cx="397.6" cy="299.3" r="2.3"/><circle cx="408.8" cy="296.5" r="2.3"/><circle cx="399.1" cy="296.8" r="2.3"/><circle cx="407.1" cy="309.3" r="2.3"/><circle cx="394.2" cy="289.0" r="2.3"/><circle cx="390.5" cy="304.9" r="2.3"/><circle cx="394.7" cy="300.7" r="2.3"/><circle cx="400.4" cy="303.4" r="2.3"/><circle cx="407.8" cy="296.9" r="2.3"/><circle cx="394.2" cy="291.8" r="2.3"/><circle cx="395.7" cy="292.4" r="2.3"/><circle cx="395.2" cy="285.6" r="2.3"/><circle cx="405.1" cy="302.1" r="2.3"/><circle cx="401.4" cy="299.3" r="2.3"/><circle cx="388.3" cy="294.0" r="2.3"/><circle cx="400.8" cy="302.4" r="2.3"/><circle cx="407.9" cy="285.1" r="2.3"/><circle cx="391.8" cy="299.6" r="2.3"/><circle cx="397.6" cy="293.2" r="2.3"/><circle cx="393.2" cy="297.0" r="2.3"/><circle cx="407.1" cy="304.0" r="2.3"/><circle cx="399.8" cy="304.1" r="2.3"/><circle cx="399.5" cy="299.4" r="2.3"/><circle cx="408.4" cy="298.8" r="2.3"/><circle cx="395.9" cy="297.4" r="2.3"/><circle cx="408.3" cy="293.5" r="2.3"/><circle cx="398.0" cy="304.6" r="2.3"/><circle cx="399.2" cy="289.1" r="2.3"/><circle cx="400.6" cy="305.1" r="2.3"/><circle cx="401.9" cy="298.2" r="2.3"/></g>
<g class="p" fill-opacity="0.30" stroke-opacity="0.35"><circle cx="398.9" cy="295.9" r="2.3"/><circle cx="394.4" cy="298.0" r="2.3"/><circle cx="403.4" cy="294.3" r="2.3"/><circle cx="393.8" cy="302.1" r="2.3"/><circle cx="404.1" cy="294.0" r="2.3"/><circle cx="399.5" cy="297.6" r="2.3"/><circle cx="408.0" cy="305.1" r="2.3"/><circle cx="396.9" cy="291.8" r="2.3"/><circle cx="400.9" cy="293.1" r="2.3"/><circle cx="391.9" cy="289.3" r="2.3"/><circle cx="404.7" cy="299.3" r="2.3"/><circle cx="403.8" cy="298.1" r="2.3"/><circle cx="398.7" cy="295.2" r="2.3"/><circle cx="397.8" cy="294.3" r="2.3"/><circle cx="404.9" cy="290.5" r="2.3"/><circle cx="402.0" cy="293.4" r="2.3"/><circle cx="392.8" cy="294.2" r="2.3"/><circle cx="401.2" cy="295.4" r="2.3"/><circle cx="396.5" cy="298.9" r="2.3"/><circle cx="403.6" cy="293.5" r="2.3"/><circle cx="385.1" cy="277.3" r="2.3"/><circle cx="401.8" cy="295.1" r="2.3"/><circle cx="404.4" cy="294.1" r="2.3"/><circle cx="407.2" cy="299.7" r="2.3"/><circle cx="403.5" cy="292.6" r="2.3"/><circle cx="390.1" cy="282.1" r="2.3"/><circle cx="397.0" cy="300.9" r="2.3"/><circle cx="398.6" cy="289.8" r="2.3"/><circle cx="394.0" cy="294.4" r="2.3"/><circle cx="396.8" cy="295.3" r="2.3"/><circle cx="385.8" cy="284.3" r="2.3"/><circle cx="394.0" cy="290.2" r="2.3"/><circle cx="399.0" cy="304.1" r="2.3"/><circle cx="398.4" cy="299.7" r="2.3"/><circle cx="398.0" cy="298.0" r="2.3"/><circle cx="398.1" cy="295.5" r="2.3"/><circle cx="399.9" cy="292.6" r="2.3"/><circle cx="393.9" cy="287.2" r="2.3"/><circle cx="408.9" cy="296.9" r="2.3"/><circle cx="409.1" cy="291.8" r="2.3"/><circle cx="405.3" cy="299.2" r="2.3"/><circle cx="405.2" cy="306.8" r="2.3"/><circle cx="389.5" cy="289.2" r="2.3"/><circle cx="407.3" cy="295.9" r="2.3"/><circle cx="393.6" cy="300.3" r="2.3"/><circle cx="400.0" cy="293.9" r="2.3"/><circle cx="392.0" cy="294.0" r="2.3"/><circle cx="397.6" cy="297.6" r="2.3"/><circle cx="386.8" cy="296.7" r="2.3"/><circle cx="398.6" cy="286.1" r="2.3"/><circle cx="406.0" cy="299.1" r="2.3"/><circle cx="393.9" cy="291.8" r="2.3"/><circle cx="396.3" cy="293.8" r="2.3"/><circle cx="402.4" cy="294.4" r="2.3"/><circle cx="403.7" cy="287.4" r="2.3"/><circle cx="392.2" cy="285.5" r="2.3"/><circle cx="388.9" cy="296.1" r="2.3"/><circle cx="405.1" cy="301.7" r="2.3"/><circle cx="395.2" cy="292.9" r="2.3"/><circle cx="394.8" cy="295.5" r="2.3"/><circle cx="399.5" cy="296.6" r="2.3"/><circle cx="395.8" cy="297.6" r="2.3"/><circle cx="393.3" cy="290.5" r="2.3"/><circle cx="414.6" cy="301.6" r="2.3"/><circle cx="390.9" cy="283.2" r="2.3"/><circle cx="404.7" cy="298.5" r="2.3"/><circle cx="395.7" cy="295.4" r="2.3"/><circle cx="400.2" cy="301.0" r="2.3"/><circle cx="399.6" cy="306.3" r="2.3"/><circle cx="393.3" cy="298.7" r="2.3"/><circle cx="396.3" cy="295.1" r="2.3"/><circle cx="397.0" cy="294.1" r="2.3"/><circle cx="404.7" cy="284.6" r="2.3"/><circle cx="396.8" cy="292.7" r="2.3"/><circle cx="397.2" cy="293.9" r="2.3"/><circle cx="396.0" cy="296.4" r="2.3"/><circle cx="400.2" cy="288.8" r="2.3"/><circle cx="399.5" cy="295.7" r="2.3"/><circle cx="397.3" cy="300.9" r="2.3"/><circle cx="393.6" cy="293.1" r="2.3"/><circle cx="403.4" cy="296.2" r="2.3"/><circle cx="394.3" cy="294.4" r="2.3"/><circle cx="403.3" cy="296.7" r="2.3"/><circle cx="403.9" cy="304.0" r="2.3"/><circle cx="400.4" cy="301.0" r="2.3"/><circle cx="389.1" cy="292.1" r="2.3"/><circle cx="401.4" cy="293.6" r="2.3"/><circle cx="404.6" cy="296.4" r="2.3"/><circle cx="386.8" cy="288.0" r="2.3"/><circle cx="403.4" cy="298.6" r="2.3"/><circle cx="396.4" cy="294.3" r="2.3"/><circle cx="398.9" cy="301.0" r="2.3"/><circle cx="403.8" cy="288.0" r="2.3"/><circle cx="401.9" cy="295.2" r="2.3"/><circle cx="381.9" cy="287.6" r="2.3"/><circle cx="401.3" cy="293.0" r="2.3"/><circle cx="399.9" cy="299.7" r="2.3"/><circle cx="399.7" cy="295.8" r="2.3"/><circle cx="399.1" cy="291.0" r="2.3"/><circle cx="400.1" cy="297.4" r="2.3"/><circle cx="394.0" cy="302.6" r="2.3"/><circle cx="407.7" cy="299.3" r="2.3"/><circle cx="404.2" cy="295.0" r="2.3"/><circle cx="399.3" cy="292.8" r="2.3"/><circle cx="399.1" cy="287.3" r="2.3"/><circle cx="396.4" cy="295.6" r="2.3"/><circle cx="398.4" cy="293.2" r="2.3"/><circle cx="406.3" cy="301.0" r="2.3"/><circle cx="386.2" cy="289.1" r="2.3"/><circle cx="402.1" cy="296.6" r="2.3"/><circle cx="398.7" cy="291.9" r="2.3"/><circle cx="394.1" cy="298.4" r="2.3"/><circle cx="390.2" cy="293.5" r="2.3"/><circle cx="394.5" cy="294.6" r="2.3"/><circle cx="392.8" cy="303.6" r="2.3"/><circle cx="404.3" cy="295.1" r="2.3"/><circle cx="404.1" cy="290.5" r="2.3"/><circle cx="390.1" cy="288.6" r="2.3"/><circle cx="392.7" cy="304.0" r="2.3"/><circle cx="392.9" cy="296.5" r="2.3"/><circle cx="407.7" cy="299.2" r="2.3"/><circle cx="397.5" cy="292.8" r="2.3"/><circle cx="400.4" cy="296.4" r="2.3"/><circle cx="409.1" cy="303.5" r="2.3"/><circle cx="392.3" cy="303.2" r="2.3"/><circle cx="392.3" cy="298.2" r="2.3"/><circle cx="395.9" cy="296.2" r="2.3"/><circle cx="406.0" cy="293.5" r="2.3"/><circle cx="396.3" cy="293.6" r="2.3"/><circle cx="395.1" cy="295.4" r="2.3"/><circle cx="398.0" cy="285.0" r="2.3"/><circle cx="392.7" cy="298.7" r="2.3"/><circle cx="401.0" cy="300.5" r="2.3"/><circle cx="393.7" cy="292.0" r="2.3"/><circle cx="393.3" cy="286.9" r="2.3"/><circle cx="401.9" cy="298.8" r="2.3"/><circle cx="397.9" cy="298.1" r="2.3"/><circle cx="406.4" cy="297.1" r="2.3"/><circle cx="399.5" cy="299.6" r="2.3"/><circle cx="406.7" cy="297.8" r="2.3"/><circle cx="395.1" cy="286.6" r="2.3"/><circle cx="400.3" cy="297.8" r="2.3"/><circle cx="403.3" cy="299.2" r="2.3"/><circle cx="398.0" cy="290.2" r="2.3"/><circle cx="392.8" cy="294.3" r="2.3"/><circle cx="398.3" cy="293.3" r="2.3"/><circle cx="393.4" cy="299.1" r="2.3"/><circle cx="397.1" cy="299.2" r="2.3"/><circle cx="399.4" cy="296.0" r="2.3"/><circle cx="399.4" cy="294.6" r="2.3"/><circle cx="393.0" cy="295.3" r="2.3"/><circle cx="399.6" cy="289.5" r="2.3"/><circle cx="400.1" cy="295.5" r="2.3"/><circle cx="408.9" cy="300.6" r="2.3"/><circle cx="405.4" cy="294.1" r="2.3"/><circle cx="392.6" cy="293.5" r="2.3"/><circle cx="402.6" cy="302.2" r="2.3"/><circle cx="405.8" cy="299.9" r="2.3"/><circle cx="400.9" cy="297.0" r="2.3"/><circle cx="400.7" cy="299.5" r="2.3"/><circle cx="406.6" cy="301.6" r="2.3"/><circle cx="407.0" cy="299.3" r="2.3"/><circle cx="394.1" cy="289.9" r="2.3"/><circle cx="399.1" cy="296.9" r="2.3"/><circle cx="392.5" cy="294.7" r="2.3"/><circle cx="397.9" cy="299.2" r="2.3"/><circle cx="392.4" cy="298.1" r="2.3"/><circle cx="393.2" cy="288.4" r="2.3"/><circle cx="402.7" cy="299.0" r="2.3"/><circle cx="393.1" cy="294.3" r="2.3"/><circle cx="400.9" cy="299.0" r="2.3"/><circle cx="397.7" cy="290.0" r="2.3"/><circle cx="397.1" cy="296.9" r="2.3"/><circle cx="404.6" cy="297.7" r="2.3"/><circle cx="398.1" cy="299.9" r="2.3"/><circle cx="403.6" cy="295.8" r="2.3"/><circle cx="396.8" cy="295.4" r="2.3"/><circle cx="405.4" cy="297.9" r="2.3"/><circle cx="397.6" cy="294.5" r="2.3"/><circle cx="398.9" cy="290.7" r="2.3"/><circle cx="397.0" cy="297.0" r="2.3"/><circle cx="394.8" cy="293.5" r="2.3"/><circle cx="391.8" cy="295.9" r="2.3"/><circle cx="390.5" cy="293.5" r="2.3"/><circle cx="397.3" cy="296.1" r="2.3"/><circle cx="395.6" cy="298.8" r="2.3"/><circle cx="399.5" cy="306.7" r="2.3"/><circle cx="393.0" cy="285.7" r="2.3"/><circle cx="399.7" cy="288.4" r="2.3"/><circle cx="408.1" cy="297.6" r="2.3"/><circle cx="393.6" cy="291.8" r="2.3"/><circle cx="394.0" cy="293.6" r="2.3"/><circle cx="399.7" cy="288.0" r="2.3"/><circle cx="397.6" cy="295.9" r="2.3"/><circle cx="397.3" cy="283.5" r="2.3"/><circle cx="397.9" cy="290.9" r="2.3"/><circle cx="394.5" cy="296.0" r="2.3"/><circle cx="412.3" cy="303.7" r="2.3"/><circle cx="401.2" cy="293.3" r="2.3"/><circle cx="401.4" cy="291.3" r="2.3"/><circle cx="397.2" cy="287.5" r="2.3"/><circle cx="400.2" cy="296.8" r="2.3"/><circle cx="401.2" cy="295.5" r="2.3"/><circle cx="397.8" cy="292.4" r="2.3"/><circle cx="394.5" cy="291.9" r="2.3"/><circle cx="396.9" cy="307.1" r="2.3"/><circle cx="404.0" cy="297.4" r="2.3"/><circle cx="397.1" cy="296.6" r="2.3"/><circle cx="390.8" cy="299.1" r="2.3"/><circle cx="400.8" cy="297.5" r="2.3"/><circle cx="412.0" cy="300.3" r="2.3"/><circle cx="405.3" cy="308.2" r="2.3"/><circle cx="412.7" cy="303.9" r="2.3"/><circle cx="414.1" cy="305.1" r="2.3"/><circle cx="408.6" cy="306.9" r="2.3"/><circle cx="414.2" cy="305.7" r="2.3"/><circle cx="413.2" cy="305.6" r="2.3"/><circle cx="405.1" cy="302.1" r="2.3"/><circle cx="411.6" cy="311.8" r="2.3"/><circle cx="405.7" cy="302.6" r="2.3"/><circle cx="411.9" cy="305.4" r="2.3"/><circle cx="404.3" cy="302.9" r="2.3"/><circle cx="405.8" cy="311.5" r="2.3"/><circle cx="399.7" cy="301.8" r="2.3"/><circle cx="404.1" cy="302.1" r="2.3"/><circle cx="411.0" cy="311.9" r="2.3"/><circle cx="407.8" cy="308.6" r="2.3"/><circle cx="411.8" cy="310.6" r="2.3"/><circle cx="412.4" cy="306.3" r="2.3"/><circle cx="407.2" cy="304.1" r="2.3"/><circle cx="403.8" cy="304.1" r="2.3"/><circle cx="420.4" cy="307.0" r="2.3"/><circle cx="404.2" cy="297.9" r="2.3"/><circle cx="411.4" cy="304.9" r="2.3"/><circle cx="408.8" cy="308.6" r="2.3"/><circle cx="405.4" cy="306.7" r="2.3"/><circle cx="414.0" cy="303.0" r="2.3"/><circle cx="407.9" cy="307.5" r="2.3"/><circle cx="400.8" cy="304.8" r="2.3"/><circle cx="403.0" cy="303.3" r="2.3"/><circle cx="401.0" cy="302.6" r="2.3"/><circle cx="407.2" cy="306.7" r="2.3"/><circle cx="408.2" cy="307.1" r="2.3"/><circle cx="405.7" cy="306.3" r="2.3"/><circle cx="415.3" cy="309.8" r="2.3"/></g>
<g class="p" fill-opacity="0.25" stroke-opacity="0.29"><circle cx="397.4" cy="278.9" r="2.3"/><circle cx="403.5" cy="278.3" r="2.3"/><circle cx="406.9" cy="280.9" r="2.3"/><circle cx="415.1" cy="284.7" r="2.3"/><circle cx="415.7" cy="288.5" r="2.3"/><circle cx="417.6" cy="296.6" r="2.3"/><circle cx="419.7" cy="298.7" r="2.3"/><circle cx="419.1" cy="306.3" r="2.3"/><circle cx="426.5" cy="308.9" r="2.3"/><circle cx="412.3" cy="311.4" r="2.3"/><circle cx="394.6" cy="312.4" r="2.3"/><circle cx="388.5" cy="310.1" r="2.3"/><circle cx="379.9" cy="289.1" r="2.3"/><circle cx="378.5" cy="316.5" r="2.3"/></g>
<rect x="461.80" y="192.80" width="48.0" height="53.2" fill="#fff" stroke="#dadada" stroke-width="0.8"/>
<path d="M498.72 192.80V246.00M461.80 199.30H509.80M461.80 209.35H509.80M461.80 219.40H509.80M461.80 229.45H509.80M461.80 239.50H509.80" stroke="#e2e2e2" stroke-width="0.8" fill="none"/>
<rect x="461.80" y="195.70" width="13.22" height="7.2" fill="#8a8a8a"/>
<text x="458.50" y="202.15" text-anchor="end" font-size="7.6" class="b">1</text>
<rect x="461.80" y="205.75" width="39.43" height="7.2" fill="#8a8a8a"/>
<text x="458.50" y="212.20" text-anchor="end" font-size="7.6" class="b">2</text>
<rect x="461.80" y="215.80" width="19.94" height="7.2" fill="#8a8a8a"/>
<text x="458.50" y="222.25" text-anchor="end" font-size="7.6" class="b">3</text>
<text x="458.50" y="232.30" text-anchor="end" font-size="7.6" class="b">4</text>
<text x="458.50" y="242.35" text-anchor="end" font-size="7.6" class="b">5</text>
<text x="461.80" y="254.70" text-anchor="middle" font-size="7.4" class="b">0.0</text>
<text x="498.72" y="254.70" text-anchor="middle" font-size="7.4" class="b">0.5</text>
<text x="373.60" y="320.40" text-anchor="end" font-size="10">0.0</text>
<text x="373.60" y="294.94" text-anchor="end" font-size="10">0.2</text>
<text x="373.60" y="269.48" text-anchor="end" font-size="10">0.4</text>
<text x="373.60" y="244.02" text-anchor="end" font-size="10">0.6</text>
<text x="373.60" y="218.56" text-anchor="end" font-size="10">0.8</text>
<text x="373.60" y="193.10" text-anchor="end" font-size="10">1.0</text>
<text x="378.50" y="329.30" text-anchor="middle" font-size="10">0.0</text>
<text x="446.10" y="329.30" text-anchor="middle" font-size="10">0.5</text>
<text x="513.70" y="329.30" text-anchor="middle" font-size="10">1.0</text>
<text x="445.10" y="341.50" text-anchor="middle" font-size="11">f+</text>
<text x="352.80" y="251.80" font-size="10.4">f-</text>
<text x="445.15" y="185.20" text-anchor="middle" font-size="12" stroke-width="0.4">MFIB</text>
<rect x="24.30" y="365.00" width="137.1" height="129.7" fill="none" stroke="#e0e0e0" stroke-width="1"/>
<path d="M26.20 365.40L161.40 492.70M26.20 448.14L73.52 409.95M73.52 492.70L114.08 448.14M26.20 448.14L73.52 492.70M26.20 460.88L60.00 492.70" fill="none" stroke="#6c6c6c" stroke-width="1.0" stroke-dasharray="2.6 1.8"/>
<g class="p" fill-opacity="0.28" stroke-opacity="0.33"><circle cx="37.4" cy="459.5" r="2.3"/><circle cx="32.5" cy="449.4" r="2.3"/><circle cx="35.1" cy="455.0" r="2.3"/><circle cx="48.1" cy="453.5" r="2.3"/><circle cx="34.7" cy="461.7" r="2.3"/><circle cx="36.5" cy="459.6" r="2.3"/><circle cx="45.2" cy="450.3" r="2.3"/><circle cx="43.3" cy="461.7" r="2.3"/><circle cx="37.8" cy="449.3" r="2.3"/><circle cx="30.6" cy="453.5" r="2.3"/><circle cx="29.6" cy="452.5" r="2.3"/><circle cx="44.8" cy="457.5" r="2.3"/><circle cx="49.5" cy="459.4" r="2.3"/><circle cx="40.9" cy="448.2" r="2.3"/><circle cx="30.3" cy="448.6" r="2.3"/><circle cx="27.1" cy="455.3" r="2.3"/><circle cx="33.5" cy="446.8" r="2.3"/><circle cx="29.1" cy="446.5" r="2.3"/><circle cx="27.6" cy="452.0" r="2.3"/><circle cx="41.3" cy="455.8" r="2.3"/><circle cx="49.3" cy="457.5" r="2.3"/><circle cx="27.7" cy="453.4" r="2.3"/><circle cx="42.5" cy="465.0" r="2.3"/><circle cx="28.8" cy="447.6" r="2.3"/><circle cx="39.2" cy="459.2" r="2.3"/><circle cx="31.2" cy="451.0" r="2.3"/><circle cx="32.9" cy="449.5" r="2.3"/><circle cx="37.6" cy="456.2" r="2.3"/><circle cx="47.1" cy="457.8" r="2.3"/><circle cx="28.2" cy="455.0" r="2.3"/><circle cx="33.2" cy="445.9" r="2.3"/><circle cx="40.5" cy="459.0" r="2.3"/><circle cx="32.1" cy="453.4" r="2.3"/><circle cx="36.3" cy="445.0" r="2.3"/><circle cx="32.2" cy="457.6" r="2.3"/><circle cx="33.9" cy="456.3" r="2.3"/><circle cx="42.1" cy="455.8" r="2.3"/><circle cx="32.9" cy="455.1" r="2.3"/><circle cx="31.1" cy="454.3" r="2.3"/><circle cx="35.6" cy="446.4" r="2.3"/></g>
<g class="q" fill-opacity="0.25" stroke-opacity="0.29"><circle cx="32.1" cy="449.3" r="2.3"/><circle cx="36.3" cy="457.7" r="2.3"/><circle cx="44.0" cy="455.2" r="2.3"/><circle cx="31.3" cy="454.6" r="2.3"/><circle cx="34.3" cy="457.8" r="2.3"/><circle cx="36.8" cy="454.9" r="2.3"/><circle cx="41.8" cy="456.8" r="2.3"/><circle cx="29.0" cy="448.7" r="2.3"/><circle cx="40.7" cy="458.3" r="2.3"/><circle cx="42.0" cy="455.7" r="2.3"/><circle cx="31.8" cy="451.1" r="2.3"/><circle cx="37.4" cy="456.3" r="2.3"/><circle cx="38.3" cy="457.3" r="2.3"/><circle cx="36.3" cy="453.6" r="2.3"/><circle cx="38.9" cy="453.5" r="2.3"/><circle cx="26.9" cy="453.5" r="2.3"/><circle cx="37.9" cy="452.5" r="2.3"/><circle cx="32.3" cy="450.1" r="2.3"/><circle cx="32.7" cy="449.7" r="2.3"/><circle cx="37.1" cy="453.9" r="2.3"/><circle cx="30.6" cy="455.6" r="2.3"/><circle cx="37.2" cy="454.0" r="2.3"/><circle cx="35.6" cy="455.4" r="2.3"/><circle cx="41.9" cy="458.2" r="2.3"/><circle cx="38.6" cy="452.2" r="2.3"/><circle cx="38.0" cy="454.4" r="2.3"/><circle cx="31.4" cy="447.9" r="2.3"/><circle cx="42.1" cy="458.9" r="2.3"/><circle cx="32.9" cy="456.9" r="2.3"/><circle cx="30.4" cy="453.3" r="2.3"/><circle cx="32.3" cy="453.4" r="2.3"/><circle cx="38.1" cy="457.3" r="2.3"/><circle cx="31.3" cy="450.5" r="2.3"/><circle cx="40.0" cy="456.1" r="2.3"/><circle cx="32.6" cy="452.2" r="2.3"/><circle cx="37.3" cy="451.8" r="2.3"/><circle cx="37.0" cy="456.7" r="2.3"/><circle cx="33.1" cy="453.3" r="2.3"/><circle cx="30.2" cy="455.6" r="2.3"/><circle cx="39.8" cy="452.9" r="2.3"/><circle cx="38.6" cy="450.7" r="2.3"/><circle cx="35.1" cy="456.3" r="2.3"/><circle cx="36.8" cy="451.8" r="2.3"/><circle cx="32.3" cy="447.4" r="2.3"/><circle cx="41.4" cy="459.9" r="2.3"/><circle cx="32.8" cy="451.4" r="2.3"/><circle cx="37.7" cy="451.4" r="2.3"/><circle cx="38.0" cy="455.4" r="2.3"/><circle cx="34.2" cy="452.6" r="2.3"/><circle cx="38.3" cy="457.3" r="2.3"/><circle cx="35.0" cy="454.1" r="2.3"/><circle cx="34.6" cy="457.7" r="2.3"/><circle cx="38.4" cy="460.0" r="2.3"/><circle cx="36.2" cy="457.0" r="2.3"/><circle cx="36.3" cy="450.1" r="2.3"/><circle cx="45.4" cy="454.5" r="2.3"/><circle cx="35.5" cy="458.0" r="2.3"/><circle cx="35.3" cy="453.2" r="2.3"/><circle cx="29.8" cy="454.7" r="2.3"/><circle cx="37.7" cy="453.8" r="2.3"/></g>
<g class="p" fill-opacity="0.28" stroke-opacity="0.33"><circle cx="41.7" cy="479.1" r="2.3"/><circle cx="46.1" cy="480.1" r="2.3"/><circle cx="56.7" cy="478.9" r="2.3"/><circle cx="41.2" cy="467.2" r="2.3"/><circle cx="38.8" cy="475.7" r="2.3"/><circle cx="48.4" cy="483.1" r="2.3"/><circle cx="46.4" cy="478.6" r="2.3"/><circle cx="36.8" cy="472.3" r="2.3"/><circle cx="43.5" cy="474.5" r="2.3"/><circle cx="47.0" cy="480.5" r="2.3"/><circle cx="50.9" cy="467.0" r="2.3"/><circle cx="35.1" cy="474.7" r="2.3"/><circle cx="43.9" cy="481.7" r="2.3"/><circle cx="46.2" cy="475.7" r="2.3"/><circle cx="42.6" cy="470.9" r="2.3"/><circle cx="41.6" cy="476.4" r="2.3"/><circle cx="47.7" cy="474.6" r="2.3"/><circle cx="47.9" cy="469.2" r="2.3"/><circle cx="37.9" cy="470.7" r="2.3"/><circle cx="51.9" cy="475.8" r="2.3"/><circle cx="44.4" cy="471.8" r="2.3"/><circle cx="47.7" cy="474.1" r="2.3"/><circle cx="41.5" cy="471.5" r="2.3"/><circle cx="40.9" cy="472.5" r="2.3"/><circle cx="43.3" cy="485.0" r="2.3"/><circle cx="43.4" cy="472.1" r="2.3"/><circle cx="46.9" cy="475.4" r="2.3"/><circle cx="38.4" cy="480.0" r="2.3"/><circle cx="31.7" cy="469.4" r="2.3"/><circle cx="50.3" cy="468.9" r="2.3"/><circle cx="55.3" cy="483.7" r="2.3"/><circle cx="48.3" cy="480.1" r="2.3"/><circle cx="32.7" cy="471.7" r="2.3"/><circle cx="41.0" cy="470.4" r="2.3"/><circle cx="48.5" cy="474.7" r="2.3"/><circle cx="53.3" cy="467.0" r="2.3"/><circle cx="42.4" cy="468.9" r="2.3"/><circle cx="53.7" cy="478.2" r="2.3"/><circle cx="41.8" cy="472.5" r="2.3"/><circle cx="41.1" cy="469.9" r="2.3"/><circle cx="50.5" cy="477.8" r="2.3"/><circle cx="49.2" cy="476.3" r="2.3"/><circle cx="56.9" cy="474.3" r="2.3"/><circle cx="54.0" cy="472.6" r="2.3"/><circle cx="40.3" cy="475.6" r="2.3"/><circle cx="47.7" cy="480.2" r="2.3"/><circle cx="52.2" cy="477.1" r="2.3"/><circle cx="57.6" cy="482.3" r="2.3"/><circle cx="37.8" cy="466.5" r="2.3"/><circle cx="43.2" cy="481.8" r="2.3"/><circle cx="53.6" cy="475.6" r="2.3"/><circle cx="44.7" cy="477.9" r="2.3"/><circle cx="46.3" cy="473.6" r="2.3"/><circle cx="41.7" cy="474.2" r="2.3"/><circle cx="48.1" cy="479.9" r="2.3"/><circle cx="54.3" cy="477.3" r="2.3"/><circle cx="41.0" cy="471.7" r="2.3"/><circle cx="37.0" cy="468.8" r="2.3"/><circle cx="52.7" cy="485.4" r="2.3"/><circle cx="43.9" cy="473.0" r="2.3"/></g>
<g class="q" fill-opacity="0.25" stroke-opacity="0.29"><circle cx="41.3" cy="478.1" r="2.3"/><circle cx="40.1" cy="478.3" r="2.3"/><circle cx="46.6" cy="479.6" r="2.3"/><circle cx="45.4" cy="476.2" r="2.3"/><circle cx="50.1" cy="477.6" r="2.3"/><circle cx="46.5" cy="473.6" r="2.3"/><circle cx="42.3" cy="476.0" r="2.3"/><circle cx="47.5" cy="476.2" r="2.3"/><circle cx="39.7" cy="472.5" r="2.3"/><circle cx="47.7" cy="476.3" r="2.3"/><circle cx="49.5" cy="479.3" r="2.3"/><circle cx="35.6" cy="475.4" r="2.3"/><circle cx="49.5" cy="479.7" r="2.3"/><circle cx="43.3" cy="474.2" r="2.3"/><circle cx="45.5" cy="469.4" r="2.3"/><circle cx="48.8" cy="472.0" r="2.3"/><circle cx="42.2" cy="470.6" r="2.3"/><circle cx="47.9" cy="481.5" r="2.3"/><circle cx="44.4" cy="478.2" r="2.3"/><circle cx="32.9" cy="473.4" r="2.3"/><circle cx="49.4" cy="477.9" r="2.3"/><circle cx="52.1" cy="472.7" r="2.3"/><circle cx="46.4" cy="474.3" r="2.3"/><circle cx="43.0" cy="475.9" r="2.3"/><circle cx="44.6" cy="479.8" r="2.3"/><circle cx="49.0" cy="468.7" r="2.3"/><circle cx="50.4" cy="476.0" r="2.3"/><circle cx="51.7" cy="477.0" r="2.3"/><circle cx="37.0" cy="471.0" r="2.3"/><circle cx="50.3" cy="478.0" r="2.3"/><circle cx="47.8" cy="473.4" r="2.3"/><circle cx="43.3" cy="477.3" r="2.3"/><circle cx="46.7" cy="471.4" r="2.3"/><circle cx="47.4" cy="471.9" r="2.3"/><circle cx="49.8" cy="472.3" r="2.3"/><circle cx="46.6" cy="466.6" r="2.3"/><circle cx="48.9" cy="472.3" r="2.3"/><circle cx="42.8" cy="475.7" r="2.3"/><circle cx="40.9" cy="476.5" r="2.3"/><circle cx="42.5" cy="475.2" r="2.3"/><circle cx="36.8" cy="471.1" r="2.3"/><circle cx="42.2" cy="475.5" r="2.3"/><circle cx="40.2" cy="466.6" r="2.3"/><circle cx="48.8" cy="474.1" r="2.3"/><circle cx="40.2" cy="473.4" r="2.3"/><circle cx="46.4" cy="474.8" r="2.3"/><circle cx="46.9" cy="478.3" r="2.3"/><circle cx="43.3" cy="470.1" r="2.3"/><circle cx="46.0" cy="474.2" r="2.3"/><circle cx="47.7" cy="480.6" r="2.3"/><circle cx="45.6" cy="471.6" r="2.3"/><circle cx="47.6" cy="473.7" r="2.3"/><circle cx="37.7" cy="473.1" r="2.3"/><circle cx="36.6" cy="472.3" r="2.3"/><circle cx="49.7" cy="475.8" r="2.3"/><circle cx="46.5" cy="474.3" r="2.3"/><circle cx="43.5" cy="475.7" r="2.3"/><circle cx="45.5" cy="475.3" r="2.3"/><circle cx="57.1" cy="473.7" r="2.3"/><circle cx="40.2" cy="470.5" r="2.3"/><circle cx="42.8" cy="474.8" r="2.3"/><circle cx="42.5" cy="470.7" r="2.3"/><circle cx="43.9" cy="480.4" r="2.3"/><circle cx="43.6" cy="476.2" r="2.3"/><circle cx="35.7" cy="469.8" r="2.3"/><circle cx="46.2" cy="471.7" r="2.3"/><circle cx="34.5" cy="479.4" r="2.3"/><circle cx="50.6" cy="475.1" r="2.3"/><circle cx="39.6" cy="471.8" r="2.3"/><circle cx="45.4" cy="475.9" r="2.3"/><circle cx="41.6" cy="475.3" r="2.3"/><circle cx="44.7" cy="480.1" r="2.3"/><circle cx="42.4" cy="472.6" r="2.3"/><circle cx="45.0" cy="480.0" r="2.3"/><circle cx="38.3" cy="474.8" r="2.3"/><circle cx="47.3" cy="475.9" r="2.3"/><circle cx="41.7" cy="479.6" r="2.3"/><circle cx="43.6" cy="466.2" r="2.3"/><circle cx="40.5" cy="464.7" r="2.3"/><circle cx="35.0" cy="476.4" r="2.3"/><circle cx="49.7" cy="480.0" r="2.3"/><circle cx="41.4" cy="470.4" r="2.3"/><circle cx="38.2" cy="475.9" r="2.3"/><circle cx="36.9" cy="468.2" r="2.3"/><circle cx="45.5" cy="470.2" r="2.3"/><circle cx="46.0" cy="472.9" r="2.3"/><circle cx="44.1" cy="473.0" r="2.3"/><circle cx="39.3" cy="475.0" r="2.3"/><circle cx="38.7" cy="468.7" r="2.3"/><circle cx="38.6" cy="474.1" r="2.3"/><circle cx="47.6" cy="473.5" r="2.3"/><circle cx="46.8" cy="474.6" r="2.3"/><circle cx="45.7" cy="476.2" r="2.3"/><circle cx="41.2" cy="475.3" r="2.3"/><circle cx="40.6" cy="479.7" r="2.3"/><circle cx="49.5" cy="483.9" r="2.3"/><circle cx="48.5" cy="476.2" r="2.3"/><circle cx="51.3" cy="476.6" r="2.3"/><circle cx="43.8" cy="470.9" r="2.3"/><circle cx="36.7" cy="473.1" r="2.3"/><circle cx="51.4" cy="471.7" r="2.3"/><circle cx="41.8" cy="477.8" r="2.3"/><circle cx="41.1" cy="471.3" r="2.3"/><circle cx="39.1" cy="469.5" r="2.3"/><circle cx="38.4" cy="470.5" r="2.3"/><circle cx="45.7" cy="475.7" r="2.3"/><circle cx="54.0" cy="475.9" r="2.3"/><circle cx="47.0" cy="468.7" r="2.3"/><circle cx="42.1" cy="472.1" r="2.3"/><circle cx="48.7" cy="475.2" r="2.3"/></g>
<g class="q" fill-opacity="0.45" stroke-opacity="0.53"><circle cx="66.2" cy="488.3" r="2.3"/><circle cx="64.2" cy="488.6" r="2.3"/><circle cx="62.8" cy="487.6" r="2.3"/><circle cx="66.9" cy="488.0" r="2.3"/><circle cx="65.4" cy="487.7" r="2.3"/><circle cx="67.1" cy="488.6" r="2.3"/><circle cx="63.7" cy="488.2" r="2.3"/><circle cx="63.9" cy="488.3" r="2.3"/></g>
<g class="p" fill-opacity="0.30" stroke-opacity="0.35"><circle cx="26.7" cy="435.3" r="2.3"/><circle cx="37.6" cy="444.7" r="2.3"/><circle cx="61.2" cy="466.5" r="2.3"/><circle cx="26.7" cy="475.3" r="2.3"/><circle cx="65.9" cy="474.6" r="2.3"/><circle cx="72.0" cy="474.6" r="2.3"/><circle cx="32.1" cy="480.7" r="2.3"/><circle cx="35.5" cy="490.2" r="2.3"/><circle cx="58.4" cy="473.0" r="2.3"/><circle cx="26.2" cy="466.0" r="2.3"/><circle cx="26.2" cy="462.1" r="2.3"/><circle cx="50.5" cy="486.3" r="2.3"/><circle cx="26.2" cy="454.5" r="2.3"/><circle cx="26.2" cy="450.7" r="2.3"/><circle cx="30.3" cy="467.2" r="2.3"/></g>
<g class="q" fill-opacity="0.55" stroke-opacity="0.65"><circle cx="64.6" cy="461.8" r="2.3"/><circle cx="53.2" cy="480.0" r="2.3"/><circle cx="39.7" cy="485.1" r="2.3"/></g>
<rect x="109.50" y="369.00" width="48.0" height="53.2" fill="#fff" stroke="#dadada" stroke-width="0.8"/>
<path d="M146.42 369.00V422.20M109.50 375.50H157.50M109.50 385.55H157.50M109.50 395.60H157.50M109.50 405.65H157.50M109.50 415.70H157.50" stroke="#e2e2e2" stroke-width="0.8" fill="none"/>
<rect x="109.50" y="371.90" width="14.10" height="7.2" fill="#8a8a8a"/>
<text x="106.20" y="378.35" text-anchor="end" font-size="7.6" class="b">1</text>
<rect x="109.50" y="381.95" width="44.90" height="7.2" fill="#8a8a8a"/>
<text x="106.20" y="388.40" text-anchor="end" font-size="7.6" class="b">2</text>
<rect x="109.50" y="392.00" width="13.00" height="7.2" fill="#8a8a8a"/>
<text x="106.20" y="398.45" text-anchor="end" font-size="7.6" class="b">3</text>
<text x="106.20" y="408.50" text-anchor="end" font-size="7.6" class="b">4</text>
<text x="106.20" y="418.55" text-anchor="end" font-size="7.6" class="b">5</text>
<text x="109.50" y="430.90" text-anchor="middle" font-size="7.4" class="b">0.0</text>
<text x="146.42" y="430.90" text-anchor="middle" font-size="7.4" class="b">0.5</text>
<text x="21.30" y="496.60" text-anchor="end" font-size="10">0.0</text>
<text x="21.30" y="471.14" text-anchor="end" font-size="10">0.2</text>
<text x="21.30" y="445.68" text-anchor="end" font-size="10">0.4</text>
<text x="21.30" y="420.22" text-anchor="end" font-size="10">0.6</text>
<text x="21.30" y="394.76" text-anchor="end" font-size="10">0.8</text>
<text x="21.30" y="369.30" text-anchor="end" font-size="10">1.0</text>
<text x="26.20" y="505.50" text-anchor="middle" font-size="10">0.0</text>
<text x="93.80" y="505.50" text-anchor="middle" font-size="10">0.5</text>
<text x="161.40" y="505.50" text-anchor="middle" font-size="10">1.0</text>
<text x="92.80" y="517.70" text-anchor="middle" font-size="11">f+</text>
<text x="0.50" y="428.00" font-size="10.4">f-</text>
<text x="92.85" y="361.40" text-anchor="middle" font-size="12" stroke-width="0.4">UniProt-Dis</text>
<rect x="200.60" y="365.00" width="137.1" height="129.7" fill="none" stroke="#e0e0e0" stroke-width="1"/>
<path d="M202.50 365.40L337.70 492.70M202.50 448.14L249.82 409.95M249.82 492.70L290.38 448.14M202.50 448.14L249.82 492.70M202.50 460.88L236.30 492.70" fill="none" stroke="#8c8c8c" stroke-width="1.0" stroke-dasharray="2.6 1.8"/>
<text x="197.60" y="496.60" text-anchor="end" font-size="10">0.0</text>
<text x="197.60" y="471.14" text-anchor="end" font-size="10">0.2</text>
<text x="197.60" y="445.68" text-anchor="end" font-size="10">0.4</text>
<text x="197.60" y="420.22" text-anchor="end" font-size="10">0.6</text>
<text x="197.60" y="394.76" text-anchor="end" font-size="10">0.8</text>
<text x="197.60" y="369.30" text-anchor="end" font-size="10">1.0</text>
<text x="202.50" y="505.50" text-anchor="middle" font-size="10">0.0</text>
<text x="270.10" y="505.50" text-anchor="middle" font-size="10">0.5</text>
<text x="337.70" y="505.50" text-anchor="middle" font-size="10">1.0</text>
<circle cx="209.10" cy="485.40" r="8.6" fill="#fff" stroke="#8c8c8c" stroke-width="1.1"/>
<text x="209.10" y="489.30" text-anchor="middle" font-size="11" font-weight="bold" fill="#222">1</text>
<circle cx="225.60" cy="469.80" r="8.6" fill="#fff" stroke="#8c8c8c" stroke-width="1.1"/>
<text x="225.60" y="473.70" text-anchor="middle" font-size="11" font-weight="bold" fill="#222">2</text>
<circle cx="249.50" cy="446.90" r="8.6" fill="#fff" stroke="#8c8c8c" stroke-width="1.1"/>
<text x="249.50" y="450.80" text-anchor="middle" font-size="11" font-weight="bold" fill="#222">3</text>
<circle cx="218.60" cy="408.90" r="8.6" fill="#fff" stroke="#8c8c8c" stroke-width="1.1"/>
<text x="218.60" y="412.80" text-anchor="middle" font-size="11" font-weight="bold" fill="#222">4</text>
<circle cx="290.10" cy="476.10" r="8.6" fill="#fff" stroke="#8c8c8c" stroke-width="1.1"/>
<text x="290.10" y="480.00" text-anchor="middle" font-size="11" font-weight="bold" fill="#222">5</text>
<circle cx="375.80" cy="377.70" r="8.8" fill="#fff" stroke="#8c8c8c" stroke-width="1.1"/>
<text x="375.80" y="381.60" text-anchor="middle" font-size="11" font-weight="bold" fill="#222">1</text>
<text x="389.5" y="375.80" font-size="7.5" class="lg">Weak Polyampholytes</text>
<text x="389.5" y="383.60" font-size="7.5" class="lg">and polyelectrolytes</text>
<circle cx="375.80" cy="402.90" r="8.8" fill="#fff" stroke="#8c8c8c" stroke-width="1.1"/>
<text x="375.80" y="406.80" text-anchor="middle" font-size="11" font-weight="bold" fill="#222">2</text>
<text x="389.5" y="405.60" font-size="7.5" class="lg">Boundary separating 1 &amp; 3</text>
<circle cx="375.80" cy="428.30" r="8.8" fill="#fff" stroke="#8c8c8c" stroke-width="1.1"/>
<text x="375.80" y="432.20" text-anchor="middle" font-size="11" font-weight="bold" fill="#222">3</text>
<text x="389.5" y="431.00" font-size="7.5" class="lg">Strong Polyampholytes</text>
<circle cx="375.80" cy="454.60" r="8.8" fill="#fff" stroke="#8c8c8c" stroke-width="1.1"/>
<text x="375.80" y="458.50" text-anchor="middle" font-size="11" font-weight="bold" fill="#222">4</text>
<text x="389.5" y="457.30" font-size="7.5" class="lg">Negative strong Polyelectrolytes</text>
<circle cx="375.80" cy="480.60" r="8.8" fill="#fff" stroke="#8c8c8c" stroke-width="1.1"/>
<text x="375.80" y="484.50" text-anchor="middle" font-size="11" font-weight="bold" fill="#222">5</text>
<text x="389.5" y="483.30" font-size="7.5" class="lg">Positive strong Polyelectrolytes</text>
</svg></body></html>
